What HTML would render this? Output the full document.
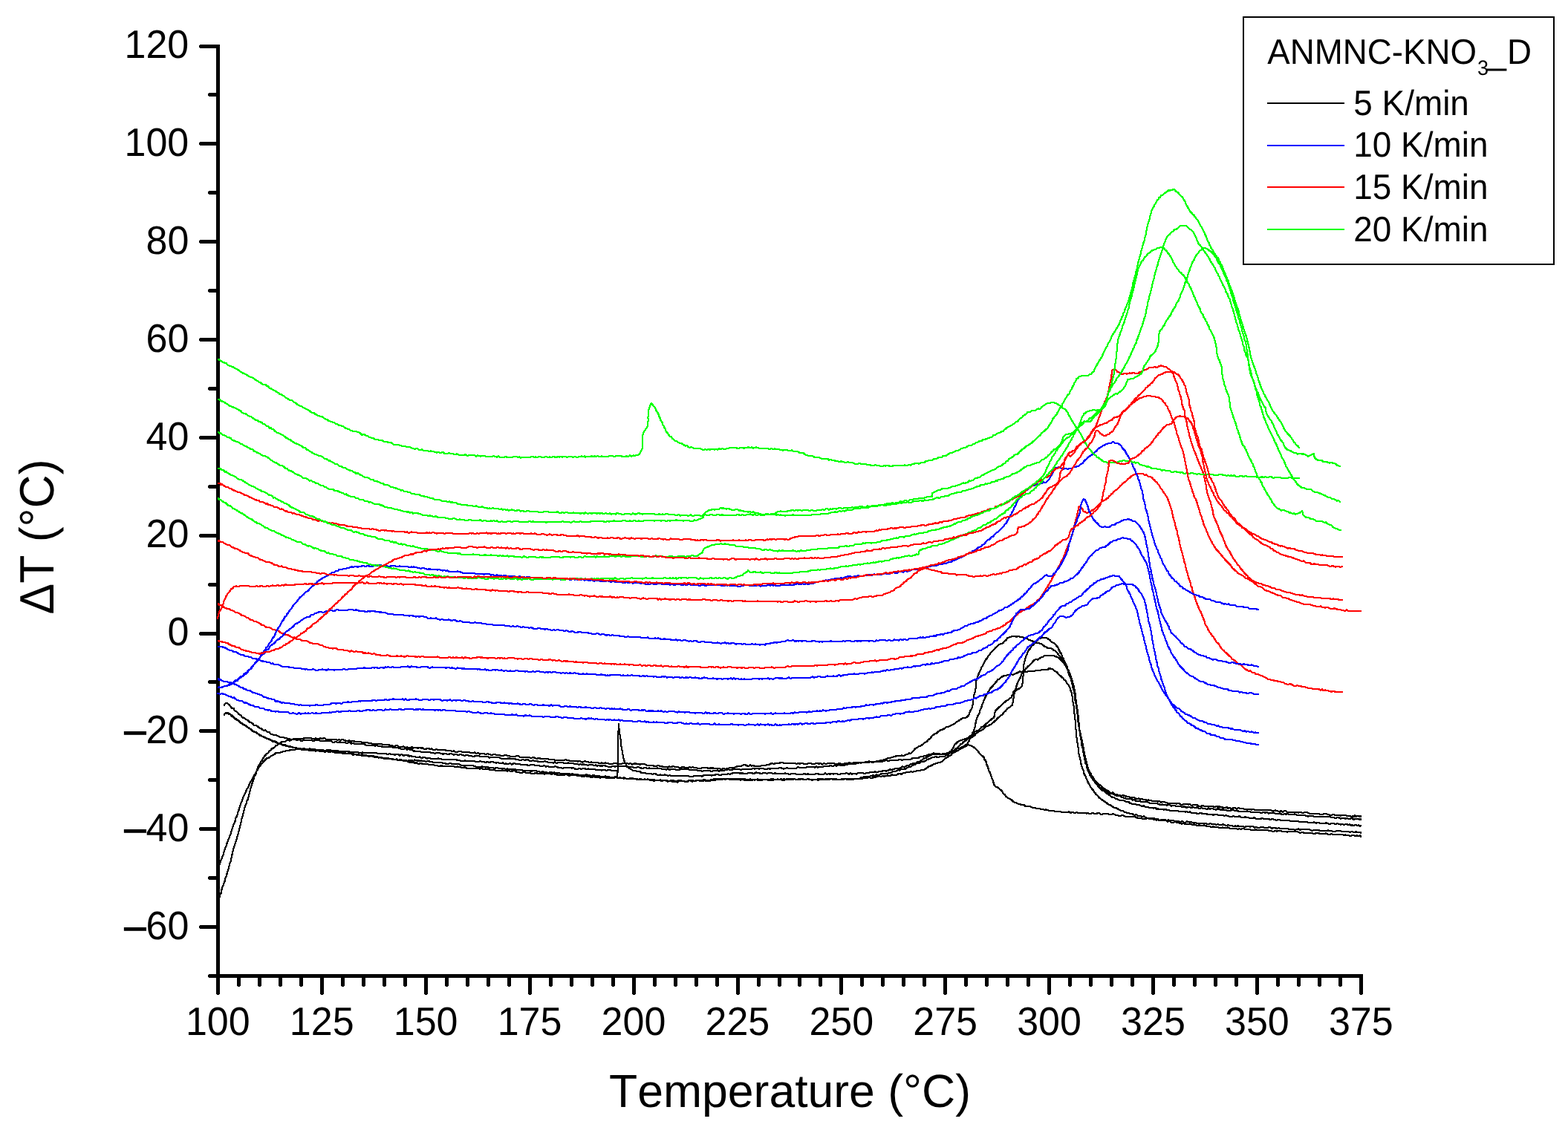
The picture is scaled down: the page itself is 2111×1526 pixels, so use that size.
<!DOCTYPE html>
<html lang="en"><head><meta charset="utf-8"><title>ANMNC-KNO3_D DTA curves</title>
<style>html,body{margin:0;padding:0;background:#fff}body{width:2111px;height:1526px;overflow:hidden}svg{display:block}</style>
</head><body>
<svg width="2111" height="1526" viewBox="0 0 2111 1526" role="img" aria-label="DTA curves of ANMNC-KNO3_D at 5, 10, 15 and 20 K/min">
<rect width="2111" height="1526" fill="#fff"/>
<g fill="#000" shape-rendering="crispEdges">
<rect x="291" y="60" width="5" height="1257"/>
<rect x="291" y="1312" width="1544" height="5"/>
<rect x="269" y="60" width="23" height="5"/>
<rect x="268" y="61" width="1" height="3"/>
<rect x="281" y="125" width="11" height="5"/>
<rect x="280" y="126" width="1" height="3"/>
<rect x="269" y="191" width="23" height="5"/>
<rect x="268" y="192" width="1" height="3"/>
<rect x="281" y="257" width="11" height="5"/>
<rect x="280" y="258" width="1" height="3"/>
<rect x="269" y="323" width="23" height="5"/>
<rect x="268" y="324" width="1" height="3"/>
<rect x="281" y="389" width="11" height="5"/>
<rect x="280" y="390" width="1" height="3"/>
<rect x="269" y="455" width="23" height="5"/>
<rect x="268" y="456" width="1" height="3"/>
<rect x="281" y="521" width="11" height="5"/>
<rect x="280" y="522" width="1" height="3"/>
<rect x="269" y="587" width="23" height="5"/>
<rect x="268" y="588" width="1" height="3"/>
<rect x="281" y="653" width="11" height="5"/>
<rect x="280" y="654" width="1" height="3"/>
<rect x="269" y="719" width="23" height="5"/>
<rect x="268" y="720" width="1" height="3"/>
<rect x="281" y="785" width="11" height="5"/>
<rect x="280" y="786" width="1" height="3"/>
<rect x="269" y="851" width="23" height="5"/>
<rect x="268" y="852" width="1" height="3"/>
<rect x="281" y="916" width="11" height="5"/>
<rect x="280" y="917" width="1" height="3"/>
<rect x="269" y="982" width="23" height="5"/>
<rect x="268" y="983" width="1" height="3"/>
<rect x="281" y="1048" width="11" height="5"/>
<rect x="280" y="1049" width="1" height="3"/>
<rect x="269" y="1114" width="23" height="5"/>
<rect x="268" y="1115" width="1" height="3"/>
<rect x="281" y="1180" width="11" height="5"/>
<rect x="280" y="1181" width="1" height="3"/>
<rect x="269" y="1246" width="23" height="5"/>
<rect x="268" y="1247" width="1" height="3"/>
<rect x="281" y="1312" width="11" height="5"/>
<rect x="280" y="1313" width="1" height="3"/>
<rect x="291" y="1316" width="5" height="23"/>
<rect x="292" y="1339" width="3" height="1"/>
<rect x="319" y="1316" width="5" height="12"/>
<rect x="320" y="1328" width="3" height="1"/>
<rect x="347" y="1316" width="5" height="12"/>
<rect x="348" y="1328" width="3" height="1"/>
<rect x="375" y="1316" width="5" height="12"/>
<rect x="376" y="1328" width="3" height="1"/>
<rect x="403" y="1316" width="5" height="12"/>
<rect x="404" y="1328" width="3" height="1"/>
<rect x="431" y="1316" width="5" height="23"/>
<rect x="432" y="1339" width="3" height="1"/>
<rect x="459" y="1316" width="5" height="12"/>
<rect x="460" y="1328" width="3" height="1"/>
<rect x="487" y="1316" width="5" height="12"/>
<rect x="488" y="1328" width="3" height="1"/>
<rect x="515" y="1316" width="5" height="12"/>
<rect x="516" y="1328" width="3" height="1"/>
<rect x="543" y="1316" width="5" height="12"/>
<rect x="544" y="1328" width="3" height="1"/>
<rect x="571" y="1316" width="5" height="23"/>
<rect x="572" y="1339" width="3" height="1"/>
<rect x="599" y="1316" width="5" height="12"/>
<rect x="600" y="1328" width="3" height="1"/>
<rect x="627" y="1316" width="5" height="12"/>
<rect x="628" y="1328" width="3" height="1"/>
<rect x="655" y="1316" width="5" height="12"/>
<rect x="656" y="1328" width="3" height="1"/>
<rect x="683" y="1316" width="5" height="12"/>
<rect x="684" y="1328" width="3" height="1"/>
<rect x="711" y="1316" width="5" height="23"/>
<rect x="712" y="1339" width="3" height="1"/>
<rect x="739" y="1316" width="5" height="12"/>
<rect x="740" y="1328" width="3" height="1"/>
<rect x="767" y="1316" width="5" height="12"/>
<rect x="768" y="1328" width="3" height="1"/>
<rect x="795" y="1316" width="5" height="12"/>
<rect x="796" y="1328" width="3" height="1"/>
<rect x="823" y="1316" width="5" height="12"/>
<rect x="824" y="1328" width="3" height="1"/>
<rect x="851" y="1316" width="5" height="23"/>
<rect x="852" y="1339" width="3" height="1"/>
<rect x="879" y="1316" width="5" height="12"/>
<rect x="880" y="1328" width="3" height="1"/>
<rect x="907" y="1316" width="5" height="12"/>
<rect x="908" y="1328" width="3" height="1"/>
<rect x="935" y="1316" width="5" height="12"/>
<rect x="936" y="1328" width="3" height="1"/>
<rect x="963" y="1316" width="5" height="12"/>
<rect x="964" y="1328" width="3" height="1"/>
<rect x="991" y="1316" width="5" height="23"/>
<rect x="992" y="1339" width="3" height="1"/>
<rect x="1019" y="1316" width="5" height="12"/>
<rect x="1020" y="1328" width="3" height="1"/>
<rect x="1047" y="1316" width="5" height="12"/>
<rect x="1048" y="1328" width="3" height="1"/>
<rect x="1074" y="1316" width="5" height="12"/>
<rect x="1075" y="1328" width="3" height="1"/>
<rect x="1102" y="1316" width="5" height="12"/>
<rect x="1103" y="1328" width="3" height="1"/>
<rect x="1130" y="1316" width="5" height="23"/>
<rect x="1131" y="1339" width="3" height="1"/>
<rect x="1158" y="1316" width="5" height="12"/>
<rect x="1159" y="1328" width="3" height="1"/>
<rect x="1186" y="1316" width="5" height="12"/>
<rect x="1187" y="1328" width="3" height="1"/>
<rect x="1214" y="1316" width="5" height="12"/>
<rect x="1215" y="1328" width="3" height="1"/>
<rect x="1242" y="1316" width="5" height="12"/>
<rect x="1243" y="1328" width="3" height="1"/>
<rect x="1270" y="1316" width="5" height="23"/>
<rect x="1271" y="1339" width="3" height="1"/>
<rect x="1298" y="1316" width="5" height="12"/>
<rect x="1299" y="1328" width="3" height="1"/>
<rect x="1326" y="1316" width="5" height="12"/>
<rect x="1327" y="1328" width="3" height="1"/>
<rect x="1354" y="1316" width="5" height="12"/>
<rect x="1355" y="1328" width="3" height="1"/>
<rect x="1382" y="1316" width="5" height="12"/>
<rect x="1383" y="1328" width="3" height="1"/>
<rect x="1410" y="1316" width="5" height="23"/>
<rect x="1411" y="1339" width="3" height="1"/>
<rect x="1438" y="1316" width="5" height="12"/>
<rect x="1439" y="1328" width="3" height="1"/>
<rect x="1466" y="1316" width="5" height="12"/>
<rect x="1467" y="1328" width="3" height="1"/>
<rect x="1494" y="1316" width="5" height="12"/>
<rect x="1495" y="1328" width="3" height="1"/>
<rect x="1522" y="1316" width="5" height="12"/>
<rect x="1523" y="1328" width="3" height="1"/>
<rect x="1550" y="1316" width="5" height="23"/>
<rect x="1551" y="1339" width="3" height="1"/>
<rect x="1578" y="1316" width="5" height="12"/>
<rect x="1579" y="1328" width="3" height="1"/>
<rect x="1606" y="1316" width="5" height="12"/>
<rect x="1607" y="1328" width="3" height="1"/>
<rect x="1634" y="1316" width="5" height="12"/>
<rect x="1635" y="1328" width="3" height="1"/>
<rect x="1662" y="1316" width="5" height="12"/>
<rect x="1663" y="1328" width="3" height="1"/>
<rect x="1690" y="1316" width="5" height="23"/>
<rect x="1691" y="1339" width="3" height="1"/>
<rect x="1718" y="1316" width="5" height="12"/>
<rect x="1719" y="1328" width="3" height="1"/>
<rect x="1746" y="1316" width="5" height="12"/>
<rect x="1747" y="1328" width="3" height="1"/>
<rect x="1774" y="1316" width="5" height="12"/>
<rect x="1775" y="1328" width="3" height="1"/>
<rect x="1802" y="1316" width="5" height="12"/>
<rect x="1803" y="1328" width="3" height="1"/>
<rect x="1830" y="1316" width="5" height="23"/>
<rect x="1831" y="1339" width="3" height="1"/>
</g>
<defs><filter id="pen" filterUnits="userSpaceOnUse" x="280" y="230" width="1570" height="1000" color-interpolation-filters="sRGB"><feOffset in="SourceGraphic" dx="1" dy="0" result="a"/><feOffset in="SourceGraphic" dx="0" dy="1" result="b"/><feOffset in="SourceGraphic" dx="1" dy="1" result="c"/><feMerge><feMergeNode in="SourceGraphic"/><feMergeNode in="a"/><feMergeNode in="b"/><feMergeNode in="c"/></feMerge></filter></defs>
<g fill="none" stroke="#000000" stroke-width="1" stroke-linejoin="round" shape-rendering="crispEdges" filter="url(#pen)" transform="translate(-0.5 -0.5)">
<path d="M293.5,1170.0 293.8,1168.8 294.8,1166.1 296.2,1163.3 296.6,1161.5 297.1,1159.5 298.0,1157.8 298.7,1155.7 299.6,1153.7 300.4,1151.5 301.0,1149.2 301.7,1146.9 302.3,1144.8 303.0,1142.8 303.9,1141.1 304.6,1139.2 305.3,1137.3 305.7,1135.0 306.7,1133.4 307.2,1131.2 308.2,1129.6 308.7,1127.4 309.6,1125.7 310.3,1123.8 311.0,1121.9 311.5,1119.7 312.3,1117.9 312.7,1115.6 313.5,1113.7 314.1,1111.7 314.9,1109.8 315.6,1107.9 316.5,1106.1 317.0,1103.9 317.5,1101.7 318.5,1100.0 319.3,1098.0 320.0,1096.1 320.3,1093.6 321.3,1092.0 321.8,1089.7 322.4,1087.6 323.0,1085.4 324.2,1083.9 324.5,1081.4 325.4,1079.7 326.1,1077.6 326.7,1075.6 327.3,1073.5 328.4,1071.8 329.2,1069.7 330.3,1068.2 330.8,1065.7 332.0,1064.4 332.7,1062.2 334.0,1061.0 334.7,1058.5 335.8,1056.5 336.7,1054.3 337.7,1052.1 339.1,1050.8 339.9,1048.5 341.1,1047.0 341.9,1044.8 343.1,1043.5 343.9,1041.4 344.9,1039.8 345.9,1038.2 346.3,1036.0 346.9,1033.9 347.7,1031.9 348.8,1030.1 350.0,1028.6 350.9,1026.4 352.2,1024.8 353.4,1022.7 354.7,1020.8 356.0,1018.8 357.4,1017.1 358.6,1015.4 360.4,1014.8 361.7,1013.1 362.9,1011.0 364.6,1010.5 365.9,1008.4 367.6,1007.8 369.6,1006.6 371.2,1004.1 373.4,1003.8 375.3,1002.0 377.5,1000.8 379.4,999.3 381.5,999.5 383.6,999.1 385.7,997.5 387.9,997.2 390.1,997.6 392.1,996.9 394.1,995.8 396.2,995.1 398.3,995.4 400.4,995.7 402.5,995.0 404.6,994.8 406.7,994.7 408.7,994.7 410.8,993.6 412.9,994.5 415.0,994.2 417.0,993.6 419.0,994.4 421.0,994.7 423.0,994.9 425.2,994.4 427.5,994.9 429.3,995.5 431.2,994.0 433.1,995.2 435.2,994.4 437.3,994.4 439.5,996.1 441.6,995.8 443.9,995.6 446.0,995.9 448.2,996.1 450.4,995.5 452.5,995.8 454.5,997.1 456.5,996.1 458.4,996.9 460.4,996.3 462.3,996.4 464.2,997.0 466.1,998.3 468.2,997.8 470.3,997.4 472.5,998.7 475.0,997.8 477.5,998.7 479.1,998.5 480.7,999.1 482.6,998.6 484.5,999.1 486.5,999.6 488.6,1000.7 490.8,999.9 493.1,999.7 495.5,1000.6 497.9,1000.6 500.3,1001.5 502.8,1001.9 505.4,1002.3 508.0,1002.3 510.6,1001.7 513.1,1001.9 515.7,1003.0 518.3,1002.6 520.8,1002.9 523.3,1003.2 525.8,1004.4 528.2,1004.5 530.6,1005.1 532.9,1004.5 535.1,1004.4 537.2,1006.2 539.3,1005.5 541.2,1006.2 543.1,1005.2 544.8,1005.9 546.3,1007.2 547.8,1006.4 549.0,1006.6 550.1,1007.2 551.1,1006.6 551.9,1006.5 552.5,1006.6 554.0,1007.5 554.5,1006.0 555.0,1006.9 555.6,1007.8 556.4,1007.6 557.2,1007.4 558.1,1007.5 559.2,1006.5 560.3,1007.5 561.5,1007.0 562.7,1008.2 564.1,1007.1 565.5,1007.0 567.0,1008.0 568.5,1007.2 570.1,1008.2 571.8,1009.1 573.6,1008.7 575.4,1007.7 577.3,1007.9 579.2,1009.5 581.2,1008.4 583.3,1009.8 585.3,1010.3 587.5,1009.1 589.7,1009.8 591.9,1010.2 594.2,1010.4 596.5,1009.9 598.8,1010.0 601.1,1011.0 603.5,1011.4 606.0,1010.7 608.4,1011.9 610.9,1011.5 613.3,1012.8 615.9,1012.7 618.4,1011.5 620.9,1012.4 623.4,1013.2 626.0,1012.6 628.6,1012.5 631.1,1012.8 633.7,1014.1 636.2,1014.0 638.8,1013.4 641.3,1014.8 643.9,1014.1 646.3,1015.6 648.9,1015.0 651.4,1015.0 653.8,1016.0 656.3,1015.2 658.7,1015.9 661.1,1016.7 663.5,1016.5 665.8,1015.7 668.1,1016.7 670.3,1017.2 672.6,1017.1 674.7,1017.9 676.9,1017.8 679.0,1017.5 681.0,1017.2 683.0,1017.6 685.0,1017.6 687.1,1018.8 689.2,1018.7 691.3,1018.9 693.5,1019.3 695.7,1018.0 697.9,1018.2 700.1,1019.8 702.3,1019.6 704.6,1020.0 706.9,1019.6 709.1,1020.1 711.5,1019.6 713.8,1020.6 716.1,1020.6 718.5,1020.3 720.8,1021.2 723.1,1022.0 725.5,1020.8 727.9,1022.0 730.3,1022.1 732.6,1021.6 735.0,1022.1 737.4,1022.4 739.7,1022.7 742.1,1022.5 744.5,1022.7 746.8,1023.8 749.2,1023.9 751.5,1023.6 753.8,1023.6 756.1,1024.3 758.4,1024.1 760.7,1023.3 763.0,1023.6 765.2,1024.1 767.4,1024.7 769.7,1024.7 771.8,1025.1 774.0,1025.3 776.1,1024.6 778.2,1025.7 780.3,1024.8 782.3,1025.8 784.3,1026.8 786.4,1025.5 788.3,1025.4 790.2,1026.3 792.1,1026.1 793.9,1027.2 795.7,1026.4 797.5,1027.5 799.2,1026.7 800.9,1027.1 802.5,1026.8 804.1,1027.2 805.6,1027.5 807.0,1028.4 808.5,1028.1 809.9,1026.9 811.2,1028.3 812.4,1028.2 813.6,1027.7 814.8,1027.4 815.9,1028.0 816.9,1027.7 817.9,1028.0 820.7,1028.9 822.9,1028.5 824.7,1029.0 826.4,1027.9 828.2,1027.7 830.5,1028.5 832.2,1029.0 834.0,1029.0 835.9,1029.0 837.8,1028.3 839.9,1028.5 842.0,1028.4 844.2,1027.7 846.4,1028.8 848.6,1028.1 850.8,1029.6 853.1,1028.8 855.3,1028.1 857.5,1029.6 859.7,1028.6 861.7,1030.0 863.8,1028.7 865.9,1029.0 868.0,1029.4 870.0,1030.5 872.0,1030.8 874.1,1031.1 876.2,1031.0 878.2,1030.7 880.3,1031.6 882.4,1032.1 884.5,1031.4 886.6,1031.4 888.7,1031.6 890.8,1032.0 893.0,1033.0 895.0,1033.2 897.0,1033.4 899.1,1033.0 901.2,1032.2 903.3,1033.5 905.4,1032.2 907.5,1032.5 909.6,1032.8 911.7,1032.7 913.9,1033.9 916.0,1033.8 918.1,1033.5 920.2,1032.8 922.3,1034.4 924.4,1034.3 926.5,1034.2 928.5,1033.1 930.5,1034.0 932.7,1033.2 934.9,1034.4 937.2,1034.2 939.4,1034.9 941.6,1034.9 943.9,1034.6 946.1,1034.1 948.3,1034.1 950.4,1034.3 952.5,1034.2 954.5,1035.6 956.5,1034.1 958.3,1034.8 960.1,1034.1 961.7,1035.3 964.2,1035.3 966.3,1035.6 968.4,1034.7 970.3,1036.2 972.2,1035.9 974.2,1035.0 976.4,1035.7 978.5,1035.3 980.7,1034.9 982.7,1034.1 984.8,1034.2 986.8,1034.3 989.1,1033.8 991.1,1032.9 993.2,1032.0 995.5,1031.8 997.3,1031.6 999.2,1031.5 1001.3,1029.9 1003.4,1030.2 1005.6,1031.4 1007.7,1032.0 1009.8,1030.4 1011.7,1031.6 1013.9,1031.3 1016.0,1031.7 1018.1,1031.8 1020.2,1031.6 1022.2,1031.9 1024.3,1031.8 1026.3,1030.8 1028.4,1030.5 1030.6,1030.8 1032.6,1030.1 1034.7,1029.7 1036.8,1029.4 1038.8,1028.0 1040.8,1028.6 1042.9,1028.6 1044.9,1027.5 1047.0,1027.7 1049.3,1028.0 1051.2,1026.8 1053.2,1026.7 1055.3,1028.0 1057.5,1027.6 1059.6,1028.4 1061.8,1027.7 1063.9,1028.0 1066.0,1027.6 1068.0,1028.1 1070.3,1027.5 1072.5,1029.1 1074.5,1028.1 1076.7,1028.7 1079.1,1027.9 1081.9,1028.6 1083.3,1028.6 1084.9,1028.9 1086.6,1029.0 1088.3,1027.7 1090.2,1028.0 1092.1,1028.5 1094.1,1028.7 1096.2,1029.0 1098.3,1028.4 1100.5,1028.1 1102.7,1028.7 1105.0,1028.0 1107.2,1029.6 1109.5,1027.9 1111.7,1028.9 1113.9,1028.5 1116.2,1027.9 1118.3,1028.4 1120.5,1028.0 1122.6,1028.0 1124.6,1029.0 1126.6,1028.8 1128.5,1028.6 1130.3,1028.0 1132.0,1028.7 1134.4,1029.1 1136.7,1028.4 1138.9,1028.3 1141.0,1028.3 1143.0,1027.4 1145.0,1027.6 1147.0,1027.5 1149.0,1027.5 1151.0,1027.3 1152.9,1027.6 1154.9,1026.8 1157.0,1026.7 1159.1,1027.3 1161.3,1027.5 1163.5,1026.8 1165.7,1026.0 1167.9,1026.7 1170.0,1025.5 1172.2,1025.6 1174.3,1026.1 1176.4,1026.0 1178.4,1025.9 1180.2,1025.7 1182.0,1025.3 1184.3,1024.6 1186.5,1024.1 1188.6,1023.9 1190.5,1022.7 1192.5,1022.8 1194.5,1021.4 1196.5,1021.2 1198.6,1020.7 1200.6,1020.4 1202.6,1019.4 1204.8,1019.1 1206.9,1018.0 1208.9,1017.8 1211.1,1018.2 1213.4,1017.4 1215.7,1017.7 1218.0,1017.5 1220.2,1016.3 1222.3,1015.6 1224.1,1014.5 1225.9,1015.0 1227.7,1013.5 1229.1,1011.9 1230.4,1010.4 1232.0,1008.6 1233.5,1007.4 1235.2,1006.5 1237.0,1005.4 1239.0,1005.2 1240.8,1003.6 1242.7,1002.3 1244.4,1000.7 1246.0,999.7 1247.8,998.9 1249.2,996.9 1250.8,995.6 1252.5,994.5 1253.9,992.5 1255.3,990.7 1256.9,989.7 1258.6,988.4 1260.4,987.9 1261.9,986.7 1263.4,985.0 1265.2,984.0 1267.0,982.9 1268.8,982.7 1270.6,981.7 1272.4,980.6 1274.3,979.0 1276.4,979.2 1278.3,978.1 1280.2,976.9 1282.0,976.2 1283.9,975.2 1285.8,974.3 1287.5,972.5 1289.4,971.8 1291.1,970.5 1292.8,969.4 1294.4,968.2 1296.8,966.9 1299.4,967.0 1301.6,966.2 1303.2,964.3 1304.7,962.6 1305.4,960.1 1306.1,957.7 1307.1,955.9 1308.3,954.4 1309.2,952.3 1309.5,949.9 1310.0,947.6 1310.0,945.0 1310.4,942.6 1310.7,940.1 1311.1,937.6 1311.6,935.3 1312.4,933.2 1312.8,930.5 1313.4,928.2 1313.9,925.6 1313.8,923.1 1314.4,920.8 1314.1,918.2 1314.7,916.0 1315.3,914.1 1316.1,912.2 1316.6,910.0 1317.4,908.2 1318.4,906.1 1319.3,904.0 1320.5,901.9 1321.1,899.6 1322.1,897.8 1323.2,896.2 1324.3,894.3 1325.2,892.4 1326.1,889.9 1327.3,888.0 1328.8,886.7 1329.9,884.6 1331.0,882.8 1332.4,881.7 1333.4,879.8 1334.8,878.4 1336.2,877.0 1337.7,875.3 1339.2,873.7 1340.7,871.9 1342.4,870.9 1344.4,868.5 1346.6,867.5 1349.0,866.9 1350.6,865.9 1351.9,863.7 1353.7,863.0 1355.1,861.6 1356.4,859.2 1358.4,858.6 1360.3,857.7 1362.2,857.4 1364.5,856.7 1367.0,857.5 1369.1,857.5 1371.4,857.0 1373.6,858.4 1375.9,857.9 1378.1,858.6 1380.3,859.4 1382.2,859.8 1384.1,861.1 1386.0,862.1 1387.9,862.7 1390.1,863.5 1392.3,864.6 1394.5,865.2 1396.4,865.6 1398.3,865.9 1400.3,866.7 1402.2,867.2 1404.2,868.8 1406.2,870.8 1408.4,871.4 1410.6,873.0 1412.6,872.5 1414.7,873.1 1416.7,873.9 1418.4,875.8 1420.2,875.8 1421.9,878.1 1423.5,879.7 1425.0,881.7 1426.5,883.8 1428.1,885.5 1429.7,887.5 1430.9,889.3 1432.1,891.2 1433.5,892.7 1434.3,895.3 1435.2,897.0 1436.0,898.8 1436.6,900.9 1437.5,902.6 1438.1,904.7 1438.7,906.6 1439.3,908.6 1440.3,910.2 1440.8,912.2 1441.6,913.9 1442.2,915.8 1442.6,918.4 1443.3,920.6 1443.7,923.0 1444.2,925.3 1444.8,927.4 1445.6,929.7 1445.8,932.2 1446.4,934.4 1446.9,936.9 1447.1,938.9 1447.3,941.0 1447.5,943.0 1448.1,945.0 1448.4,947.1 1448.9,949.2 1449.0,951.2 1449.0,953.4 1449.7,955.2 1450.0,957.2 1449.8,959.5 1450.5,961.4 1450.6,963.5 1450.7,965.6 1451.1,967.7 1451.2,970.0 1451.4,972.1 1451.7,974.1 1452.3,975.9 1452.4,977.8 1453.2,980.1 1453.3,982.6 1453.8,985.1 1454.4,986.8 1454.7,988.9 1455.2,991.0 1455.6,993.3 1456.1,995.5 1456.9,997.6 1457.3,1000.0 1457.4,1002.0 1458.2,1003.7 1458.4,1005.8 1458.8,1007.8 1458.9,1010.0 1459.4,1011.9 1459.9,1013.9 1460.2,1016.0 1460.7,1018.0 1461.2,1019.9 1461.6,1022.0 1461.8,1024.1 1462.3,1026.2 1463.1,1028.0 1463.7,1029.9 1463.8,1032.3 1464.5,1034.0 1465.2,1035.8 1466.2,1037.2 1466.7,1039.7 1468.1,1041.0 1469.1,1042.8 1469.8,1045.2 1471.1,1046.6 1472.4,1048.1 1473.4,1050.3 1474.6,1052.1 1476.1,1053.1 1477.5,1054.4 1478.8,1056.6 1480.5,1057.2 1482.1,1058.1 1483.6,1059.5 1485.0,1061.7 1486.8,1062.2 1488.4,1064.2 1490.3,1064.2 1492.1,1065.6 1493.9,1067.2 1495.9,1068.2 1497.8,1067.4 1499.6,1068.3 1501.4,1070.2 1503.4,1069.9 1505.3,1071.1 1507.4,1070.9 1509.5,1071.9 1511.7,1070.8 1513.8,1071.9 1516.0,1072.5 1517.8,1073.3 1519.6,1073.0 1521.5,1073.9 1523.3,1074.1 1525.3,1074.3 1527.2,1074.0 1529.1,1075.7 1531.1,1076.3 1533.2,1075.3 1535.2,1076.6 1537.3,1076.3 1539.4,1076.6 1541.6,1076.5 1543.7,1078.1 1546.0,1077.4 1547.8,1077.9 1549.6,1078.1 1551.4,1078.9 1553.3,1079.0 1555.2,1078.8 1557.1,1079.2 1559.1,1079.7 1561.1,1079.2 1563.0,1080.7 1565.1,1079.6 1567.1,1079.7 1569.1,1081.1 1571.2,1081.3 1573.3,1082.1 1575.3,1082.3 1577.4,1082.3 1579.6,1081.7 1581.6,1081.8 1583.7,1082.6 1585.8,1082.4 1587.9,1082.4 1589.9,1083.8 1591.9,1083.6 1594.0,1083.4 1596.0,1082.8 1598.0,1083.3 1600.0,1083.6 1602.0,1083.3 1603.9,1084.7 1605.8,1084.5 1607.8,1083.7 1609.7,1084.4 1611.7,1084.3 1613.6,1085.6 1615.5,1085.7 1617.4,1085.9 1619.4,1084.7 1621.3,1086.2 1623.3,1085.9 1625.3,1086.1 1627.2,1086.7 1629.3,1085.8 1631.3,1086.3 1633.3,1086.0 1635.3,1087.3 1637.4,1086.0 1639.5,1086.7 1641.7,1086.4 1643.8,1087.2 1646.0,1087.5 1647.8,1088.3 1649.7,1088.0 1651.5,1087.0 1653.4,1088.9 1655.3,1088.0 1657.1,1089.0 1659.0,1089.0 1660.9,1088.1 1662.9,1088.1 1664.8,1089.6 1666.7,1088.1 1668.7,1088.6 1670.7,1088.5 1672.6,1088.8 1674.6,1089.7 1676.6,1090.2 1678.6,1090.6 1680.6,1090.3 1682.6,1089.8 1684.7,1090.7 1686.8,1089.5 1688.8,1090.9 1690.9,1090.5 1693.0,1090.5 1695.0,1090.8 1697.1,1091.2 1699.3,1090.6 1701.4,1090.6 1703.5,1091.4 1705.7,1091.5 1707.8,1090.9 1710.0,1090.9 1712.2,1091.9 1714.4,1092.8 1716.6,1091.4 1718.8,1091.8 1721.0,1092.7 1722.9,1093.4 1724.8,1092.0 1726.8,1093.6 1729.0,1092.3 1731.1,1092.3 1733.4,1093.9 1735.7,1093.5 1738.0,1094.3 1740.5,1093.4 1742.9,1094.8 1745.4,1093.4 1747.9,1094.6 1750.5,1093.7 1753.1,1094.8 1755.8,1094.5 1758.5,1094.2 1761.1,1094.6 1763.8,1096.2 1766.5,1096.2 1769.2,1095.5 1771.9,1096.3 1774.6,1095.6 1777.3,1097.1 1780.0,1097.0 1782.6,1095.9 1785.3,1096.3 1787.9,1096.9 1790.4,1097.9 1793.0,1097.7 1795.5,1097.0 1797.9,1098.2 1800.4,1098.4 1802.7,1097.9 1805.0,1098.8 1807.3,1097.7 1809.4,1098.1 1811.5,1097.9 1813.5,1099.0 1815.5,1099.6 1817.4,1099.1 1819.1,1099.8 1820.8,1099.4 1822.4,1100.2 1823.9,1098.5 1825.3,1100.0 1826.5,1099.6 1827.7,1099.3 1828.7,1099.2 1829.6,1099.2 1830.4,1099.8 1831.1,1099.1 1831.6,1099.3 1831.9,1100.4 1832.2,1099.4 1832.2,1100.0"/>
<path d="M301.5,950.0 303.7,946.9 306.1,947.4 308.9,949.4 310.0,951.0 311.3,952.7 312.8,954.1 314.7,954.4 315.9,957.3 317.9,957.9 319.6,959.3 321.1,961.8 322.7,962.7 324.4,963.6 325.9,965.7 327.6,966.8 329.5,967.5 331.1,969.1 333.1,969.7 334.8,971.2 336.4,972.9 338.4,973.2 340.1,974.5 341.7,976.7 343.7,977.0 345.7,977.6 347.5,979.0 349.3,980.5 351.2,980.9 353.0,982.6 354.9,983.7 356.9,983.5 358.8,984.7 360.5,986.5 362.5,986.1 364.1,988.3 366.0,988.9 367.8,989.7 369.7,990.3 371.7,989.9 373.5,991.1 375.5,992.1 377.5,992.7 379.4,993.3 381.5,992.7 383.4,994.3 385.6,993.6 387.6,995.3 389.7,995.3 391.8,995.9 394.0,996.0 396.1,996.2 398.3,996.5 400.4,997.0 402.5,996.0 404.5,997.3 406.5,998.1 408.5,996.9 410.5,996.6 412.5,997.4 414.5,997.5 416.5,997.2 418.5,997.2 420.6,997.5 422.8,997.6 425.1,996.6 427.5,997.0 429.2,996.9 430.9,997.8 432.6,998.1 434.4,998.1 436.2,998.4 438.1,997.6 440.0,997.7 441.9,998.2 443.8,998.1 445.8,997.9 447.8,999.5 449.8,999.9 451.8,999.0 453.9,999.8 455.9,1000.1 458.1,999.0 460.1,1000.5 462.3,999.5 464.4,999.8 466.6,1001.2 468.8,1000.4 470.9,1000.3 473.1,1001.6 475.3,1000.7 477.5,1002.3 479.4,1002.5 481.4,1001.7 483.4,1001.7 485.6,1001.8 487.8,1002.3 490.1,1001.9 492.4,1003.5 494.8,1003.7 497.2,1003.6 499.7,1003.7 502.2,1003.6 504.7,1004.7 507.3,1004.3 509.8,1004.7 512.4,1004.9 514.9,1005.9 517.4,1005.8 519.9,1005.5 522.4,1005.9 524.8,1005.9 527.1,1006.3 529.5,1006.8 531.7,1007.3 533.9,1007.2 536.0,1007.3 538.0,1007.9 539.9,1008.7 541.8,1009.1 543.5,1008.9 545.1,1008.4 546.6,1008.3 547.9,1009.7 549.2,1008.8 550.2,1009.5 551.2,1009.2 551.9,1009.7 552.6,1009.2 554.0,1010.4 554.5,1010.6 555.0,1010.4 555.7,1010.7 556.4,1010.5 557.2,1012.0 558.2,1010.7 559.1,1012.3 560.3,1011.4 561.4,1012.0 562.7,1012.0 564.0,1012.5 565.5,1011.8 566.9,1012.7 568.5,1012.9 570.1,1012.5 571.8,1012.5 573.6,1013.2 575.4,1013.2 577.3,1013.0 579.2,1013.4 581.2,1013.9 583.3,1014.0 585.3,1014.8 587.5,1014.3 589.7,1013.9 591.9,1014.2 594.1,1015.0 596.4,1015.8 598.8,1014.7 601.1,1015.3 603.5,1016.2 606.0,1015.1 608.4,1015.5 610.9,1016.7 613.4,1015.6 615.9,1016.8 618.4,1016.5 620.9,1016.3 623.4,1017.4 626.0,1017.6 628.6,1017.3 631.1,1017.6 633.7,1017.8 636.2,1018.8 638.8,1018.6 641.3,1017.7 643.9,1018.1 646.4,1018.8 648.9,1018.9 651.4,1019.5 653.8,1018.8 656.3,1018.8 658.7,1020.6 661.1,1020.0 663.5,1019.5 665.8,1020.0 668.1,1020.3 670.4,1020.0 672.6,1020.6 674.8,1021.8 676.9,1021.6 679.0,1021.9 681.0,1022.0 683.0,1021.7 685.0,1021.3 687.0,1021.7 689.1,1021.5 691.2,1022.3 693.3,1022.2 695.4,1023.2 697.6,1023.1 699.7,1024.0 701.9,1023.6 704.1,1022.7 706.3,1023.9 708.5,1023.4 710.8,1023.4 713.0,1025.1 715.2,1025.0 717.5,1023.8 719.8,1025.1 722.1,1024.5 724.3,1025.6 726.6,1025.8 728.9,1026.3 731.2,1026.3 733.5,1025.0 735.7,1025.8 738.0,1026.6 740.3,1026.8 742.6,1027.2 744.8,1027.6 747.1,1026.3 749.3,1027.9 751.6,1027.0 753.9,1026.8 756.1,1027.1 758.3,1027.5 760.5,1028.5 762.7,1027.9 764.9,1027.4 767.0,1028.0 769.2,1027.8 771.3,1028.1 773.4,1028.8 775.5,1029.5 777.6,1029.2 779.6,1030.2 781.6,1028.8 783.6,1030.3 785.6,1029.1 787.5,1029.7 789.4,1029.9 791.3,1030.7 793.2,1030.4 795.0,1030.5 796.8,1029.7 798.6,1030.5 800.3,1030.7 802.0,1030.3 803.6,1031.8 805.2,1030.5 806.8,1030.5 808.3,1031.9 809.8,1031.1 811.3,1031.9 812.7,1030.9 814.1,1030.9 815.4,1031.7 816.6,1032.1 817.9,1032.5 820.7,1032.6 823.2,1032.7 825.6,1031.9 827.7,1032.7 829.8,1031.9 831.7,1032.6 833.6,1032.2 835.4,1031.7 837.2,1031.5 839.1,1032.2 841.0,1032.4 843.0,1031.6 845.1,1032.5 847.1,1033.1 849.2,1033.5 851.2,1033.1 853.3,1034.0 855.3,1033.9 857.4,1033.6 859.5,1032.9 861.6,1034.1 863.7,1034.7 865.8,1034.8 868.0,1034.2 870.0,1034.4 872.0,1035.0 874.1,1034.4 876.2,1035.2 878.3,1034.6 880.4,1035.3 882.6,1035.0 884.7,1034.4 886.8,1035.3 889.0,1034.6 891.1,1036.1 893.2,1036.0 895.2,1035.8 897.3,1036.6 899.3,1035.1 901.4,1036.8 903.5,1035.6 905.6,1035.9 907.7,1036.2 909.7,1036.6 911.7,1036.8 913.8,1037.0 915.8,1036.2 917.9,1035.9 920.0,1035.7 922.1,1035.7 924.3,1036.1 926.3,1035.8 928.3,1037.3 930.4,1037.5 932.5,1037.4 934.7,1036.8 936.9,1036.8 939.1,1037.7 941.2,1038.2 943.4,1038.3 945.5,1038.8 947.7,1038.1 949.7,1037.9 951.7,1038.0 953.6,1038.0 955.5,1038.1 957.8,1039.4 960.0,1038.3 962.1,1038.3 964.2,1038.4 966.2,1037.5 968.2,1038.6 970.2,1037.0 972.2,1038.3 974.3,1037.9 976.3,1037.1 978.4,1037.2 980.5,1036.2 982.6,1036.7 984.7,1037.2 986.7,1036.1 988.8,1036.0 990.9,1036.2 993.0,1036.0 995.1,1035.6 997.2,1036.8 999.3,1036.2 1001.3,1035.5 1003.4,1036.3 1005.5,1035.6 1007.6,1035.5 1009.7,1036.1 1011.7,1035.6 1013.8,1035.3 1015.9,1035.6 1017.9,1034.8 1019.9,1034.8 1022.0,1035.9 1024.0,1034.6 1026.1,1034.8 1028.3,1035.5 1030.5,1035.5 1032.5,1035.7 1034.5,1035.2 1036.5,1035.8 1038.5,1034.4 1040.6,1035.4 1042.7,1035.4 1044.9,1034.9 1047.0,1035.3 1049.1,1034.3 1051.3,1034.1 1053.4,1035.3 1055.5,1035.6 1057.5,1034.8 1059.5,1033.9 1061.6,1034.9 1063.6,1035.2 1065.6,1035.1 1067.7,1035.1 1069.7,1035.0 1071.8,1035.0 1073.8,1033.3 1075.8,1033.5 1077.9,1034.5 1079.9,1034.2 1081.9,1033.6 1084.0,1034.4 1086.1,1033.2 1088.2,1032.9 1090.3,1032.7 1092.4,1033.4 1094.5,1032.7 1096.6,1033.7 1098.6,1032.2 1100.8,1033.7 1102.8,1033.2 1104.9,1033.1 1107.0,1033.2 1109.1,1032.2 1111.2,1031.7 1113.3,1032.0 1115.3,1032.0 1117.4,1031.4 1119.5,1031.5 1121.6,1032.4 1123.7,1030.8 1125.8,1031.6 1127.8,1030.6 1129.9,1030.2 1132.0,1031.5 1134.1,1030.1 1136.2,1031.1 1138.2,1029.3 1140.3,1030.2 1142.4,1028.9 1144.5,1029.4 1146.6,1028.5 1148.7,1029.3 1150.8,1029.4 1152.8,1027.9 1154.9,1028.2 1157.0,1027.3 1159.1,1027.7 1161.1,1027.1 1163.2,1027.3 1165.3,1027.5 1167.4,1026.7 1169.5,1027.0 1171.6,1026.0 1173.7,1026.6 1175.8,1026.9 1177.8,1025.7 1179.9,1025.4 1182.0,1025.4 1184.1,1026.1 1186.2,1026.1 1188.3,1025.4 1190.3,1024.9 1192.4,1024.1 1194.5,1024.6 1196.6,1025.1 1198.7,1023.7 1200.7,1024.2 1202.8,1023.8 1204.9,1024.1 1207.0,1024.1 1209.1,1023.6 1211.3,1022.8 1213.5,1023.5 1215.7,1023.5 1217.9,1023.0 1220.1,1023.2 1222.2,1023.0 1224.3,1022.5 1226.4,1022.7 1228.3,1021.2 1230.2,1020.8 1232.0,1021.4 1234.3,1020.9 1236.5,1020.8 1238.5,1019.3 1240.5,1019.1 1242.5,1019.1 1244.5,1018.2 1246.6,1018.2 1248.6,1017.0 1250.6,1015.9 1252.8,1016.7 1254.8,1015.2 1257.0,1014.5 1259.1,1014.9 1261.3,1015.1 1263.6,1014.6 1265.9,1015.6 1268.1,1015.8 1270.1,1015.0 1272.0,1015.8 1274.8,1014.6 1277.3,1014.3 1279.4,1011.9 1280.9,1011.1 1282.0,1009.0 1283.4,1007.4 1284.3,1004.9 1285.4,1002.5 1287.1,1001.5 1288.8,999.5 1290.8,998.3 1292.9,997.5 1295.0,996.6 1297.0,996.4 1299.0,995.2 1301.0,995.0 1302.8,994.1 1304.6,992.8 1306.0,990.8 1307.7,990.5 1309.3,989.4 1310.8,987.9 1312.3,985.8 1314.1,984.6 1316.1,984.0 1318.0,983.2 1319.6,981.7 1321.0,979.4 1322.7,978.8 1324.3,977.8 1325.8,976.7 1327.3,975.1 1328.9,973.9 1330.5,972.6 1331.9,970.9 1333.7,970.1 1335.3,968.3 1337.0,967.4 1338.4,966.5 1338.6,963.8 1339.0,961.3 1339.6,959.0 1340.5,957.1 1341.9,955.4 1343.6,954.1 1345.2,952.0 1347.0,951.3 1348.4,949.4 1350.0,948.2 1351.4,946.4 1353.0,945.5 1354.5,943.8 1356.4,943.2 1358.1,941.8 1359.7,940.5 1361.4,940.1 1362.3,937.4 1363.5,935.6 1364.0,932.8 1365.4,930.8 1367.0,929.3 1367.7,927.3 1368.2,925.0 1368.9,922.7 1369.7,920.6 1370.7,918.4 1371.6,916.1 1372.6,914.1 1373.8,912.5 1374.6,910.4 1375.2,907.9 1376.2,906.0 1377.8,904.0 1379.6,902.8 1381.1,900.4 1382.7,899.6 1383.8,897.4 1385.5,896.8 1386.8,894.8 1388.4,894.0 1389.7,892.1 1391.1,890.5 1392.6,889.1 1394.7,887.9 1397.1,888.6 1399.3,887.1 1401.4,885.5 1403.7,885.0 1405.9,883.1 1408.1,883.2 1410.3,883.2 1412.6,883.0 1414.7,882.8 1416.9,882.8 1419.1,883.3 1421.1,883.9 1423.1,885.2 1425.1,885.8 1426.9,887.3 1428.2,889.1 1429.7,890.4 1431.0,892.2 1432.4,893.4 1433.5,895.4 1434.8,897.1 1436.2,898.7 1437.0,901.1 1438.2,902.8 1438.9,904.8 1439.8,906.5 1440.7,908.2 1441.4,910.1 1442.2,912.0 1442.8,914.2 1443.3,916.4 1444.2,918.4 1444.5,921.0 1445.5,923.0 1445.8,925.5 1446.3,927.5 1446.8,929.5 1447.0,931.7 1447.5,933.7 1447.9,935.9 1448.0,938.1 1448.3,940.4 1448.5,942.7 1448.9,944.7 1449.2,946.7 1449.4,948.8 1450.0,950.8 1450.3,952.9 1450.2,955.1 1450.7,957.2 1451.1,959.2 1451.2,961.4 1451.4,963.6 1451.6,965.7 1452.2,967.8 1452.2,970.0 1452.4,972.2 1452.6,974.4 1452.4,976.7 1452.5,978.9 1453.2,980.9 1453.3,982.9 1453.6,984.9 1453.7,987.3 1453.8,989.5 1454.6,991.4 1454.8,993.5 1455.4,995.5 1455.6,997.7 1455.9,1000.1 1456.2,1002.0 1456.5,1004.0 1457.2,1005.7 1457.6,1007.7 1457.6,1010.0 1458.1,1012.0 1458.7,1013.9 1458.9,1016.1 1459.3,1018.1 1460.0,1019.8 1460.4,1021.9 1460.6,1024.1 1461.1,1026.1 1461.5,1028.2 1462.5,1029.7 1462.9,1031.8 1463.4,1033.8 1463.9,1035.9 1464.8,1037.4 1465.7,1039.5 1466.6,1041.7 1467.5,1043.9 1468.9,1045.3 1469.7,1047.9 1471.0,1049.3 1472.2,1051.4 1473.6,1052.6 1474.8,1054.3 1476.3,1055.5 1477.5,1057.8 1479.3,1058.0 1480.5,1060.4 1482.3,1061.1 1483.9,1063.2 1485.8,1064.1 1487.7,1065.3 1489.7,1066.3 1491.7,1067.1 1493.9,1067.9 1496.0,1069.1 1497.9,1069.2 1499.7,1070.1 1501.6,1070.7 1503.5,1072.0 1505.5,1072.1 1507.5,1072.2 1509.6,1073.2 1511.6,1074.4 1513.8,1074.9 1515.9,1075.8 1517.8,1076.1 1519.6,1076.3 1521.5,1075.5 1523.4,1076.0 1525.2,1077.6 1527.2,1076.9 1529.1,1078.6 1531.1,1079.2 1533.1,1079.4 1535.2,1079.4 1537.2,1080.3 1539.4,1079.7 1541.6,1080.0 1543.8,1080.1 1546.0,1080.6 1547.7,1081.6 1549.6,1081.6 1551.4,1082.3 1553.3,1082.0 1555.2,1081.8 1557.1,1082.3 1559.1,1082.6 1561.0,1083.5 1563.0,1083.9 1565.1,1083.2 1567.1,1084.2 1569.1,1084.2 1571.2,1084.8 1573.3,1083.9 1575.4,1084.4 1577.4,1085.7 1579.6,1084.4 1581.6,1085.3 1583.7,1085.9 1585.8,1086.1 1587.9,1085.6 1589.9,1085.9 1591.9,1087.2 1594.0,1085.8 1596.0,1087.5 1598.0,1087.5 1600.0,1086.7 1601.9,1087.4 1603.9,1088.2 1605.9,1086.8 1607.8,1087.6 1609.7,1088.0 1611.7,1087.2 1613.6,1088.8 1615.5,1088.9 1617.5,1088.1 1619.4,1089.1 1621.3,1088.6 1623.3,1089.5 1625.3,1089.7 1627.3,1089.1 1629.2,1089.7 1631.3,1088.8 1633.3,1089.5 1635.4,1089.6 1637.4,1090.7 1639.5,1089.1 1641.7,1089.7 1643.8,1090.9 1646.0,1090.2 1647.8,1090.8 1649.7,1091.0 1651.5,1091.5 1653.4,1091.6 1655.2,1092.0 1657.1,1091.5 1659.0,1090.7 1661.0,1091.1 1662.8,1092.4 1664.8,1091.2 1666.7,1092.4 1668.7,1093.0 1670.6,1092.7 1672.6,1093.0 1674.6,1093.1 1676.6,1093.2 1678.6,1092.8 1680.6,1092.8 1682.6,1093.1 1684.7,1094.0 1686.7,1093.9 1688.8,1093.5 1690.9,1093.6 1693.0,1093.7 1695.0,1093.9 1697.1,1094.6 1699.3,1094.6 1701.4,1093.7 1703.5,1094.7 1705.7,1094.0 1707.8,1095.7 1710.0,1094.8 1712.2,1095.4 1714.4,1094.9 1716.6,1095.6 1718.8,1096.3 1721.0,1095.8 1722.9,1095.4 1724.8,1096.4 1726.8,1097.2 1729.0,1096.3 1731.1,1096.7 1733.4,1096.2 1735.7,1096.8 1738.0,1097.2 1740.5,1096.6 1742.9,1096.7 1745.4,1097.6 1748.0,1097.7 1750.5,1098.5 1753.1,1098.3 1755.8,1098.1 1758.4,1098.8 1761.1,1099.6 1763.8,1098.9 1766.5,1098.8 1769.2,1099.8 1771.9,1099.8 1774.6,1099.6 1777.3,1100.3 1780.0,1100.3 1782.6,1099.5 1785.3,1100.5 1787.9,1099.9 1790.5,1100.4 1793.0,1100.7 1795.5,1100.8 1797.9,1102.1 1800.4,1101.2 1802.7,1101.3 1805.0,1102.6 1807.3,1101.7 1809.4,1102.0 1811.5,1102.7 1813.6,1102.3 1815.5,1103.0 1817.4,1103.2 1819.1,1102.4 1820.8,1102.2 1822.4,1103.7 1823.9,1103.5 1825.3,1103.1 1826.5,1103.1 1827.7,1103.1 1828.7,1102.8 1829.6,1103.3 1830.4,1104.1 1831.1,1103.2 1831.6,1104.0 1832.0,1102.9 1832.2,1104.4 1832.2,1103.8"/>
<path d="M301.5,963.1 302.3,961.5 304.4,960.3 305.5,959.8 306.9,960.2 308.3,961.8 310.2,962.2 311.7,964.8 313.9,965.0 315.7,967.1 317.5,969.1 319.5,969.9 321.4,970.9 322.8,973.1 324.6,973.9 326.3,975.3 328.1,976.5 330.0,977.0 331.6,978.7 333.5,979.4 335.3,980.1 336.9,981.6 338.4,983.1 339.9,984.4 341.8,985.7 343.8,985.9 345.6,986.9 347.3,988.3 349.0,989.3 350.6,991.2 352.5,991.6 354.6,992.6 356.7,992.7 358.7,994.5 360.8,995.5 363.0,995.6 365.0,997.3 366.9,998.7 369.0,998.8 370.9,999.9 372.9,1000.8 375.1,1001.2 377.5,1001.8 379.2,1002.8 381.2,1002.8 383.2,1002.9 385.1,1004.3 387.3,1004.8 389.5,1004.5 391.6,1005.4 393.8,1006.7 396.0,1007.3 398.2,1007.2 400.4,1007.9 402.5,1008.1 404.5,1008.4 406.5,1008.7 408.5,1008.1 410.5,1008.6 412.5,1008.5 414.4,1009.5 416.5,1008.3 418.5,1009.2 420.6,1009.5 422.8,1008.9 425.1,1009.8 427.5,1010.0 429.2,1009.9 430.9,1010.0 432.6,1009.7 434.4,1010.0 436.2,1010.7 438.1,1011.0 440.0,1010.3 441.9,1009.8 443.8,1009.8 445.8,1010.8 447.7,1011.8 449.8,1011.3 451.8,1011.5 453.9,1010.5 455.9,1012.2 458.0,1011.8 460.2,1011.7 462.3,1012.1 464.4,1012.2 466.6,1011.8 468.8,1011.7 470.9,1012.6 473.1,1013.0 475.3,1013.7 477.5,1012.3 479.4,1013.4 481.4,1012.8 483.4,1014.1 485.5,1014.1 487.8,1013.3 490.0,1014.3 492.4,1014.2 494.8,1013.5 497.2,1014.1 499.7,1013.7 502.2,1013.9 504.7,1014.2 507.3,1014.5 509.8,1015.1 512.3,1015.2 514.9,1015.2 517.4,1015.0 519.9,1015.4 522.3,1015.9 524.8,1015.2 527.1,1016.0 529.4,1016.3 531.7,1016.6 533.9,1016.2 536.0,1015.7 538.0,1017.5 540.0,1016.0 541.8,1016.6 543.5,1017.8 545.1,1016.9 546.6,1016.7 548.0,1017.2 549.2,1017.9 550.3,1017.0 551.1,1018.7 551.9,1018.2 552.5,1018.3 554.1,1018.2 554.4,1019.4 555.0,1019.3 555.7,1018.8 556.4,1018.9 557.2,1018.8 558.2,1019.0 559.2,1019.2 560.2,1020.1 561.4,1020.4 562.7,1019.8 564.0,1019.8 565.5,1019.3 566.9,1020.9 568.5,1020.8 570.2,1019.8 571.8,1020.3 573.6,1020.8 575.4,1021.7 577.3,1020.5 579.2,1021.4 581.2,1022.2 583.3,1021.5 585.3,1022.0 587.5,1022.3 589.7,1021.4 591.9,1022.1 594.1,1022.4 596.4,1023.2 598.8,1023.2 601.1,1023.0 603.5,1023.4 606.0,1023.1 608.4,1023.0 610.9,1022.7 613.4,1022.9 615.9,1023.9 618.4,1023.8 620.9,1025.0 623.4,1025.3 626.0,1024.4 628.6,1024.7 631.1,1025.2 633.7,1024.6 636.2,1024.6 638.8,1025.3 641.3,1026.0 643.8,1026.2 646.4,1025.3 648.9,1025.7 651.4,1026.0 653.8,1027.0 656.3,1026.0 658.7,1027.1 661.1,1026.0 663.5,1026.3 665.8,1026.9 668.1,1027.6 670.4,1027.1 672.6,1028.0 674.8,1027.9 676.9,1027.4 679.0,1029.0 681.0,1028.5 683.0,1028.7 685.0,1028.6 687.1,1028.3 689.2,1029.7 691.3,1028.2 693.5,1028.5 695.7,1029.4 697.9,1028.8 700.1,1029.1 702.3,1030.3 704.6,1029.4 706.9,1030.3 709.2,1030.0 711.4,1031.3 713.8,1030.2 716.1,1030.1 718.5,1030.2 720.8,1030.8 723.2,1030.9 725.5,1031.2 727.9,1032.0 730.3,1032.1 732.7,1031.1 735.0,1032.6 737.4,1031.7 739.7,1033.2 742.1,1032.6 744.5,1033.2 746.8,1032.4 749.2,1032.6 751.5,1033.8 753.8,1033.8 756.1,1034.5 758.4,1034.5 760.7,1033.8 763.0,1034.1 765.2,1033.7 767.5,1033.5 769.7,1034.6 771.9,1033.8 774.0,1035.6 776.1,1035.7 778.2,1035.5 780.3,1034.7 782.3,1036.1 784.4,1034.7 786.4,1035.1 788.3,1035.6 790.2,1036.2 792.1,1035.4 793.9,1036.3 795.7,1035.7 797.5,1035.6 799.2,1035.8 800.9,1035.9 802.5,1037.0 804.0,1037.0 805.6,1036.7 807.1,1036.6 808.5,1036.5 809.8,1038.0 811.2,1036.6 812.4,1037.3 813.7,1036.7 814.8,1036.7 815.9,1037.8 816.9,1037.8 817.9,1037.2 821.1,1036.9 824.0,1038.0 826.6,1037.8 828.7,1038.6 830.0,1037.9 830.5,1037.8 831.4,1047.1 832.7,975.0 832.7,976.4 833.1,979.3 833.7,982.5 834.1,984.3 834.0,986.5 834.3,988.6 834.9,990.6 835.4,992.7 835.5,995.0 835.7,997.1 836.2,999.2 836.4,1001.4 836.3,1003.8 836.6,1006.0 837.3,1007.9 837.3,1010.0 837.9,1012.0 838.1,1014.2 838.5,1016.2 839.1,1018.0 839.1,1020.1 839.9,1022.7 840.6,1025.4 841.6,1027.7 843.0,1029.4 843.9,1032.4 845.5,1033.7 847.8,1035.2 850.5,1036.5 852.3,1038.4 854.5,1037.8 856.8,1038.6 859.2,1039.1 861.8,1039.4 863.6,1041.0 865.6,1041.1 867.6,1040.6 869.7,1041.5 871.9,1041.5 874.1,1041.9 876.2,1041.8 878.4,1043.0 880.5,1042.3 882.6,1042.3 884.6,1043.7 886.7,1043.8 888.8,1043.4 890.9,1043.7 893.0,1044.4 895.1,1043.5 897.2,1043.7 899.2,1044.9 901.3,1044.0 903.4,1045.2 905.4,1044.5 907.4,1044.7 909.5,1045.4 911.5,1045.0 913.7,1045.0 915.8,1044.6 918.0,1044.7 920.0,1044.7 922.0,1044.9 924.1,1044.5 926.2,1044.9 928.3,1045.9 930.5,1045.9 932.7,1045.9 934.8,1044.9 936.9,1044.8 939.0,1045.2 941.0,1045.4 943.0,1045.4 945.2,1045.6 947.4,1044.2 949.6,1044.0 951.7,1044.3 953.8,1043.5 955.9,1043.6 957.9,1044.6 959.8,1043.9 961.8,1044.2 964.0,1042.8 966.1,1043.2 968.2,1043.6 970.2,1043.9 972.2,1043.3 974.2,1042.5 976.3,1043.0 978.4,1043.1 980.3,1041.9 982.4,1042.7 984.5,1042.3 986.7,1041.2 988.6,1040.5 990.6,1041.5 992.6,1040.6 994.7,1041.0 996.8,1041.8 998.9,1041.3 1001.1,1041.7 1003.3,1041.9 1005.5,1041.6 1007.4,1041.4 1009.4,1040.9 1011.4,1040.8 1013.4,1041.7 1015.4,1042.1 1017.5,1040.3 1019.5,1041.0 1021.7,1041.0 1023.8,1041.8 1026.0,1041.8 1028.2,1040.5 1030.5,1041.2 1032.4,1042.0 1034.4,1041.1 1036.5,1041.5 1038.7,1041.0 1040.9,1042.4 1043.1,1041.2 1045.4,1042.0 1047.6,1042.5 1049.9,1041.7 1052.2,1041.9 1054.4,1042.4 1056.6,1041.3 1058.7,1041.8 1060.8,1041.7 1062.7,1043.2 1064.6,1042.4 1066.4,1042.5 1068.0,1041.8 1070.6,1041.8 1072.9,1043.1 1074.9,1042.9 1077.0,1042.7 1079.2,1043.5 1081.9,1042.4 1083.5,1042.0 1085.3,1043.5 1087.1,1041.8 1089.1,1043.4 1091.1,1043.0 1093.2,1042.6 1095.3,1042.7 1097.5,1042.5 1099.8,1042.0 1102.0,1042.5 1104.3,1042.9 1106.5,1043.0 1108.8,1043.3 1111.0,1041.5 1113.2,1043.1 1115.4,1042.3 1117.5,1042.8 1119.5,1041.5 1121.7,1042.7 1123.9,1042.2 1126.1,1041.8 1128.3,1043.0 1130.4,1042.8 1132.6,1041.9 1134.7,1041.6 1136.9,1041.8 1139.0,1041.4 1141.0,1041.6 1143.1,1042.9 1145.1,1041.4 1147.0,1042.7 1148.9,1041.5 1150.7,1041.8 1153.1,1042.7 1155.2,1041.2 1157.3,1041.2 1159.4,1041.1 1161.4,1040.4 1163.4,1042.0 1165.4,1041.7 1167.4,1040.9 1169.5,1041.1 1171.6,1040.1 1173.7,1040.3 1175.9,1039.9 1178.0,1039.3 1180.2,1040.1 1182.3,1039.9 1184.3,1038.5 1186.4,1039.6 1188.2,1038.4 1190.4,1037.6 1192.6,1038.6 1194.7,1038.0 1196.7,1037.2 1198.7,1036.1 1200.8,1037.0 1202.8,1035.9 1204.9,1035.3 1207.0,1034.8 1209.1,1035.2 1211.2,1034.7 1213.2,1033.6 1215.3,1032.4 1217.5,1032.9 1219.5,1031.8 1221.6,1030.9 1223.7,1031.1 1225.7,1029.5 1227.9,1029.0 1230.1,1028.0 1232.4,1028.2 1234.4,1026.8 1236.4,1025.6 1238.3,1025.5 1240.5,1024.2 1242.3,1022.5 1244.5,1021.2 1246.4,1021.0 1248.3,1019.5 1250.4,1018.3 1252.6,1017.4 1254.8,1016.2 1257.0,1016.1 1259.1,1016.0 1261.2,1016.3 1263.3,1015.9 1265.4,1016.4 1267.5,1016.4 1269.5,1016.2 1271.6,1015.8 1273.7,1015.9 1275.6,1014.1 1277.6,1013.9 1279.4,1013.3 1281.4,1013.1 1283.2,1012.1 1284.8,1010.0 1286.4,1008.5 1288.3,1007.6 1290.0,1005.9 1291.7,1004.3 1293.3,1002.3 1295.2,1001.6 1296.9,999.6 1298.9,998.3 1300.8,997.0 1302.8,995.5 1304.9,994.7 1306.9,993.1 1308.8,993.0 1310.4,991.5 1312.2,990.6 1313.6,988.2 1315.3,987.0 1316.9,985.7 1318.7,984.6 1320.7,984.3 1322.4,982.9 1324.1,981.7 1325.7,979.7 1327.3,978.4 1329.2,978.3 1330.9,977.3 1332.6,976.1 1334.6,975.5 1336.0,973.8 1337.7,972.9 1339.3,971.1 1341.2,969.8 1342.8,967.6 1344.6,966.0 1346.4,964.6 1347.9,962.9 1349.7,962.6 1350.8,960.6 1352.4,958.4 1354.0,957.5 1355.3,955.8 1356.5,953.8 1359.0,952.8 1361.1,950.8 1362.7,949.6 1363.4,947.0 1364.0,944.5 1364.3,942.1 1364.6,939.7 1364.5,937.1 1365.2,935.1 1365.9,932.6 1367.0,930.3 1368.7,929.0 1370.9,928.2 1372.7,926.9 1374.6,925.5 1376.0,923.7 1376.3,921.3 1376.8,918.8 1376.9,916.0 1377.1,913.7 1377.4,911.3 1377.8,908.9 1377.8,906.5 1377.9,904.1 1378.0,901.7 1378.1,899.4 1378.5,897.1 1378.4,894.5 1379.1,892.2 1379.6,889.8 1380.2,887.4 1381.1,885.7 1381.5,883.6 1382.3,881.8 1383.0,879.7 1384.1,877.3 1385.4,875.1 1387.1,873.6 1388.1,871.4 1389.5,869.4 1391.3,868.6 1392.6,866.4 1394.2,865.6 1395.5,863.7 1397.0,862.5 1398.2,860.6 1400.3,860.2 1402.2,859.1 1404.9,858.9 1407.8,859.0 1409.8,859.5 1411.6,861.1 1413.6,862.2 1415.3,864.6 1417.4,865.6 1419.5,866.4 1421.2,868.3 1422.5,869.9 1423.8,871.5 1424.9,873.2 1425.7,875.5 1426.7,877.3 1427.6,879.2 1428.9,880.6 1429.6,882.8 1430.4,885.2 1431.6,886.9 1432.4,889.3 1433.3,891.6 1434.3,893.0 1434.9,895.2 1436.0,896.7 1436.9,898.6 1437.3,901.0 1438.4,902.5 1439.1,904.4 1439.7,906.3 1440.4,908.1 1440.9,910.1 1441.5,912.0 1442.2,913.9 1442.9,916.1 1443.3,918.4 1444.0,920.6 1444.7,922.7 1445.4,925.0 1446.0,927.3 1446.4,929.3 1446.5,931.6 1446.9,933.7 1447.3,935.8 1447.8,937.9 1448.0,940.1 1448.1,942.4 1448.7,944.5 1448.9,946.6 1449.1,948.7 1449.7,950.7 1450.0,952.8 1450.1,955.0 1450.9,956.9 1450.7,959.3 1451.4,961.3 1451.5,963.5 1452.0,965.5 1452.1,967.7 1452.0,970.0 1452.5,972.2 1452.4,974.5 1452.8,976.6 1453.2,978.8 1453.4,980.9 1453.4,983.1 1454.1,984.9 1454.5,987.2 1454.6,989.5 1455.0,991.7 1455.6,993.6 1456.3,995.6 1456.8,997.7 1457.2,1000.0 1457.6,1001.9 1458.1,1003.8 1458.3,1005.9 1458.9,1007.8 1458.8,1010.0 1459.1,1012.1 1459.7,1014.1 1460.0,1016.1 1460.7,1018.0 1460.9,1020.1 1461.5,1022.0 1461.7,1024.2 1462.5,1025.9 1463.1,1027.8 1463.6,1029.9 1464.2,1031.8 1464.5,1034.0 1465.3,1035.7 1465.8,1037.7 1466.7,1039.6 1467.8,1041.2 1468.6,1043.2 1469.2,1045.7 1470.4,1047.2 1471.5,1048.6 1472.2,1051.2 1473.7,1052.1 1474.8,1054.2 1476.1,1055.9 1477.5,1057.6 1478.8,1059.4 1480.4,1060.7 1481.9,1062.4 1483.4,1064.2 1485.1,1065.1 1486.9,1065.8 1488.5,1067.8 1490.2,1069.0 1492.2,1069.6 1494.0,1071.3 1495.9,1072.9 1497.7,1074.0 1499.6,1073.7 1501.4,1075.5 1503.4,1075.5 1505.3,1077.3 1507.4,1077.6 1509.5,1077.8 1511.7,1078.1 1513.9,1078.7 1516.0,1079.7 1517.8,1080.2 1519.7,1080.4 1521.4,1082.1 1523.3,1082.5 1525.2,1083.0 1527.2,1082.6 1529.1,1083.1 1531.1,1084.4 1533.2,1083.8 1535.2,1085.0 1537.2,1085.9 1539.4,1085.0 1541.5,1086.6 1543.7,1087.1 1546.0,1087.3 1547.7,1087.8 1549.6,1087.8 1551.4,1087.5 1553.2,1088.6 1555.2,1087.9 1557.1,1089.7 1559.0,1089.4 1561.0,1090.1 1563.0,1089.8 1565.1,1089.5 1567.1,1090.7 1569.2,1090.2 1571.2,1090.9 1573.3,1090.7 1575.3,1092.2 1577.4,1092.4 1579.5,1092.4 1581.6,1092.2 1583.7,1091.8 1585.8,1092.3 1587.9,1092.9 1589.9,1093.5 1592.0,1092.8 1594.0,1093.1 1596.0,1093.6 1598.0,1093.2 1600.0,1094.3 1602.0,1093.5 1603.9,1094.9 1605.8,1095.2 1607.8,1095.0 1609.7,1094.5 1611.6,1096.1 1613.6,1095.8 1615.5,1095.1 1617.5,1095.1 1619.4,1096.6 1621.3,1096.0 1623.3,1095.5 1625.3,1096.7 1627.2,1097.3 1629.3,1096.5 1631.3,1096.7 1633.3,1097.9 1635.4,1096.7 1637.4,1097.1 1639.5,1097.5 1641.7,1098.1 1643.8,1098.2 1646.0,1097.7 1647.8,1098.8 1649.7,1098.4 1651.5,1098.4 1653.4,1099.1 1655.2,1099.7 1657.1,1099.6 1659.0,1099.7 1660.9,1099.1 1662.8,1100.4 1664.8,1099.5 1666.7,1099.7 1668.7,1099.4 1670.6,1100.4 1672.6,1101.2 1674.6,1101.4 1676.6,1100.1 1678.6,1100.9 1680.6,1101.3 1682.6,1101.9 1684.7,1102.1 1686.7,1101.6 1688.8,1101.3 1690.8,1102.7 1692.9,1102.7 1695.0,1103.0 1697.1,1102.9 1699.3,1101.9 1701.4,1103.0 1703.5,1102.6 1705.7,1102.9 1707.8,1102.5 1710.0,1104.2 1712.2,1103.4 1714.4,1103.4 1716.6,1104.1 1718.8,1104.9 1721.0,1103.7 1722.9,1104.3 1724.8,1104.8 1726.8,1105.1 1728.9,1105.2 1731.1,1104.9 1733.4,1105.0 1735.7,1104.8 1738.0,1106.3 1740.4,1106.5 1742.9,1105.7 1745.4,1106.1 1748.0,1106.2 1750.5,1107.3 1753.1,1107.0 1755.8,1106.9 1758.4,1106.8 1761.1,1107.9 1763.8,1107.9 1766.5,1108.1 1769.2,1107.3 1771.9,1108.6 1774.6,1107.9 1777.3,1108.9 1780.0,1109.0 1782.6,1109.1 1785.3,1108.2 1787.9,1109.4 1790.4,1109.9 1793.0,1108.6 1795.5,1108.9 1797.9,1110.4 1800.4,1109.1 1802.7,1110.0 1805.0,1110.7 1807.3,1109.5 1809.4,1111.1 1811.5,1110.0 1813.6,1110.2 1815.5,1111.6 1817.4,1110.1 1819.1,1111.9 1820.8,1111.1 1822.4,1111.8 1823.9,1111.2 1825.3,1111.1 1826.5,1111.5 1827.7,1112.3 1828.7,1111.1 1829.6,1111.3 1830.4,1112.6 1831.0,1112.6 1831.6,1111.8 1831.9,1112.2 1832.2,1112.1 1832.2,1112.0"/>
<path d="M301.5,963.8 302.3,961.7 304.3,959.5 305.4,960.0 306.7,961.0 308.4,960.6 310.1,962.0 311.9,963.5 313.7,965.5 315.6,967.2 317.7,968.2 319.6,969.5 321.3,970.8 323.0,972.0 324.5,974.1 326.4,974.4 328.1,976.0 329.9,977.0 331.8,977.7 333.4,979.3 335.1,980.5 336.8,981.9 338.3,983.3 339.9,984.3 341.8,985.4 343.7,986.1 345.5,987.1 347.2,988.3 348.8,990.0 350.8,990.0 352.5,991.5 354.6,991.7 356.6,993.4 358.7,994.0 360.8,995.2 362.9,995.7 365.0,996.8 366.9,998.4 369.1,997.8 371.0,998.9 373.0,1000.3 375.2,1001.0 377.5,1002.3 379.3,1002.1 381.1,1003.6 383.1,1003.6 385.1,1004.7 387.3,1005.0 389.4,1005.7 391.6,1005.8 393.8,1006.4 396.0,1007.1 398.3,1007.2 400.4,1008.6 402.5,1009.2 404.6,1008.6 406.5,1010.1 408.5,1010.2 410.5,1009.5 412.5,1009.7 414.4,1010.3 416.5,1010.4 418.5,1009.6 420.7,1009.3 422.8,1010.8 425.1,1010.0 427.5,1011.5 429.2,1010.8 430.9,1011.3 432.6,1011.6 434.4,1012.1 436.2,1011.3 438.1,1010.7 440.0,1011.2 441.9,1011.9 443.8,1011.5 445.8,1011.9 447.8,1012.6 449.8,1012.3 451.8,1013.6 453.9,1013.1 455.9,1013.7 458.1,1013.1 460.1,1014.4 462.3,1013.6 464.4,1013.8 466.6,1014.9 468.8,1014.4 470.9,1014.9 473.1,1014.4 475.3,1014.5 477.5,1016.1 479.4,1016.5 481.4,1015.5 483.4,1016.8 485.5,1017.3 487.8,1016.1 490.0,1017.5 492.4,1017.9 494.8,1018.3 497.2,1018.9 499.7,1018.2 502.2,1018.3 504.7,1018.7 507.3,1018.8 509.8,1020.6 512.4,1019.6 514.9,1020.6 517.4,1021.9 519.9,1021.6 522.4,1021.1 524.8,1021.9 527.1,1022.4 529.4,1023.4 531.7,1022.9 533.9,1022.9 536.0,1024.3 538.1,1023.2 540.0,1023.4 541.8,1023.8 543.5,1024.1 545.1,1025.3 546.6,1024.8 548.0,1024.6 549.2,1025.4 550.2,1024.2 551.2,1024.6 551.9,1024.2 552.5,1025.2 554.0,1024.7 554.4,1023.9 555.0,1024.1 555.6,1024.9 556.4,1024.8 557.2,1025.1 558.2,1023.4 559.2,1024.0 560.3,1023.8 561.4,1023.8 562.7,1025.1 564.0,1024.3 565.4,1025.5 567.0,1024.0 568.5,1025.5 570.1,1024.8 571.8,1025.2 573.6,1026.1 575.4,1024.7 577.3,1025.1 579.2,1026.3 581.2,1025.5 583.2,1026.9 585.3,1027.0 587.5,1026.7 589.6,1027.3 591.9,1026.8 594.2,1026.6 596.4,1027.9 598.8,1028.2 601.1,1028.8 603.5,1028.9 606.0,1027.7 608.4,1029.2 610.9,1029.5 613.3,1029.4 615.9,1029.0 618.4,1029.5 620.9,1030.8 623.4,1030.7 626.0,1031.4 628.6,1030.8 631.1,1031.4 633.7,1030.5 636.2,1030.7 638.8,1032.2 641.3,1032.8 643.8,1033.2 646.3,1033.4 648.9,1032.4 651.4,1033.0 653.8,1033.6 656.3,1033.0 658.7,1034.6 661.1,1034.1 663.5,1034.0 665.8,1035.0 668.1,1034.0 670.4,1034.4 672.6,1035.4 674.8,1035.1 676.9,1035.4 679.0,1035.3 681.0,1036.4 683.0,1035.4 685.0,1036.3 687.0,1035.7 689.1,1036.7 691.2,1035.7 693.3,1035.9 695.4,1036.8 697.5,1036.6 699.6,1037.4 701.8,1037.0 703.9,1037.8 706.1,1038.2 708.3,1038.5 710.5,1037.8 712.8,1037.5 714.9,1039.1 717.2,1037.9 719.4,1038.0 721.7,1038.3 723.9,1038.9 726.2,1039.2 728.4,1040.2 730.7,1039.2 732.9,1040.4 735.2,1040.0 737.4,1041.1 739.7,1040.3 741.9,1039.9 744.1,1041.0 746.4,1040.4 748.6,1041.2 750.8,1041.6 753.0,1041.4 755.2,1041.9 757.5,1041.5 759.6,1042.0 761.8,1042.5 764.0,1041.6 766.1,1041.9 768.2,1043.0 770.4,1042.0 772.4,1043.1 774.5,1043.7 776.6,1042.8 778.6,1043.4 780.6,1044.3 782.6,1043.7 784.6,1044.5 786.6,1043.7 788.5,1043.5 790.4,1043.4 792.3,1044.5 794.1,1044.3 795.9,1045.4 797.7,1044.3 799.5,1044.0 801.2,1045.1 802.9,1044.5 804.6,1046.0 806.2,1045.3 807.8,1045.6 809.3,1046.2 810.9,1046.2 812.4,1045.6 813.8,1046.7 815.2,1045.4 816.5,1047.0 817.9,1045.9 820.6,1046.5 823.2,1046.9 825.6,1047.2 828.0,1046.4 830.1,1046.5 832.2,1047.9 834.2,1047.3 836.1,1047.7 838.0,1048.0 839.9,1047.3 841.7,1048.0 843.5,1048.9 845.4,1048.8 847.3,1048.6 849.3,1048.3 851.5,1048.3 853.6,1048.7 855.8,1049.2 857.9,1050.0 860.0,1050.0 862.2,1049.7 864.2,1050.0 866.3,1049.5 868.3,1049.7 870.3,1049.6 872.3,1050.1 874.3,1050.0 876.4,1051.6 878.6,1051.2 880.7,1051.8 882.8,1051.0 884.8,1050.8 886.9,1051.3 888.9,1051.1 890.9,1052.1 893.0,1051.1 895.1,1051.4 897.2,1051.6 899.2,1052.7 901.3,1051.8 903.4,1052.2 905.5,1052.6 907.6,1052.9 909.7,1052.9 911.8,1053.6 913.8,1051.8 915.8,1051.7 917.9,1051.8 919.9,1052.4 922.0,1052.5 924.1,1052.6 926.2,1051.6 928.3,1051.1 930.5,1050.8 932.5,1050.6 934.7,1052.1 936.9,1051.2 939.2,1051.0 941.5,1050.9 943.8,1050.6 946.1,1051.8 948.3,1051.1 950.4,1051.8 952.3,1052.3 954.0,1052.1 955.5,1051.9 957.8,1050.4 959.6,1050.6 961.7,1049.0 963.4,1048.8 965.2,1048.8 967.1,1048.6 969.2,1049.5 971.4,1048.5 973.7,1049.1 976.0,1048.6 978.2,1048.6 980.5,1049.3 982.5,1049.6 984.4,1049.9 986.5,1048.9 988.6,1049.7 990.7,1049.4 992.8,1049.8 994.9,1049.3 997.0,1050.7 999.2,1049.4 1001.3,1050.3 1003.4,1051.3 1005.5,1051.2 1007.6,1051.5 1009.7,1050.8 1011.8,1051.4 1013.8,1050.2 1015.9,1049.7 1018.0,1049.7 1020.1,1050.8 1022.2,1050.3 1024.3,1051.1 1026.3,1050.6 1028.4,1050.2 1030.5,1050.4 1032.6,1050.4 1034.7,1049.9 1036.7,1050.7 1038.8,1049.0 1040.9,1049.3 1043.0,1050.0 1045.0,1050.0 1047.1,1049.2 1049.2,1050.1 1051.3,1049.1 1053.4,1050.5 1055.5,1049.0 1057.5,1049.8 1059.5,1048.9 1061.4,1048.8 1063.4,1050.1 1065.4,1049.1 1067.4,1049.5 1069.3,1048.9 1071.4,1049.8 1073.4,1049.9 1075.5,1049.0 1077.6,1049.3 1079.7,1048.8 1081.9,1049.6 1083.8,1050.0 1085.8,1050.3 1087.8,1048.7 1089.9,1049.5 1091.9,1050.0 1094.1,1049.9 1096.2,1050.1 1098.3,1049.9 1100.5,1049.5 1102.7,1048.7 1104.8,1049.6 1107.0,1048.6 1109.1,1049.9 1111.2,1050.1 1113.4,1049.4 1115.4,1048.9 1117.5,1048.8 1119.5,1048.9 1121.7,1049.9 1123.9,1048.6 1126.2,1049.3 1128.4,1050.1 1130.7,1049.6 1132.9,1050.0 1135.1,1050.0 1137.3,1048.6 1139.4,1049.3 1141.5,1049.3 1143.5,1048.7 1145.4,1048.5 1147.3,1049.8 1149.1,1049.5 1150.8,1049.4 1153.1,1048.7 1155.3,1049.2 1157.3,1048.9 1159.1,1046.8 1161.1,1046.7 1163.2,1046.3 1165.2,1046.3 1167.2,1046.4 1169.4,1046.4 1171.5,1045.5 1173.7,1044.6 1175.9,1044.2 1178.0,1044.9 1180.0,1043.4 1182.0,1044.4 1184.3,1043.7 1186.3,1042.4 1188.4,1042.5 1190.4,1041.4 1192.5,1042.5 1194.6,1042.0 1196.6,1041.1 1198.7,1041.0 1200.8,1039.9 1202.8,1038.9 1204.9,1038.6 1207.0,1038.5 1209.1,1037.3 1211.2,1037.6 1213.2,1036.1 1215.4,1036.4 1217.4,1035.4 1219.6,1035.7 1221.6,1033.6 1223.7,1033.2 1226.0,1033.0 1227.9,1031.0 1230.0,1030.1 1232.0,1029.8 1234.1,1028.3 1236.3,1028.0 1238.5,1027.8 1240.7,1025.5 1242.6,1026.2 1244.6,1025.2 1246.6,1024.3 1248.7,1022.9 1250.8,1022.3 1253.0,1021.4 1255.0,1020.0 1257.0,1020.3 1259.2,1019.0 1261.4,1019.6 1263.6,1020.0 1265.7,1019.0 1267.7,1018.9 1269.5,1019.4 1271.8,1019.0 1273.7,1017.2 1275.9,1017.6 1277.7,1015.4 1279.7,1013.7 1281.9,1012.1 1283.9,1011.9 1285.9,1010.1 1288.0,1008.5 1290.3,1007.8 1292.6,1007.6 1294.5,1006.5 1296.6,1005.5 1298.6,1005.0 1300.3,1003.2 1302.1,1003.0 1303.1,1000.4 1304.2,998.7 1305.2,996.6 1306.1,994.5 1307.2,992.9 1307.9,990.4 1308.9,988.6 1309.7,986.6 1310.9,985.2 1311.3,983.1 1312.0,981.2 1312.5,979.2 1313.0,977.2 1313.2,974.9 1313.9,972.8 1314.3,970.4 1315.1,968.3 1315.6,966.1 1316.5,963.9 1317.6,962.1 1318.7,959.9 1319.1,957.7 1319.9,955.8 1320.7,953.7 1321.7,951.7 1322.2,949.1 1323.3,947.4 1323.9,944.9 1324.9,942.8 1325.8,940.5 1326.8,938.5 1327.8,936.5 1329.1,934.9 1330.0,932.5 1331.2,930.8 1332.3,928.7 1333.5,927.0 1335.1,925.3 1336.7,923.6 1338.2,922.0 1339.6,920.3 1341.4,918.1 1343.0,915.4 1345.1,914.8 1347.0,912.9 1349.0,911.4 1351.3,910.4 1353.9,910.0 1356.5,909.2 1358.7,908.9 1361.0,908.0 1363.2,908.9 1365.0,908.3 1367.0,907.4 1368.9,906.6 1370.9,905.6 1373.1,904.3 1375.5,905.1 1377.8,903.9 1380.1,905.2 1382.6,904.9 1385.0,903.9 1387.4,904.0 1389.9,903.6 1392.3,904.0 1394.5,903.0 1396.8,902.8 1399.0,903.0 1401.2,902.5 1403.7,901.7 1406.3,902.0 1408.8,902.0 1410.8,901.8 1412.6,899.6 1414.4,900.7 1416.1,900.5 1417.8,901.9 1419.4,903.4 1421.2,904.3 1423.0,905.3 1424.5,907.3 1426.0,909.2 1427.8,910.2 1429.4,912.3 1431.3,913.1 1432.7,915.7 1434.6,916.4 1435.6,918.9 1436.8,920.7 1438.1,921.9 1439.2,923.5 1439.8,925.7 1440.8,927.2 1441.2,929.4 1442.2,931.0 1442.6,933.3 1442.8,935.6 1443.5,937.8 1443.8,940.2 1443.8,942.7 1444.3,944.9 1444.8,947.1 1445.3,949.3 1445.7,951.5 1445.7,954.1 1446.1,955.9 1446.4,957.9 1446.2,960.0 1446.6,962.0 1446.8,964.1 1447.2,966.1 1447.1,968.3 1447.7,970.2 1447.5,972.3 1447.8,974.3 1447.7,976.3 1448.3,978.3 1448.1,980.5 1448.6,982.6 1448.8,984.9 1449.1,986.8 1449.4,988.8 1449.2,991.1 1449.4,993.2 1449.9,995.3 1450.0,997.6 1450.3,999.9 1450.8,1002.0 1451.2,1004.2 1451.5,1006.4 1451.5,1008.6 1452.0,1010.5 1452.5,1012.4 1452.4,1015.1 1452.9,1017.3 1453.6,1019.4 1454.0,1021.6 1454.6,1023.6 1455.0,1025.8 1455.2,1028.1 1455.9,1030.1 1456.4,1032.4 1457.0,1034.7 1458.0,1036.4 1458.8,1038.5 1459.1,1041.0 1460.0,1043.1 1461.1,1044.8 1462.0,1046.6 1462.7,1048.8 1463.5,1050.7 1464.4,1052.7 1465.2,1054.9 1466.5,1056.2 1467.5,1058.2 1468.3,1060.4 1469.6,1061.7 1470.8,1063.3 1472.1,1064.6 1473.0,1067.1 1474.5,1068.1 1475.6,1070.2 1477.2,1070.9 1478.5,1072.5 1479.8,1074.4 1481.3,1075.4 1482.8,1076.7 1484.4,1077.7 1486.0,1078.7 1487.6,1080.3 1489.4,1080.8 1491.0,1082.6 1492.7,1083.7 1494.6,1084.3 1496.5,1085.3 1498.3,1086.8 1500.2,1087.9 1502.3,1088.2 1504.3,1089.0 1506.4,1090.4 1508.5,1091.4 1510.2,1092.3 1512.1,1092.1 1513.9,1093.6 1515.8,1094.1 1517.7,1095.1 1519.7,1095.0 1521.6,1096.2 1523.7,1095.7 1525.6,1096.8 1527.5,1098.0 1529.6,1097.1 1531.5,1098.4 1533.5,1098.9 1535.6,1099.1 1537.6,1100.1 1539.7,1099.3 1541.6,1100.4 1543.6,1101.8 1545.6,1102.0 1547.7,1102.2 1549.8,1101.9 1551.9,1102.7 1554.1,1102.2 1556.2,1103.3 1558.5,1103.6 1560.3,1104.8 1562.3,1105.2 1564.2,1105.3 1566.2,1104.8 1568.2,1105.0 1570.2,1105.3 1572.2,1106.8 1574.4,1105.6 1576.4,1107.6 1578.5,1107.5 1580.7,1107.5 1582.8,1107.0 1585.0,1108.3 1587.2,1108.0 1589.3,1109.2 1591.5,1109.6 1593.8,1108.9 1596.0,1110.3 1597.8,1110.4 1599.7,1110.4 1601.6,1109.9 1603.5,1109.5 1605.4,1111.1 1607.3,1110.0 1609.2,1111.3 1611.1,1111.6 1613.0,1111.8 1615.0,1111.2 1616.9,1112.0 1618.9,1112.0 1620.9,1112.4 1622.9,1111.6 1624.9,1113.3 1626.9,1113.1 1629.0,1113.3 1631.0,1114.0 1633.1,1113.1 1635.2,1114.0 1637.3,1114.1 1639.5,1113.8 1641.6,1115.0 1643.8,1114.7 1646.0,1114.4 1647.8,1114.8 1649.7,1115.3 1651.5,1115.0 1653.4,1114.3 1655.2,1115.4 1657.1,1115.8 1659.0,1115.8 1660.9,1115.5 1662.9,1115.9 1664.8,1116.1 1666.7,1116.8 1668.7,1116.3 1670.6,1117.0 1672.6,1115.7 1674.6,1116.0 1676.6,1117.5 1678.6,1117.1 1680.6,1117.1 1682.6,1117.0 1684.7,1118.0 1686.7,1118.0 1688.8,1118.2 1690.9,1116.9 1692.9,1118.4 1695.0,1118.5 1697.2,1117.7 1699.3,1118.4 1701.4,1118.1 1703.5,1117.6 1705.7,1117.7 1707.8,1118.7 1710.0,1118.7 1712.2,1119.4 1714.4,1119.8 1716.6,1119.2 1718.8,1119.6 1721.0,1119.1 1722.9,1118.9 1724.8,1119.1 1726.8,1120.5 1729.0,1119.9 1731.1,1119.5 1733.4,1120.7 1735.7,1119.8 1738.0,1120.3 1740.5,1120.2 1742.9,1120.5 1745.4,1120.1 1748.0,1120.6 1750.5,1122.0 1753.2,1120.5 1755.8,1121.9 1758.4,1121.8 1761.1,1121.7 1763.8,1122.3 1766.5,1122.3 1769.2,1123.1 1771.9,1122.2 1774.6,1122.0 1777.3,1123.0 1780.0,1122.8 1782.6,1123.2 1785.3,1122.3 1787.9,1123.9 1790.4,1123.7 1793.0,1123.1 1795.5,1124.6 1798.0,1123.6 1800.4,1123.9 1802.7,1123.9 1805.0,1124.4 1807.3,1124.3 1809.4,1124.8 1811.5,1124.4 1813.5,1125.1 1815.5,1125.0 1817.4,1125.7 1819.1,1125.5 1820.8,1125.0 1822.4,1124.4 1823.9,1126.2 1825.3,1125.9 1826.5,1124.6 1827.7,1126.3 1828.7,1126.2 1829.6,1125.9 1830.4,1126.1 1831.1,1125.4 1831.6,1126.2 1831.9,1126.2 1832.2,1126.6 1832.2,1125.8"/>
<path d="M293.5,1214.4 294.2,1213.4 294.7,1209.9 296.0,1206.9 296.3,1205.0 297.3,1203.6 298.0,1201.7 298.2,1199.2 298.8,1196.9 299.5,1194.7 300.5,1192.7 301.0,1190.4 301.9,1188.4 302.7,1186.5 303.3,1184.4 303.6,1182.1 304.6,1180.5 304.8,1178.1 305.9,1176.6 306.3,1174.4 306.8,1172.3 307.5,1170.4 307.9,1168.1 308.7,1166.2 309.3,1164.2 309.6,1162.0 310.5,1160.3 311.1,1158.2 311.3,1155.8 311.9,1153.8 312.4,1151.6 312.8,1149.4 313.2,1147.2 313.9,1145.3 314.4,1143.2 315.1,1141.4 315.6,1139.1 316.1,1137.0 317.0,1135.4 317.5,1133.2 318.2,1131.4 318.9,1129.5 319.3,1127.2 320.0,1125.3 320.5,1123.2 321.2,1121.2 321.6,1119.2 322.0,1117.2 322.5,1115.2 323.1,1113.2 323.6,1111.2 324.0,1109.1 324.7,1107.1 325.0,1105.0 325.4,1102.8 325.8,1100.7 326.7,1099.0 327.1,1097.0 327.7,1095.2 328.0,1092.8 328.7,1090.9 329.3,1088.7 329.8,1086.6 330.5,1084.8 331.2,1082.9 332.0,1081.1 332.4,1078.9 333.4,1077.3 334.0,1075.3 334.5,1073.2 335.1,1071.3 335.6,1069.3 335.9,1067.0 336.7,1065.2 337.0,1063.0 337.6,1061.0 338.4,1059.3 338.9,1057.3 339.3,1055.3 340.1,1053.9 340.9,1051.8 341.3,1049.4 342.2,1047.6 342.6,1045.3 343.7,1043.8 344.5,1042.1 344.9,1039.9 345.9,1038.0 346.9,1036.4 347.8,1034.6 349.0,1033.2 350.1,1031.6 351.4,1029.8 352.9,1028.2 354.2,1026.2 355.8,1024.6 357.5,1023.2 359.3,1021.4 361.4,1020.9 363.4,1019.5 365.4,1018.0 367.5,1017.1 369.5,1016.0 371.3,1014.3 373.4,1014.3 375.5,1014.4 377.5,1013.4 379.5,1012.8 381.5,1012.0 383.6,1011.6 385.8,1011.3 387.9,1011.5 390.0,1010.5 392.1,1010.1 394.1,1009.7 396.2,1010.1 398.3,1009.0 400.4,1009.2 402.5,1009.1 404.6,1008.9 406.7,1009.9 408.8,1009.6 410.8,1009.4 412.9,1009.6 415.0,1010.5 417.0,1010.6 418.8,1011.1 420.7,1011.1 422.7,1010.9 424.9,1011.6 427.5,1011.0 428.9,1010.3 430.3,1012.1 431.9,1012.1 433.5,1010.8 435.2,1011.1 436.9,1012.8 438.8,1012.5 440.7,1011.8 442.6,1013.1 444.6,1012.9 446.7,1012.2 448.8,1012.4 450.8,1014.0 453.0,1012.8 455.2,1014.2 457.4,1014.3 459.6,1014.2 461.8,1015.1 464.1,1014.7 466.3,1015.3 468.6,1015.1 470.8,1014.8 473.1,1014.9 475.3,1016.8 477.5,1015.9 479.4,1016.1 481.3,1017.5 483.4,1017.3 485.5,1017.4 487.8,1017.8 490.1,1017.5 492.4,1017.2 494.8,1018.3 497.2,1018.3 499.7,1018.4 502.2,1019.1 504.7,1020.2 507.2,1020.4 509.8,1020.2 512.4,1020.2 514.9,1021.4 517.4,1020.6 519.9,1020.9 522.3,1021.8 524.7,1022.5 527.2,1021.7 529.5,1022.4 531.7,1023.4 533.9,1022.5 536.0,1023.6 538.0,1023.9 540.0,1024.3 541.8,1023.9 543.5,1025.0 545.1,1024.9 546.6,1024.3 548.0,1025.3 549.2,1025.9 550.3,1024.9 551.1,1026.6 551.9,1025.6 552.5,1026.3 553.9,1027.5 554.5,1026.2 555.0,1026.8 555.7,1026.9 556.4,1027.6 557.2,1026.7 558.1,1028.1 559.2,1027.4 560.3,1027.2 561.4,1027.7 562.7,1028.6 564.0,1029.1 565.5,1028.3 567.0,1027.8 568.5,1028.8 570.1,1028.5 571.8,1029.3 573.6,1029.5 575.4,1028.9 577.3,1029.8 579.2,1030.0 581.2,1030.1 583.3,1030.1 585.3,1030.8 587.5,1030.8 589.6,1031.6 591.9,1031.8 594.1,1031.2 596.4,1032.0 598.8,1032.0 601.1,1032.2 603.5,1031.5 606.0,1031.5 608.4,1031.5 610.9,1031.9 613.3,1033.5 615.9,1032.2 618.4,1033.1 620.9,1033.6 623.4,1034.5 626.0,1033.0 628.5,1034.8 631.1,1034.8 633.6,1035.2 636.2,1034.9 638.8,1035.2 641.3,1034.6 643.8,1034.9 646.4,1035.6 648.9,1035.0 651.3,1036.5 653.8,1036.0 656.3,1035.7 658.7,1036.5 661.1,1037.5 663.4,1037.1 665.8,1037.1 668.1,1038.0 670.3,1038.0 672.6,1037.9 674.8,1038.0 676.9,1037.2 679.0,1037.9 681.0,1038.1 683.0,1038.8 685.0,1038.0 687.0,1038.9 689.1,1039.4 691.2,1038.2 693.3,1038.4 695.3,1039.6 697.5,1040.1 699.6,1040.5 701.8,1040.7 703.9,1040.5 706.1,1040.1 708.3,1040.7 710.5,1040.9 712.7,1041.2 714.9,1041.6 717.2,1041.7 719.4,1041.9 721.7,1040.6 723.9,1042.1 726.1,1041.6 728.4,1041.9 730.7,1041.6 732.9,1042.6 735.2,1042.0 737.4,1042.3 739.7,1041.7 741.9,1042.6 744.1,1042.5 746.4,1042.3 748.6,1043.4 750.8,1043.6 753.0,1043.8 755.2,1044.3 757.4,1044.1 759.6,1043.7 761.8,1043.2 764.0,1043.7 766.1,1044.6 768.2,1044.4 770.4,1043.9 772.4,1044.3 774.5,1044.3 776.6,1044.3 778.6,1045.3 780.7,1044.8 782.6,1045.7 784.6,1046.0 786.6,1046.0 788.5,1045.0 790.4,1046.2 792.3,1045.1 794.1,1046.1 795.9,1047.0 797.7,1047.0 799.5,1045.7 801.2,1047.0 802.9,1045.7 804.6,1047.3 806.2,1046.4 807.8,1047.7 809.4,1046.5 810.9,1047.4 812.4,1047.1 813.8,1046.4 815.2,1046.5 816.5,1048.0 817.9,1047.9 820.6,1048.3 823.2,1047.6 825.6,1048.1 827.9,1047.3 830.1,1047.5 832.2,1047.7 834.2,1047.9 836.1,1047.8 838.0,1048.2 839.9,1048.7 841.7,1048.0 843.6,1049.3 845.4,1048.6 847.3,1049.3 849.3,1048.7 851.5,1048.3 853.6,1049.2 855.8,1049.0 857.9,1049.3 860.0,1050.1 862.2,1048.8 864.2,1050.4 866.3,1049.9 868.3,1049.3 870.3,1050.4 872.3,1049.4 874.3,1049.9 876.5,1049.6 878.6,1050.8 880.7,1050.2 882.8,1050.9 884.8,1050.7 886.8,1051.1 888.9,1050.5 890.9,1051.5 893.0,1051.4 895.1,1051.5 897.2,1050.9 899.2,1052.1 901.3,1051.8 903.4,1051.2 905.5,1050.9 907.6,1051.7 909.7,1052.6 911.7,1051.9 913.8,1051.2 915.9,1051.0 917.9,1051.8 919.9,1051.6 922.0,1052.8 924.1,1052.8 926.2,1052.8 928.3,1051.0 930.5,1052.3 932.5,1052.6 934.5,1051.4 936.5,1052.4 938.6,1050.9 940.7,1051.1 942.8,1052.1 944.9,1051.2 947.0,1050.2 949.2,1050.4 951.3,1051.2 953.4,1051.6 955.5,1050.8 957.6,1049.8 959.7,1050.6 961.8,1050.9 963.8,1050.3 965.9,1050.5 968.0,1050.2 970.1,1048.9 972.2,1050.4 974.2,1048.7 976.3,1049.9 978.4,1049.1 980.5,1048.5 982.6,1049.1 984.7,1049.4 986.7,1049.7 988.8,1049.8 990.9,1049.7 993.0,1049.0 995.1,1049.0 997.2,1048.7 999.2,1049.9 1001.3,1049.1 1003.4,1049.5 1005.5,1050.5 1007.6,1050.3 1009.7,1049.4 1011.7,1050.6 1013.8,1050.1 1015.9,1050.7 1018.0,1050.3 1020.1,1049.5 1022.2,1050.1 1024.2,1050.2 1026.3,1049.5 1028.4,1049.6 1030.5,1049.8 1032.6,1049.7 1034.7,1051.0 1036.7,1050.7 1038.8,1050.4 1040.9,1050.8 1043.0,1050.0 1045.0,1049.8 1047.1,1049.8 1049.2,1050.5 1051.3,1050.4 1053.4,1050.6 1055.5,1050.7 1057.5,1049.8 1059.4,1049.1 1061.3,1050.2 1063.2,1049.3 1065.0,1049.8 1066.9,1050.0 1068.8,1049.1 1070.8,1049.6 1072.8,1049.9 1074.9,1050.3 1077.1,1050.3 1079.4,1049.0 1081.9,1049.8 1083.5,1050.0 1085.1,1050.3 1086.9,1049.1 1088.7,1049.7 1090.5,1050.2 1092.4,1050.5 1094.4,1050.5 1096.4,1049.9 1098.5,1049.7 1100.6,1050.5 1102.7,1050.6 1104.9,1049.3 1107.1,1049.8 1109.3,1050.5 1111.5,1049.1 1113.7,1049.3 1116.0,1050.0 1118.2,1049.3 1120.5,1049.1 1122.7,1049.3 1124.9,1050.3 1127.1,1050.3 1129.3,1050.1 1131.5,1049.8 1133.6,1049.4 1135.7,1049.6 1137.8,1049.0 1139.8,1049.5 1141.8,1049.8 1143.7,1049.5 1145.5,1049.9 1147.3,1049.0 1149.1,1050.0 1150.7,1048.7 1153.2,1049.2 1155.6,1048.9 1157.9,1049.3 1160.1,1048.8 1162.2,1048.3 1164.3,1047.7 1166.4,1048.2 1168.4,1047.5 1170.3,1047.2 1172.3,1047.8 1174.3,1048.0 1176.1,1046.3 1178.1,1047.2 1180.0,1046.2 1182.0,1045.5 1184.2,1045.4 1186.3,1045.8 1188.4,1045.4 1190.6,1045.6 1192.6,1045.1 1194.7,1044.4 1196.7,1044.7 1198.8,1044.6 1200.8,1043.2 1202.9,1044.0 1205.0,1044.2 1207.0,1044.0 1209.1,1042.4 1211.3,1042.1 1213.5,1042.8 1215.7,1041.4 1217.9,1041.1 1220.1,1040.1 1222.2,1039.7 1224.4,1039.9 1226.4,1039.0 1228.4,1040.2 1230.3,1039.3 1232.0,1039.2 1234.6,1038.1 1237.0,1038.4 1239.2,1037.7 1241.2,1036.6 1243.2,1036.8 1245.3,1036.2 1247.0,1034.7 1248.8,1033.7 1250.7,1031.9 1252.6,1031.7 1254.7,1030.7 1256.7,1029.4 1258.9,1028.6 1261.1,1028.3 1263.2,1027.0 1265.2,1027.3 1267.1,1026.3 1269.0,1025.1 1270.7,1023.0 1272.4,1021.7 1274.1,1020.7 1275.8,1020.3 1277.3,1018.0 1279.0,1018.0 1280.5,1016.9 1281.9,1014.8 1283.9,1014.0 1286.0,1012.9 1288.0,1011.4 1290.2,1010.6 1292.0,1009.0 1294.1,1008.4 1296.1,1007.3 1297.8,1005.9 1299.6,1005.5 1301.5,1004.1 1303.3,1003.2 1307.0,1004.4 1309.1,1004.9 1311.2,1006.7 1313.4,1008.2 1314.9,1010.1 1316.6,1011.3 1317.9,1013.7 1319.3,1015.5 1321.0,1017.3 1322.9,1018.2 1324.6,1019.9 1325.5,1023.0 1326.7,1024.4 1327.6,1026.2 1328.3,1028.3 1328.6,1030.7 1329.7,1032.3 1330.3,1034.5 1331.0,1036.5 1331.6,1038.7 1332.7,1040.3 1333.5,1042.2 1334.2,1044.3 1334.8,1046.5 1335.5,1048.6 1336.5,1050.3 1336.8,1052.8 1337.9,1054.5 1338.5,1056.9 1339.5,1058.7 1340.8,1059.7 1343.3,1060.6 1346.0,1062.8 1347.2,1063.9 1348.6,1065.1 1349.8,1067.3 1351.2,1069.1 1352.8,1070.4 1354.2,1072.7 1355.9,1074.0 1357.6,1075.3 1359.4,1075.7 1361.2,1076.9 1362.9,1078.4 1364.7,1080.1 1366.7,1081.1 1368.8,1081.7 1371.0,1082.6 1372.9,1082.9 1374.7,1084.0 1376.7,1084.2 1378.8,1084.3 1380.8,1086.3 1383.0,1086.2 1385.2,1085.8 1387.4,1086.6 1389.6,1087.5 1391.7,1088.0 1393.9,1088.3 1396.0,1089.2 1398.1,1088.6 1400.1,1089.3 1402.1,1090.5 1404.1,1090.2 1406.1,1090.8 1408.2,1090.4 1410.2,1091.2 1412.3,1091.6 1414.4,1092.2 1416.5,1091.8 1418.7,1092.3 1421.0,1093.2 1422.9,1093.5 1424.8,1092.9 1426.8,1093.3 1428.8,1093.5 1430.8,1094.0 1432.9,1094.1 1435.0,1093.8 1437.1,1093.6 1439.3,1093.4 1441.4,1094.9 1443.6,1093.6 1445.7,1094.5 1447.9,1094.9 1450.0,1093.9 1452.1,1095.5 1454.3,1095.2 1456.4,1094.6 1458.5,1095.0 1460.6,1094.4 1462.7,1095.6 1464.8,1095.3 1467.0,1096.2 1469.1,1095.8 1471.3,1094.7 1473.4,1096.2 1475.6,1096.0 1477.7,1095.3 1479.9,1095.2 1482.0,1096.8 1484.1,1096.6 1486.1,1095.8 1488.2,1096.1 1490.2,1095.5 1492.2,1096.2 1494.1,1097.3 1496.0,1096.6 1498.3,1096.4 1500.5,1096.7 1502.6,1098.3 1504.7,1098.1 1506.7,1098.8 1508.8,1098.7 1510.9,1098.2 1512.9,1098.7 1514.8,1099.9 1516.9,1099.8 1518.9,1100.4 1521.0,1099.9 1523.1,1099.7 1525.1,1099.8 1527.1,1099.9 1529.0,1100.5 1531.0,1101.5 1532.9,1102.1 1534.9,1102.3 1537.0,1102.2 1539.1,1103.0 1541.3,1103.4 1543.6,1102.2 1546.0,1102.2 1547.7,1102.7 1549.4,1103.5 1551.2,1103.2 1553.0,1103.5 1554.9,1104.1 1556.8,1104.7 1558.8,1103.4 1560.7,1104.6 1562.7,1104.5 1564.8,1104.2 1566.8,1104.0 1568.9,1104.1 1570.9,1105.9 1573.1,1104.5 1575.2,1106.1 1577.3,1104.7 1579.4,1105.2 1581.5,1106.1 1583.6,1106.4 1585.7,1105.9 1587.8,1106.9 1589.9,1106.9 1592.0,1105.8 1594.0,1107.7 1596.0,1107.9 1598.0,1106.5 1600.0,1106.9 1601.9,1107.6 1603.9,1107.1 1605.8,1108.5 1607.8,1107.5 1609.7,1108.2 1611.6,1108.9 1613.6,1109.1 1615.5,1108.6 1617.4,1109.3 1619.4,1109.0 1621.3,1109.8 1623.3,1108.8 1625.3,1109.7 1627.2,1110.2 1629.3,1109.0 1631.3,1109.8 1633.3,1110.1 1635.4,1110.1 1637.4,1110.9 1639.5,1110.2 1641.7,1110.8 1643.8,1111.4 1646.0,1110.4 1647.8,1110.6 1649.7,1111.6 1651.5,1112.1 1653.4,1110.9 1655.2,1112.0 1657.1,1112.4 1659.0,1112.3 1660.9,1112.8 1662.9,1112.3 1664.8,1113.1 1666.7,1112.1 1668.7,1112.8 1670.6,1112.7 1672.6,1113.2 1674.6,1113.6 1676.6,1113.7 1678.6,1112.8 1680.6,1112.7 1682.6,1113.7 1684.7,1113.0 1686.7,1112.9 1688.8,1114.7 1690.9,1113.8 1692.9,1114.6 1695.0,1114.9 1697.2,1114.2 1699.3,1114.1 1701.4,1114.4 1703.5,1114.9 1705.7,1115.3 1707.8,1114.3 1710.0,1114.3 1712.2,1116.1 1714.4,1114.7 1716.6,1114.7 1718.8,1116.1 1721.0,1115.2 1722.9,1115.5 1724.8,1116.0 1726.8,1116.0 1729.0,1115.8 1731.1,1116.3 1733.4,1116.4 1735.7,1116.6 1738.0,1116.6 1740.4,1116.8 1742.9,1117.8 1745.4,1117.2 1748.0,1116.5 1750.5,1117.8 1753.1,1117.2 1755.8,1117.4 1758.4,1117.4 1761.1,1117.0 1763.8,1117.5 1766.5,1118.9 1769.2,1117.6 1771.9,1117.9 1774.6,1117.6 1777.3,1119.4 1780.0,1118.7 1782.6,1119.0 1785.3,1119.5 1787.9,1118.3 1790.5,1118.9 1793.0,1119.3 1795.5,1120.1 1797.9,1119.7 1800.4,1119.1 1802.7,1119.1 1805.0,1119.2 1807.3,1120.2 1809.4,1119.5 1811.5,1119.9 1813.6,1120.1 1815.5,1119.8 1817.4,1121.1 1819.1,1120.2 1820.8,1120.3 1822.4,1120.9 1823.9,1121.2 1825.3,1120.3 1826.5,1120.6 1827.7,1120.7 1828.7,1121.6 1829.6,1121.1 1830.4,1121.2 1831.1,1121.0 1831.6,1120.4 1831.9,1122.0 1832.2,1121.5 1832.2,1121.2"/>
</g>
<g fill="none" stroke="#ff0000" stroke-width="1" stroke-linejoin="round" shape-rendering="crispEdges" filter="url(#pen)" transform="translate(-0.5 -0.5)">
<path d="M293.1,813.8 293.9,813.4 295.4,815.1 297.8,815.4 300.2,816.8 302.4,818.5 304.4,819.2 306.4,820.3 308.7,820.2 310.7,821.9 312.9,822.0 315.0,823.3 317.0,824.8 319.2,825.0 321.3,825.9 323.4,826.8 325.3,829.0 327.5,829.2 329.7,829.7 331.6,831.6 333.8,832.0 335.8,833.5 337.8,835.3 340.1,835.0 342.0,837.3 344.2,837.1 346.3,837.7 348.4,839.0 350.5,839.8 352.4,841.8 354.6,841.8 356.6,843.5 358.6,844.8 360.9,844.6 363.0,845.1 365.1,846.2 367.0,847.9 369.2,848.2 371.3,848.6 373.4,849.1 375.5,850.2 377.4,852.1 379.5,852.8 381.8,852.7 383.7,854.4 385.8,855.1 388.0,855.5 390.0,856.5 392.1,857.7 394.1,859.0 396.3,858.4 398.3,860.3 400.3,861.4 402.5,861.3 404.6,861.4 406.6,863.2 408.7,863.4 410.9,863.2 413.0,863.4 415.0,864.4 417.1,865.6 419.1,866.0 421.2,866.9 423.3,867.0 425.5,866.4 427.5,867.2 429.6,867.7 431.6,869.4 433.8,868.7 435.8,870.5 437.9,871.4 440.0,871.7 442.0,872.5 444.1,872.5 446.2,873.1 448.3,873.6 450.4,872.8 452.5,873.3 454.6,874.4 456.6,875.2 458.7,874.9 460.9,874.7 462.9,875.9 465.0,876.1 467.1,876.0 469.1,876.9 471.1,877.6 473.2,876.3 475.3,877.6 477.5,878.2 479.5,877.0 481.4,878.3 483.5,877.9 485.6,878.0 487.7,878.4 489.8,880.1 492.0,879.1 494.1,880.2 496.3,879.4 498.3,879.9 500.3,881.2 502.4,880.4 504.5,880.4 506.5,882.0 508.5,881.6 510.6,881.9 512.8,882.8 515.0,882.6 517.0,882.7 519.0,883.0 521.2,882.3 523.3,882.7 525.5,883.8 527.7,883.6 529.9,883.7 532.1,884.3 534.2,882.9 536.2,884.4 538.2,884.3 540.0,883.5 542.4,884.3 544.6,884.7 546.7,883.6 548.8,883.2 551.1,884.2 553.9,884.4 555.3,883.7 556.9,883.8 558.5,884.7 560.2,884.4 562.0,884.9 563.8,883.7 565.7,885.2 567.7,883.9 569.7,884.3 571.7,884.7 573.8,884.8 576.0,885.5 578.1,885.3 580.3,884.8 582.5,885.3 584.7,885.2 587.0,885.2 589.2,884.4 591.5,885.6 593.7,886.2 595.9,885.8 598.1,885.5 600.3,885.6 602.5,886.1 604.4,885.0 606.3,885.5 608.2,886.4 610.2,885.2 612.1,886.2 614.1,885.1 616.1,886.0 618.1,885.7 620.1,886.0 622.1,885.4 624.1,886.6 626.1,884.9 628.2,886.5 630.2,885.6 632.2,886.6 634.3,886.6 636.3,886.4 638.4,886.3 640.4,886.3 642.5,885.3 644.6,885.2 646.6,885.6 648.7,885.4 650.7,886.1 652.8,886.3 654.8,886.1 656.9,886.8 658.9,886.2 661.0,886.3 663.0,885.5 665.0,885.5 667.0,887.1 669.0,887.0 671.1,885.8 673.1,886.8 675.1,885.9 677.1,886.7 679.1,886.4 681.1,887.4 683.1,886.7 685.2,885.9 687.2,886.5 689.2,886.4 691.2,886.1 693.2,886.7 695.2,886.9 697.3,887.8 699.3,886.7 701.3,886.9 703.3,887.9 705.3,887.8 707.4,886.5 709.4,887.0 711.4,887.9 713.4,887.3 715.4,886.7 717.4,888.4 719.4,887.4 721.5,887.8 723.5,888.4 725.5,888.6 727.5,888.5 729.5,887.9 731.6,888.9 733.6,888.8 735.7,888.8 737.8,889.1 740.0,887.9 742.1,888.8 744.2,889.6 746.4,889.0 748.5,890.1 750.7,890.1 752.9,888.8 755.0,890.5 757.1,890.8 759.2,890.2 761.4,890.6 763.5,890.3 765.5,891.3 767.6,891.0 769.7,890.6 771.7,891.2 773.6,892.1 775.6,891.2 777.5,892.2 779.4,892.5 781.3,892.3 783.1,891.9 784.9,892.7 786.7,891.9 788.4,892.4 790.0,891.8 792.3,893.0 794.5,893.6 796.6,892.5 798.6,893.4 800.5,892.7 802.4,892.8 804.2,893.8 806.0,893.7 807.9,892.9 809.7,893.3 811.7,894.3 813.7,893.4 815.8,893.6 818.0,894.2 819.7,893.8 821.5,894.2 823.3,894.6 825.2,894.1 827.1,894.6 829.0,894.2 831.0,895.1 832.9,895.0 834.9,894.3 837.0,895.5 839.0,894.8 841.1,894.4 843.1,895.3 845.2,895.1 847.3,895.6 849.4,895.3 851.5,895.1 853.6,896.4 855.7,895.6 857.8,896.3 859.8,895.7 861.9,895.1 863.9,896.9 866.0,896.5 868.0,896.1 870.0,896.9 872.0,896.3 874.0,895.6 876.0,897.0 878.0,896.6 880.0,896.5 882.0,896.0 884.0,897.0 886.0,897.2 888.0,897.4 890.0,896.3 892.0,897.9 894.0,897.4 896.0,897.1 898.0,896.9 900.0,897.4 902.0,898.0 904.0,897.3 906.0,898.5 908.0,898.1 910.0,897.8 912.0,897.7 914.0,897.2 916.0,898.3 918.0,898.3 920.0,898.3 922.0,898.7 924.0,897.5 925.9,899.1 927.9,897.9 929.9,897.7 931.8,898.2 933.8,898.0 935.8,898.4 937.7,898.2 939.7,898.3 941.7,897.6 943.6,898.9 945.6,898.8 947.6,898.7 949.6,899.1 951.6,898.6 953.6,898.6 955.6,897.9 957.6,898.7 959.7,898.1 961.7,898.8 963.8,898.5 965.9,897.9 968.0,899.2 969.9,899.6 971.9,898.9 973.8,898.4 975.8,899.4 977.9,899.0 979.9,898.3 982.0,898.2 984.0,898.4 986.1,898.9 988.2,899.5 990.3,898.5 992.4,899.8 994.5,899.1 996.6,898.8 998.8,900.0 1000.9,898.7 1003.0,899.9 1005.1,899.8 1007.1,899.6 1009.2,899.1 1011.3,898.7 1013.3,898.9 1015.3,899.7 1017.3,899.3 1019.3,899.4 1021.2,898.7 1023.2,900.0 1025.1,900.0 1026.9,900.0 1028.7,899.9 1030.5,898.6 1032.8,898.7 1035.1,898.7 1037.2,899.3 1039.4,898.3 1041.5,899.6 1043.5,899.6 1045.5,898.9 1047.5,898.6 1049.5,899.2 1051.5,899.0 1053.5,898.5 1055.5,898.9 1057.5,898.4 1059.5,897.4 1061.5,897.5 1063.7,897.8 1065.8,897.4 1068.0,897.5 1069.9,896.9 1071.8,897.0 1073.7,896.8 1075.6,896.6 1077.5,897.5 1079.5,897.4 1081.5,897.1 1083.5,897.3 1085.5,896.7 1087.5,897.5 1089.5,897.3 1091.5,897.4 1093.6,897.4 1095.6,897.2 1097.7,896.0 1099.7,896.7 1101.8,896.2 1103.8,895.5 1105.9,896.4 1107.9,896.2 1109.9,896.1 1112.0,895.7 1114.0,895.6 1116.0,895.4 1118.0,895.5 1120.0,895.4 1122.0,895.0 1124.0,895.6 1126.0,895.3 1128.0,894.8 1130.0,893.9 1132.0,894.2 1134.0,894.1 1136.0,894.8 1138.0,893.4 1140.0,894.8 1142.0,893.8 1144.0,893.6 1146.0,893.6 1148.0,892.8 1150.0,892.1 1152.0,892.6 1154.0,893.3 1156.0,892.6 1158.0,892.7 1160.0,892.2 1162.0,891.9 1164.0,890.8 1166.0,891.5 1168.0,890.7 1170.0,890.6 1172.0,890.4 1174.0,890.2 1176.1,890.2 1178.1,889.5 1180.2,890.6 1182.2,889.6 1184.3,889.4 1186.3,889.2 1188.3,888.5 1190.4,889.0 1192.5,888.8 1194.5,888.9 1196.5,887.7 1198.5,887.5 1200.5,887.0 1202.5,886.7 1204.6,887.8 1206.5,887.5 1208.5,887.3 1210.4,885.7 1212.3,885.0 1214.2,885.1 1216.1,884.6 1218.0,884.5 1220.1,884.3 1222.2,883.7 1224.3,884.4 1226.4,883.3 1228.5,883.6 1230.5,883.2 1232.6,882.8 1234.6,881.4 1236.6,881.5 1238.6,881.1 1240.6,880.9 1242.5,880.9 1244.4,879.8 1246.3,878.8 1248.2,879.3 1250.1,878.5 1251.9,877.8 1253.7,878.1 1255.5,877.7 1257.6,876.7 1259.6,875.7 1261.6,875.1 1263.6,875.8 1265.5,874.3 1267.4,874.5 1269.3,873.3 1271.1,873.0 1273.1,873.0 1274.9,872.3 1276.8,871.6 1278.7,871.2 1280.5,869.9 1282.4,869.2 1284.3,868.0 1286.3,868.4 1288.1,866.6 1290.1,866.3 1292.0,866.0 1294.1,866.2 1296.0,865.5 1297.9,864.8 1299.8,864.1 1301.6,862.4 1303.6,861.9 1305.5,860.9 1307.4,860.5 1309.4,859.9 1311.4,858.5 1313.3,857.5 1315.4,857.4 1317.4,856.2 1319.4,856.1 1321.3,854.9 1323.3,854.6 1325.2,853.9 1327.1,853.4 1328.7,851.3 1330.5,851.1 1332.6,850.1 1334.7,850.0 1336.6,848.3 1338.6,847.9 1340.5,847.6 1342.4,847.2 1344.2,845.6 1346.1,845.7 1347.9,844.1 1349.8,843.7 1351.5,842.0 1353.4,841.5 1354.9,839.3 1356.7,838.6 1358.5,837.6 1360.2,836.4 1361.7,834.8 1363.2,833.2 1364.8,831.6 1366.5,830.6 1367.9,828.5 1369.6,828.1 1370.9,825.9 1373.1,825.0 1375.0,823.4 1377.0,822.2 1379.2,821.9 1381.1,820.6 1382.7,818.4 1384.5,817.9 1386.2,816.3 1387.9,815.4 1389.6,814.3 1391.6,813.6 1393.3,811.9 1395.3,811.3 1396.7,808.6 1398.7,808.0 1400.0,806.2 1401.2,804.2 1402.4,802.4 1403.6,800.8 1404.8,798.9 1406.2,797.2 1407.3,794.8 1408.5,792.7 1410.0,791.1 1411.0,788.8 1412.2,787.3 1413.0,785.1 1414.2,783.7 1415.1,781.8 1416.2,780.4 1416.8,777.8 1417.9,776.4 1419.1,774.9 1420.0,772.9 1420.9,771.1 1421.8,769.1 1423.2,768.1 1423.8,765.7 1424.8,763.9 1426.0,762.5 1427.2,760.9 1427.9,758.2 1428.9,756.2 1429.9,754.3 1431.1,752.6 1432.0,750.8 1432.5,748.5 1433.4,746.7 1434.2,744.9 1434.9,742.7 1435.5,740.5 1436.6,738.6 1437.4,736.4 1438.0,734.0 1439.1,732.3 1439.9,730.2 1440.8,728.2 1441.6,726.2 1442.3,724.2 1442.6,721.7 1443.7,720.2 1444.3,718.2 1444.5,716.0 1445.2,714.1 1445.8,712.2 1446.1,710.0 1446.5,708.0 1447.2,706.2 1447.5,704.0 1447.8,701.8 1448.2,699.8 1449.2,698.2 1449.7,696.1 1450.0,693.8 1450.4,691.8 1450.7,689.8 1451.6,687.3 1451.9,684.6 1452.7,682.5 1454.8,682.4 1455.9,684.3 1457.4,685.9 1458.8,688.7 1461.0,689.5 1463.4,690.9 1466.0,690.0 1468.4,688.4 1470.9,687.1 1472.8,686.0 1474.8,684.4 1476.6,682.5 1478.4,680.7 1480.1,679.2 1481.6,677.5 1483.4,675.8 1484.8,674.6 1486.6,673.8 1488.4,673.1 1490.1,671.4 1492.0,670.6 1493.4,668.3 1495.0,667.4 1496.3,665.4 1497.9,664.7 1499.1,662.6 1500.6,661.2 1502.2,659.8 1503.9,659.3 1505.3,657.6 1507.0,656.3 1508.3,653.8 1510.2,653.1 1511.6,650.9 1513.3,650.0 1514.8,648.8 1516.7,647.6 1518.3,645.4 1520.2,644.3 1521.9,642.9 1523.4,640.9 1525.4,640.3 1527.1,639.1 1529.0,638.8 1531.0,638.1 1532.9,638.3 1534.9,637.7 1537.0,637.9 1539.1,638.0 1540.9,640.1 1543.1,639.5 1545.1,641.3 1547.2,641.9 1549.2,642.5 1551.1,643.3 1552.5,645.6 1554.2,646.7 1555.5,648.5 1557.2,649.3 1558.5,651.2 1559.9,652.8 1561.1,654.6 1562.2,656.7 1563.4,658.5 1564.8,659.9 1566.0,662.0 1567.2,664.1 1568.6,665.8 1569.8,668.0 1571.2,669.6 1572.0,671.9 1572.9,673.9 1573.8,675.9 1574.4,678.3 1575.3,680.3 1575.9,682.6 1576.5,684.7 1577.1,686.7 1578.0,688.6 1578.2,691.0 1578.8,693.1 1579.3,695.2 1579.6,697.6 1580.3,699.6 1580.8,701.9 1581.6,703.8 1581.9,706.1 1582.4,708.3 1583.0,710.5 1583.7,712.5 1584.5,714.3 1584.5,716.7 1585.2,718.6 1585.6,720.6 1586.2,722.6 1586.8,724.5 1587.1,726.7 1587.7,728.6 1588.2,730.8 1588.5,733.1 1589.1,735.2 1589.5,737.5 1590.1,739.5 1590.6,741.7 1591.2,743.8 1591.9,745.8 1592.4,748.0 1592.8,750.2 1593.4,752.3 1594.0,754.5 1594.4,756.7 1595.2,758.6 1595.7,760.6 1596.1,762.7 1596.5,764.8 1597.3,766.5 1597.5,768.8 1598.3,770.5 1598.9,772.4 1599.4,774.6 1599.8,776.9 1600.5,778.9 1601.4,780.7 1601.7,783.1 1602.7,784.8 1602.9,787.3 1603.6,789.4 1604.6,791.1 1604.9,793.5 1605.4,795.7 1606.1,797.6 1607.2,799.6 1607.6,802.1 1608.6,804.1 1609.3,806.3 1609.8,809.0 1610.7,810.9 1611.5,813.0 1612.4,815.1 1613.2,817.2 1614.0,819.4 1615.0,821.2 1616.0,823.0 1616.9,824.9 1617.8,826.8 1618.5,828.9 1619.0,831.1 1620.0,832.5 1620.9,835.0 1621.7,837.4 1622.4,840.2 1623.2,841.9 1624.5,843.4 1625.4,845.6 1626.4,847.7 1627.6,849.4 1628.6,851.5 1630.0,852.9 1631.1,855.1 1632.4,856.8 1633.8,858.0 1634.9,860.3 1636.1,862.0 1637.3,864.0 1638.7,865.5 1640.1,866.6 1641.4,868.4 1642.6,871.0 1644.2,872.9 1645.7,874.9 1647.6,876.1 1648.9,877.9 1650.5,879.0 1652.1,880.3 1653.5,882.2 1655.0,883.7 1657.0,884.9 1658.6,887.6 1660.6,888.7 1662.5,889.8 1664.4,891.5 1666.1,893.3 1668.0,894.8 1670.2,894.9 1671.9,896.7 1673.7,898.6 1675.5,900.3 1677.4,901.8 1679.3,902.6 1681.1,903.8 1683.1,903.3 1685.0,905.0 1686.8,906.4 1689.0,906.0 1690.8,908.4 1693.0,908.1 1695.1,908.6 1697.0,910.0 1699.0,910.3 1701.0,911.1 1702.9,912.4 1705.0,913.4 1707.0,914.6 1709.1,914.6 1711.1,915.7 1713.3,915.5 1715.4,916.8 1717.5,917.2 1719.6,917.3 1721.7,918.2 1723.8,918.4 1725.9,919.1 1728.0,919.3 1730.0,920.9 1732.1,921.1 1734.1,922.2 1736.3,921.1 1738.4,921.6 1740.4,922.7 1742.5,923.9 1744.6,924.1 1746.7,923.1 1748.7,924.5 1750.9,924.1 1752.9,924.8 1755.0,925.0 1757.1,925.4 1759.2,925.9 1761.2,926.8 1763.3,927.0 1765.4,927.2 1767.5,927.9 1769.5,928.3 1771.6,928.5 1773.7,928.4 1775.8,928.4 1777.9,929.6 1780.0,928.5 1782.0,930.4 1784.1,929.5 1786.2,930.4 1788.3,930.4 1790.4,931.0 1792.5,931.7 1794.8,930.9 1797.4,931.6 1800.1,931.8 1802.7,932.0 1804.8,931.9 1806.3,931.7 1806.9,932.5"/>
</g>
<g fill="none" stroke="#0000ff" stroke-width="1" stroke-linejoin="round" shape-rendering="crispEdges" filter="url(#pen)" transform="translate(-0.5 -0.5)">
<path d="M293.1,926.2 293.6,926.3 294.8,925.1 296.9,926.1 299.2,925.7 301.7,924.4 304.4,924.2 306.8,923.4 308.7,921.3 310.7,921.3 312.6,920.2 314.3,918.7 316.0,917.2 317.7,915.8 319.6,915.4 321.3,914.1 322.8,912.3 324.3,910.7 326.1,910.6 327.7,909.3 329.0,907.4 330.7,906.5 332.3,905.5 333.7,903.4 335.2,902.2 336.8,901.4 338.1,899.3 339.5,897.7 341.0,896.5 342.3,894.6 343.5,892.6 345.0,891.5 346.4,890.3 347.4,887.7 349.1,886.9 350.3,885.0 351.2,882.6 352.3,880.6 353.8,879.4 355.0,877.4 356.3,876.1 357.5,874.4 358.5,872.1 359.9,870.9 361.3,869.4 362.3,867.0 363.5,865.2 365.1,864.0 365.9,861.9 366.9,860.0 368.0,858.4 369.3,857.0 370.2,854.7 371.1,852.5 372.0,850.4 373.2,848.7 374.2,846.6 375.2,844.6 376.5,843.3 377.6,841.5 378.5,839.1 379.6,837.3 380.7,835.7 382.0,834.3 382.9,832.0 384.0,830.3 385.5,829.4 386.3,827.0 387.8,826.1 388.8,824.1 389.9,822.2 391.2,820.8 392.5,819.2 393.7,817.4 394.8,815.5 396.1,813.9 397.4,812.5 398.7,811.1 400.1,809.7 401.2,807.7 402.5,806.3 404.0,804.5 405.6,803.3 407.1,801.6 408.8,800.7 410.2,798.9 411.8,797.4 413.5,796.7 415.1,795.5 416.5,793.4 418.1,792.0 419.6,790.3 421.2,789.1 422.7,787.7 424.3,786.4 426.0,785.3 427.4,783.3 429.2,782.3 430.9,780.9 432.7,779.7 434.5,778.3 436.4,777.6 438.2,776.9 440.0,775.5 442.1,774.5 444.1,773.5 446.1,771.7 448.2,770.9 450.4,770.7 452.4,768.8 454.6,769.4 456.5,767.1 458.7,766.6 460.8,767.0 462.9,765.8 465.1,766.5 467.0,765.2 469.1,765.1 471.1,764.3 473.1,763.3 475.3,763.8 477.5,763.2 479.4,762.7 481.4,764.0 483.5,762.5 485.6,762.9 487.7,762.3 489.9,762.3 492.0,763.0 494.1,762.3 496.3,762.4 498.3,762.7 500.4,762.6 502.4,762.5 504.4,761.2 506.5,761.8 508.6,761.8 510.7,761.4 512.8,761.1 515.0,761.9 517.0,762.3 519.0,761.6 521.2,762.4 523.3,762.7 525.5,762.8 527.7,761.7 529.9,762.3 532.1,762.3 534.2,763.3 536.2,763.5 538.2,762.4 540.0,762.8 542.5,763.1 544.6,763.4 546.7,762.7 548.8,763.2 551.1,764.0 553.9,763.4 555.3,764.4 556.9,763.5 558.5,764.1 560.2,763.8 562.0,764.6 563.8,764.9 565.7,765.5 567.7,765.6 569.7,764.7 571.7,765.5 573.8,766.4 575.9,767.0 578.1,766.0 580.3,767.1 582.5,767.0 584.8,766.8 587.0,767.0 589.2,767.7 591.5,767.1 593.7,767.8 595.9,768.8 598.2,767.5 600.3,769.1 602.5,768.3 604.4,769.7 606.3,769.9 608.2,770.0 610.2,770.1 612.1,769.8 614.1,769.8 616.1,769.3 618.1,769.9 620.1,770.5 622.1,771.4 624.1,771.7 626.1,771.8 628.1,772.0 630.2,772.2 632.2,772.1 634.3,772.3 636.3,772.1 638.4,771.6 640.4,773.0 642.5,772.6 644.5,773.3 646.6,773.2 648.7,772.7 650.7,773.7 652.8,773.4 654.8,773.3 656.9,773.5 658.9,773.2 660.9,774.8 663.0,773.7 665.0,775.0 667.0,775.5 669.0,774.1 671.0,775.5 673.1,775.4 675.1,775.3 677.1,775.9 679.1,774.8 681.1,775.4 683.1,776.1 685.1,776.5 687.2,775.7 689.2,776.3 691.2,776.2 693.2,776.4 695.2,777.5 697.2,777.6 699.3,776.4 701.3,776.6 703.3,777.9 705.3,777.2 707.3,778.2 709.4,776.9 711.4,777.3 713.4,777.4 715.4,777.9 717.4,777.6 719.4,778.8 721.4,778.7 723.5,778.4 725.5,778.4 727.5,779.1 729.5,779.5 731.6,778.8 733.7,779.1 735.8,778.4 737.8,779.4 740.0,779.6 742.1,779.8 744.2,779.1 746.4,779.9 748.5,779.1 750.7,779.1 752.8,780.3 755.0,780.6 757.1,780.3 759.2,779.2 761.3,780.5 763.5,779.6 765.5,780.4 767.6,780.6 769.6,780.5 771.7,780.0 773.7,780.6 775.6,780.1 777.6,780.7 779.5,781.3 781.3,780.9 783.2,780.5 784.9,780.3 786.7,781.6 788.4,781.1 790.0,781.4 792.3,781.6 794.5,781.7 796.5,781.3 798.4,781.8 800.2,782.7 802.1,781.5 803.9,781.9 805.6,782.1 807.5,782.3 809.3,783.1 811.3,783.2 813.4,783.2 815.6,782.6 818.0,782.1 819.6,783.5 821.2,783.4 822.9,784.0 824.8,782.9 826.6,782.6 828.5,784.2 830.5,783.5 832.5,784.4 834.6,783.3 836.7,784.2 838.9,785.1 841.1,784.6 843.3,784.4 845.5,784.7 847.8,784.7 850.1,784.0 852.3,785.7 854.6,784.4 856.9,785.1 859.2,784.5 861.4,785.6 863.7,785.7 866.0,784.9 868.2,786.5 870.3,786.7 872.5,786.8 874.6,786.6 876.7,786.3 878.8,786.0 880.8,786.9 882.7,787.4 884.6,786.5 886.4,786.1 888.2,786.1 889.9,786.3 891.5,787.1 893.0,786.7 895.5,787.3 897.9,786.9 900.1,786.7 902.1,787.9 904.1,786.7 906.0,786.9 907.9,788.1 909.8,787.1 911.7,787.0 913.7,787.4 915.8,787.0 918.0,788.1 919.9,787.6 921.8,786.8 923.8,788.2 925.8,787.1 927.9,786.9 929.9,787.7 932.0,788.1 934.1,788.0 936.3,788.4 938.4,787.4 940.6,788.5 942.7,788.7 944.9,787.7 947.0,787.8 949.2,788.6 951.3,788.8 953.4,787.6 955.5,788.6 957.6,787.5 959.7,788.1 961.8,788.3 964.0,787.6 966.1,788.1 968.3,788.0 970.4,788.5 972.6,788.5 974.7,789.3 976.9,787.9 979.0,788.6 981.1,787.9 983.1,789.1 985.2,787.8 987.2,789.3 989.2,789.1 991.1,787.9 993.0,789.6 995.3,789.7 997.5,789.5 999.6,789.4 1001.7,788.4 1003.8,788.2 1005.8,788.3 1007.8,788.2 1009.9,789.3 1011.9,789.5 1013.9,789.4 1015.9,789.0 1018.0,789.4 1020.1,788.3 1022.2,788.7 1024.3,789.8 1026.3,788.7 1028.4,788.9 1030.5,789.0 1032.6,788.6 1034.7,787.9 1036.8,788.8 1038.8,788.1 1040.9,788.7 1043.0,788.1 1045.1,788.9 1047.2,788.5 1049.3,789.0 1051.3,788.0 1053.4,787.9 1055.5,787.4 1057.6,788.1 1059.7,787.9 1061.8,787.8 1063.8,787.3 1065.9,788.2 1068.0,787.7 1070.1,787.3 1072.2,786.4 1074.3,786.4 1076.5,787.1 1078.6,787.3 1080.7,785.9 1082.9,787.3 1084.9,785.9 1087.0,786.9 1089.1,786.5 1091.1,786.3 1093.0,785.0 1095.2,786.0 1097.3,784.4 1099.4,784.1 1101.5,784.2 1103.5,783.0 1105.6,783.3 1107.7,783.1 1109.7,782.6 1111.7,781.4 1113.8,781.7 1115.9,781.2 1118.0,781.3 1120.0,779.7 1122.2,780.2 1124.2,779.1 1126.3,779.5 1128.4,779.0 1130.5,779.5 1132.6,778.2 1134.7,779.0 1136.7,777.9 1138.8,777.0 1140.9,776.4 1143.0,776.6 1145.1,776.2 1147.2,777.1 1149.3,776.7 1151.3,776.0 1153.5,776.5 1155.6,775.1 1157.7,775.8 1159.9,775.5 1162.0,776.1 1164.0,774.7 1166.0,775.3 1168.0,774.5 1170.3,774.2 1172.6,775.4 1174.7,774.6 1176.8,773.4 1179.2,773.7 1181.9,774.4 1183.5,773.8 1185.1,773.5 1186.9,773.6 1188.8,773.1 1190.7,772.2 1192.6,772.3 1194.7,773.4 1196.8,773.3 1198.9,772.1 1201.0,771.3 1203.1,771.0 1205.3,771.9 1207.5,772.2 1209.6,770.4 1211.7,770.5 1213.9,770.3 1216.0,770.6 1218.0,769.2 1219.9,769.1 1222.0,770.0 1224.0,768.7 1226.0,768.3 1228.0,767.3 1230.0,767.3 1232.1,766.9 1234.2,766.9 1236.2,765.9 1238.3,766.8 1240.2,765.4 1242.2,764.5 1244.2,763.7 1246.2,764.1 1248.1,763.6 1250.0,763.4 1251.9,763.3 1253.7,762.4 1255.5,761.7 1257.8,761.6 1260.0,761.9 1262.2,761.2 1264.2,759.9 1266.3,760.2 1268.4,759.7 1270.4,759.1 1272.4,758.8 1274.5,758.7 1276.4,757.6 1278.5,757.1 1280.6,756.8 1282.5,755.4 1284.5,754.7 1286.5,754.1 1288.5,752.7 1290.5,751.7 1292.6,751.1 1294.6,750.2 1296.6,749.3 1298.5,748.2 1300.3,747.2 1302.1,746.2 1303.9,745.8 1305.4,744.2 1307.6,744.3 1309.3,742.3 1311.2,741.5 1313.0,741.1 1314.7,740.1 1316.2,738.0 1317.8,736.8 1319.6,736.4 1321.2,735.6 1322.6,733.8 1324.3,733.2 1325.9,732.0 1327.2,729.7 1328.7,728.3 1330.3,726.9 1332.1,726.5 1333.6,725.1 1335.0,722.9 1337.0,722.8 1338.4,720.6 1339.9,719.0 1341.5,717.5 1343.2,716.7 1344.7,715.5 1346.0,713.8 1347.7,712.3 1349.3,710.6 1351.0,709.1 1352.4,706.9 1353.8,705.4 1355.1,704.3 1355.8,702.1 1357.2,699.9 1358.6,697.7 1359.5,696.1 1360.4,694.2 1361.6,692.5 1362.4,690.0 1363.8,688.4 1364.6,685.9 1365.4,684.0 1366.4,682.2 1367.5,680.5 1367.9,677.9 1369.0,676.2 1370.1,674.4 1370.8,672.2 1372.6,671.1 1373.8,668.7 1375.3,666.8 1376.9,665.3 1378.4,663.4 1380.0,661.6 1381.8,660.3 1383.6,659.0 1385.4,657.4 1387.3,656.7 1389.3,654.6 1391.5,654.2 1393.7,653.4 1396.0,652.1 1398.0,651.8 1400.2,651.3 1402.5,651.3 1404.7,649.3 1406.8,650.1 1408.6,649.4 1410.5,647.4 1412.3,646.2 1413.4,643.5 1414.4,641.6 1415.5,640.0 1416.5,638.2 1417.5,636.6 1418.4,633.6 1419.9,631.8 1421.5,630.0 1423.8,629.8 1426.0,628.9 1428.4,630.2 1430.8,632.0 1433.5,631.0 1435.4,631.1 1437.4,631.7 1439.5,631.3 1441.6,631.0 1443.5,630.4 1445.7,628.7 1448.1,629.1 1450.2,627.6 1452.3,628.0 1453.9,626.3 1455.4,625.0 1457.2,624.4 1458.5,622.5 1459.9,620.4 1461.5,619.0 1463.3,618.2 1464.6,615.7 1466.4,615.2 1467.9,613.8 1469.5,612.7 1471.1,611.9 1472.7,610.4 1474.1,608.8 1475.8,608.1 1477.2,606.0 1478.7,604.4 1480.2,603.3 1481.8,602.3 1483.5,601.4 1485.3,600.2 1487.2,599.5 1489.0,597.8 1491.0,597.9 1493.5,596.8 1496.1,596.6 1498.5,594.8 1500.6,596.5 1502.7,596.7 1504.8,597.1 1506.5,598.1 1508.1,599.3 1509.7,600.6 1510.8,603.1 1512.2,604.5 1513.6,606.2 1515.0,607.6 1515.9,610.1 1517.1,611.6 1517.9,613.6 1519.2,614.9 1520.2,616.5 1520.8,619.1 1522.0,620.8 1523.3,622.3 1524.2,624.6 1525.0,626.9 1525.8,629.0 1526.9,631.2 1528.2,632.8 1528.7,635.4 1529.5,637.8 1530.6,639.4 1531.5,641.3 1532.0,643.6 1532.6,645.7 1533.7,647.3 1534.1,649.8 1535.0,651.7 1535.3,654.2 1536.0,656.3 1536.5,658.6 1537.4,660.6 1538.1,662.7 1538.4,665.1 1538.9,667.4 1539.1,669.9 1539.5,672.7 1540.0,674.3 1540.7,676.0 1541.1,678.1 1541.7,680.1 1541.8,682.6 1542.3,684.7 1543.1,686.6 1543.7,688.6 1544.2,690.8 1544.8,692.9 1545.3,695.1 1545.8,697.2 1546.2,699.4 1546.5,701.8 1547.0,703.9 1547.6,705.9 1548.2,707.8 1548.5,709.9 1549.2,711.8 1549.5,713.9 1550.0,715.9 1550.7,717.8 1551.1,719.9 1551.7,722.1 1552.4,724.3 1553.2,726.4 1553.8,728.6 1554.2,731.1 1555.2,733.0 1555.8,735.3 1556.8,737.2 1557.5,739.4 1558.7,741.1 1559.2,743.6 1560.2,745.4 1560.9,747.6 1561.8,749.4 1562.6,751.3 1563.6,752.9 1564.3,754.9 1565.0,757.1 1565.9,759.0 1566.8,761.0 1568.1,762.4 1569.1,764.4 1570.1,766.3 1571.0,768.6 1572.4,769.6 1573.3,772.2 1574.5,774.1 1575.9,775.4 1577.1,777.4 1578.5,778.9 1580.2,780.1 1581.6,782.4 1583.5,783.0 1584.9,785.2 1586.7,785.9 1587.9,788.5 1589.5,789.9 1591.3,790.5 1592.9,792.5 1594.9,792.9 1596.7,794.7 1598.7,795.8 1600.9,796.7 1603.0,798.1 1605.2,799.3 1607.4,800.4 1609.4,800.9 1611.4,802.3 1613.6,801.9 1615.4,804.0 1617.5,804.4 1619.5,804.5 1621.5,805.8 1623.5,806.7 1625.5,807.1 1627.6,806.9 1629.5,807.5 1631.4,809.3 1633.5,808.8 1635.4,810.2 1637.5,811.1 1639.5,810.4 1641.6,811.0 1643.7,811.6 1645.7,813.0 1647.9,813.6 1650.0,812.9 1652.0,814.4 1654.2,813.4 1656.2,815.3 1658.3,815.2 1660.4,814.8 1662.5,814.8 1664.6,816.5 1666.7,816.7 1668.8,816.7 1670.9,817.5 1673.0,817.0 1675.0,818.0 1677.3,818.0 1679.7,817.9 1681.9,819.8 1684.1,819.8 1686.2,820.5 1688.8,819.7 1691.4,820.1 1693.5,821.6 1694.4,820.9"/>
<path d="M293.1,926.2 293.6,926.3 294.9,925.7 296.8,926.1 299.2,925.3 301.7,924.4 304.3,924.0 306.7,923.2 308.8,922.6 310.7,922.1 312.4,920.0 314.3,919.6 315.9,917.9 317.8,917.4 319.6,916.8 321.2,914.8 322.7,913.4 324.4,912.7 326.0,911.3 327.5,909.9 329.0,908.5 330.9,908.4 332.2,906.1 333.7,904.8 335.0,903.0 336.5,901.3 338.2,900.5 339.4,898.1 340.9,896.7 342.2,894.7 343.7,893.5 345.0,891.7 346.2,889.8 347.7,887.9 349.4,887.0 350.6,884.6 352.0,883.1 353.4,881.2 355.1,880.5 356.5,879.1 357.6,876.8 359.0,875.1 360.7,874.9 362.1,873.2 363.3,870.9 364.8,869.4 366.3,868.1 368.0,867.3 369.6,866.1 371.1,864.1 372.6,862.4 374.3,861.4 376.1,860.8 377.4,858.5 379.2,857.9 380.7,856.2 382.1,854.3 383.6,852.6 385.1,851.0 386.7,849.9 388.5,849.1 389.9,847.3 391.7,846.6 393.1,845.0 394.8,844.1 396.1,842.1 397.6,840.4 399.4,840.2 400.9,838.7 402.6,837.9 404.4,837.0 405.9,834.9 407.8,834.3 409.5,832.6 411.4,832.3 413.2,831.3 415.1,831.3 417.2,830.5 419.0,828.0 421.2,828.1 423.3,826.8 425.3,825.6 427.5,825.4 429.5,824.2 431.6,824.4 433.7,824.5 435.9,824.6 437.9,824.3 440.0,822.9 442.1,823.0 444.1,821.8 446.2,822.1 448.3,822.8 450.4,822.9 452.5,821.4 454.6,821.2 456.7,822.2 458.8,822.3 460.8,822.0 462.9,821.9 465.0,821.6 467.1,822.2 469.1,821.2 471.1,820.9 473.2,821.1 475.3,821.5 477.5,822.4 479.4,821.2 481.4,821.7 483.5,822.7 485.6,822.7 487.7,823.0 489.8,823.4 492.0,823.6 494.1,823.9 496.3,822.9 498.3,823.6 500.4,823.2 502.4,823.5 504.5,823.2 506.5,824.7 508.6,823.6 510.7,824.7 512.8,824.4 515.0,825.2 517.0,824.9 519.1,825.0 521.1,826.4 523.3,826.8 525.5,827.0 527.7,827.2 529.9,827.6 532.0,828.0 534.2,828.0 536.2,828.3 538.2,827.9 540.0,828.0 542.5,828.0 544.6,829.0 546.7,829.1 548.8,828.6 551.1,829.7 553.9,828.6 555.4,828.8 556.8,830.5 558.5,830.0 560.2,830.6 562.0,829.6 563.8,830.9 565.7,830.3 567.7,830.3 569.7,830.3 571.7,831.3 573.9,831.0 575.9,832.6 578.1,832.8 580.3,832.2 582.5,833.5 584.8,832.8 587.0,832.5 589.2,833.7 591.4,834.5 593.7,834.5 595.9,834.2 598.1,835.2 600.3,835.3 602.5,834.7 604.4,834.4 606.3,835.1 608.2,836.4 610.2,835.0 612.2,835.2 614.1,835.9 616.1,837.2 618.1,836.6 620.1,836.0 622.1,837.5 624.1,837.6 626.1,837.9 628.1,837.8 630.2,838.2 632.2,838.5 634.3,838.5 636.3,839.2 638.4,838.5 640.5,838.4 642.5,839.0 644.6,838.8 646.6,839.2 648.7,839.5 650.7,840.4 652.8,840.0 654.8,840.6 656.9,841.2 658.9,840.9 661.0,840.9 663.0,841.4 665.0,841.9 667.0,841.9 669.0,842.0 671.0,842.5 673.0,841.6 675.0,842.1 676.9,842.1 678.9,842.3 680.8,842.7 682.8,842.7 684.8,842.5 686.7,843.6 688.6,844.2 690.6,843.0 692.6,843.9 694.5,844.0 696.5,843.3 698.5,843.6 700.5,844.7 702.4,845.3 704.5,844.1 706.5,844.8 708.5,845.5 710.6,844.7 712.6,846.1 714.7,844.8 716.8,846.0 718.8,846.8 721.0,847.1 723.1,846.6 725.3,845.7 727.5,846.4 729.3,847.3 731.2,846.6 733.1,847.7 735.0,847.3 737.0,847.4 738.9,848.3 740.9,848.2 742.9,849.0 745.0,848.2 747.0,848.7 749.1,848.5 751.2,848.2 753.2,848.7 755.3,849.5 757.4,848.9 759.5,850.5 761.7,849.2 763.8,849.6 765.9,850.8 768.0,850.9 770.2,850.0 772.3,850.7 774.4,851.8 776.5,851.9 778.7,851.3 780.8,851.1 782.9,851.5 785.0,852.2 787.1,851.7 789.2,852.5 791.3,851.9 793.3,853.6 795.3,853.1 797.3,853.9 799.3,854.2 801.3,854.2 803.3,853.2 805.2,853.3 807.1,854.5 809.0,854.6 810.9,854.4 812.7,854.2 814.5,854.8 816.2,855.6 818.0,855.5 820.3,855.4 822.5,855.8 824.7,855.1 826.8,855.9 828.9,856.5 831.0,856.0 833.1,856.0 835.1,857.1 837.1,856.7 839.1,856.6 841.0,857.6 842.9,857.8 844.9,857.4 846.8,857.5 848.7,858.0 850.6,858.1 852.5,858.1 854.4,858.2 856.3,858.5 858.2,857.8 860.2,857.6 862.1,858.5 864.0,858.5 866.0,858.9 868.0,858.9 870.0,859.3 872.0,858.3 874.0,859.8 876.0,860.2 878.0,859.6 880.0,859.9 882.0,859.4 884.0,859.8 886.0,859.5 888.0,859.8 890.0,861.2 892.0,861.3 894.0,860.2 896.0,860.8 898.0,860.8 900.0,860.9 902.0,861.0 904.0,862.1 906.0,862.2 908.0,861.9 910.0,861.5 912.0,862.8 914.0,861.7 916.0,862.3 918.0,862.9 920.0,862.3 922.0,861.9 924.0,862.8 925.9,863.3 927.9,863.7 929.9,863.2 931.8,864.0 933.8,863.5 935.7,863.2 937.7,863.4 939.6,864.5 941.6,865.0 943.6,864.6 945.6,863.7 947.5,864.0 949.5,865.0 951.5,865.2 953.5,864.9 955.5,865.3 957.6,865.2 959.6,865.7 961.7,865.8 963.8,866.0 965.9,865.3 968.0,865.8 969.9,866.6 971.9,866.5 973.9,866.1 976.0,865.3 978.0,866.8 980.1,866.1 982.3,867.2 984.4,866.3 986.6,866.3 988.8,866.5 991.0,867.6 993.2,866.9 995.5,867.0 997.7,867.1 999.9,868.1 1002.1,866.6 1004.3,868.1 1006.5,867.7 1008.6,867.6 1010.7,867.6 1012.8,867.3 1014.9,868.1 1016.9,867.5 1018.9,868.3 1020.9,868.1 1022.8,868.6 1024.6,868.0 1026.4,867.9 1028.2,867.6 1029.9,868.6 1031.5,866.9 1033.0,867.0 1035.5,867.6 1037.7,866.1 1039.7,866.2 1041.6,865.6 1043.5,865.1 1045.4,866.0 1047.1,864.5 1049.1,864.6 1051.1,864.6 1053.2,863.8 1055.5,864.1 1057.1,863.9 1058.8,862.9 1060.5,862.3 1062.2,862.7 1064.0,862.9 1065.8,862.8 1067.7,862.0 1069.5,863.4 1071.4,863.8 1073.4,862.6 1075.4,863.7 1077.4,862.5 1079.4,863.8 1081.5,862.8 1083.5,863.4 1085.6,863.5 1087.8,864.1 1089.9,863.8 1092.1,864.0 1094.3,862.7 1096.5,863.2 1098.7,864.1 1101.0,864.2 1103.2,864.6 1105.5,863.4 1107.3,864.6 1109.1,864.0 1110.9,864.3 1112.8,863.6 1114.7,863.5 1116.7,864.4 1118.6,863.0 1120.6,864.0 1122.6,863.7 1124.7,864.4 1126.8,863.9 1128.8,864.0 1130.9,864.2 1133.1,864.5 1135.2,863.1 1137.3,863.9 1139.5,863.1 1141.6,863.2 1143.8,863.1 1146.0,863.8 1148.2,863.5 1150.3,863.7 1152.5,862.8 1154.7,863.9 1156.9,863.1 1159.0,863.9 1161.2,862.7 1163.3,862.8 1165.4,863.3 1167.6,862.6 1169.7,863.8 1171.8,862.7 1173.8,862.8 1175.9,863.7 1177.9,863.9 1179.9,862.5 1181.9,863.3 1183.8,862.1 1185.7,862.5 1187.6,862.3 1189.4,862.4 1191.2,862.0 1193.0,862.8 1195.3,862.6 1197.5,862.1 1199.7,862.9 1201.9,862.7 1204.0,861.4 1206.1,861.7 1208.2,862.0 1210.3,862.6 1212.3,861.1 1214.4,861.9 1216.4,861.4 1218.4,860.8 1220.3,861.9 1222.3,861.7 1224.2,860.0 1226.1,860.1 1228.0,860.4 1229.9,860.2 1231.8,859.8 1233.7,859.8 1235.6,859.5 1237.4,859.3 1239.3,858.4 1241.1,858.7 1243.0,858.3 1245.1,859.1 1247.2,858.4 1249.4,858.4 1251.4,857.8 1253.5,856.3 1255.6,857.7 1257.6,855.9 1259.7,857.0 1261.6,855.0 1263.6,855.2 1265.6,854.8 1267.5,853.7 1269.5,854.9 1271.4,853.6 1273.2,853.1 1275.1,852.7 1276.9,852.3 1278.7,851.6 1280.6,852.0 1282.5,849.8 1284.6,849.4 1286.7,849.5 1288.6,848.6 1290.6,848.2 1292.4,847.4 1294.2,846.3 1296.1,845.2 1297.9,844.1 1299.7,842.9 1301.7,843.2 1303.5,841.5 1305.5,840.9 1307.4,840.0 1309.5,840.1 1311.6,839.3 1313.6,838.3 1315.8,838.0 1317.8,837.1 1319.9,836.1 1321.9,835.2 1323.9,833.9 1325.8,832.5 1327.8,832.7 1329.5,831.0 1331.3,830.2 1332.9,829.3 1335.2,829.1 1337.0,827.2 1338.9,826.2 1340.7,825.3 1342.4,824.5 1344.1,823.1 1345.9,822.0 1348.2,821.9 1350.2,820.6 1352.2,818.7 1354.3,817.8 1356.5,817.7 1358.5,816.1 1360.3,814.9 1362.1,813.8 1364.0,812.5 1365.7,811.1 1367.5,809.9 1369.4,809.3 1371.0,807.5 1372.9,806.7 1374.5,804.7 1376.2,803.4 1377.9,802.1 1379.3,799.8 1381.1,799.1 1382.5,796.9 1383.9,795.1 1385.3,793.3 1386.9,792.3 1388.3,790.4 1389.6,788.2 1391.3,786.7 1393.2,786.0 1395.0,784.8 1396.8,783.8 1398.5,782.4 1400.5,780.7 1402.6,779.5 1404.4,777.6 1405.9,776.0 1407.7,775.1 1409.1,774.5 1412.2,776.4 1416.1,775.7 1417.5,774.3 1419.0,772.6 1420.7,771.4 1422.1,769.1 1423.4,767.1 1424.8,765.5 1426.3,764.1 1427.3,762.0 1428.5,760.1 1429.5,758.0 1430.6,756.0 1431.6,754.0 1432.5,751.9 1433.6,750.1 1434.8,748.2 1435.6,745.8 1436.4,743.4 1437.5,741.5 1437.8,739.3 1438.3,737.3 1438.9,735.5 1439.3,733.3 1439.5,731.1 1440.6,729.2 1441.1,726.6 1442.0,724.4 1442.6,722.0 1443.5,720.0 1443.8,717.8 1444.7,716.1 1445.1,714.0 1445.6,712.1 1446.0,709.9 1447.0,707.9 1447.7,705.5 1448.9,703.6 1449.9,701.4 1450.3,699.0 1451.2,697.1 1452.1,695.4 1452.7,693.3 1453.6,691.4 1453.8,688.9 1454.1,686.5 1454.8,684.2 1454.9,681.6 1455.6,679.5 1456.1,677.6 1457.1,675.2 1458.1,673.0 1459.1,672.2 1460.9,672.9 1462.0,676.6 1463.2,677.9 1463.7,680.5 1464.7,682.5 1465.1,685.3 1466.1,687.3 1466.7,689.8 1468.0,691.4 1469.0,693.3 1469.9,695.6 1471.0,697.5 1472.3,699.8 1474.1,701.3 1475.5,703.6 1477.3,704.8 1479.2,706.9 1481.2,709.1 1483.5,709.9 1485.5,709.7 1487.6,709.4 1489.8,709.8 1491.9,709.7 1494.2,709.5 1496.3,707.8 1498.4,706.7 1500.5,707.1 1502.3,705.3 1504.1,704.1 1506.1,703.8 1507.9,702.8 1509.7,701.6 1511.6,701.1 1513.5,699.6 1516.0,699.9 1518.6,699.2 1521.0,699.7 1523.1,700.6 1525.2,701.7 1527.2,702.3 1529.0,702.7 1530.5,704.6 1532.0,706.2 1533.4,707.7 1534.9,709.3 1536.0,711.5 1537.4,712.9 1538.3,715.3 1539.5,716.9 1540.5,719.0 1540.9,721.5 1541.8,723.7 1542.2,726.3 1542.8,728.4 1543.4,730.6 1543.5,733.0 1543.8,735.4 1544.6,737.5 1544.9,739.9 1545.1,742.1 1545.6,744.2 1545.9,746.3 1545.9,748.7 1546.7,750.6 1546.9,752.8 1547.4,754.9 1547.4,757.3 1547.9,759.4 1548.3,761.5 1548.4,763.8 1549.1,765.8 1549.6,767.8 1549.5,770.1 1550.1,772.2 1550.6,774.2 1551.1,776.2 1551.3,778.3 1551.9,780.3 1552.4,782.4 1553.0,784.2 1553.1,786.6 1554.0,788.3 1554.4,790.4 1554.9,792.5 1555.7,794.2 1556.2,796.1 1556.7,798.5 1556.9,800.9 1557.7,802.8 1558.1,805.1 1558.8,807.3 1559.2,809.4 1559.6,811.7 1560.1,814.0 1560.9,815.9 1561.5,818.1 1562.3,819.9 1563.1,822.2 1563.4,824.9 1564.4,827.1 1565.3,829.0 1566.1,831.1 1567.4,833.2 1568.5,835.8 1570.0,837.4 1570.9,839.4 1572.1,840.9 1572.7,843.3 1574.0,844.7 1574.4,847.2 1575.7,848.5 1576.3,850.8 1577.4,852.8 1578.9,854.1 1580.6,855.4 1582.2,856.9 1583.8,858.5 1585.3,860.2 1586.8,862.2 1588.4,863.4 1589.8,865.6 1591.5,866.9 1593.3,867.7 1594.5,870.5 1596.3,871.0 1598.4,872.1 1600.3,874.2 1602.6,874.3 1604.4,875.4 1606.3,876.6 1608.1,878.4 1610.1,878.9 1611.7,881.0 1613.6,881.6 1615.5,881.9 1617.4,882.9 1619.4,883.2 1621.4,883.6 1623.5,884.1 1625.4,886.2 1627.6,885.6 1629.5,887.0 1631.4,888.0 1633.3,888.7 1635.5,887.6 1637.5,888.5 1639.5,889.5 1641.6,889.5 1643.7,889.7 1645.8,890.7 1647.9,890.8 1650.0,890.8 1652.1,892.1 1654.1,892.8 1656.2,892.9 1658.3,892.2 1660.4,892.1 1662.5,893.3 1664.6,894.0 1666.7,894.0 1668.9,893.7 1670.9,894.8 1673.0,894.8 1675.0,894.2 1677.1,895.1 1679.1,895.1 1681.1,896.0 1683.0,895.7 1685.0,895.5 1687.8,896.7 1690.9,897.0 1693.3,897.8 1694.4,897.5"/>
<path d="M293.1,870.0 293.6,870.6 294.9,870.8 296.8,871.2 299.2,871.2 301.7,872.1 304.3,872.9 306.6,874.8 308.7,875.7 310.9,875.6 312.9,876.8 314.9,878.1 317.0,877.7 319.1,878.8 321.2,880.3 323.1,881.5 325.2,882.0 327.4,882.0 329.5,883.5 331.7,884.1 333.9,884.1 336.0,885.1 338.1,884.9 340.0,886.7 342.2,887.2 344.3,887.0 346.2,888.3 348.3,888.6 350.3,889.4 352.5,890.6 354.4,890.4 356.4,891.1 358.5,891.6 360.6,892.2 362.8,892.1 364.8,893.9 367.1,893.3 369.1,894.9 371.3,894.8 373.4,894.7 375.4,895.5 377.5,896.3 379.5,897.6 381.6,897.7 383.7,898.3 385.8,898.2 387.9,898.3 390.0,898.7 392.1,899.3 394.2,899.4 396.2,899.6 398.3,899.6 400.4,899.6 402.5,900.5 404.6,899.8 406.7,901.0 408.8,900.7 410.8,901.7 412.9,901.3 415.0,902.1 417.1,901.6 419.2,902.2 421.3,901.3 423.3,901.7 425.4,902.9 427.5,902.8 429.6,902.3 431.7,901.8 433.8,901.4 435.8,902.0 437.9,901.7 440.0,903.1 442.1,901.5 444.2,902.5 446.2,901.5 448.3,901.6 450.4,902.7 452.4,901.7 454.4,902.2 456.5,902.0 458.6,902.4 460.7,901.7 462.8,901.1 465.0,901.6 467.0,901.9 469.0,901.2 471.0,900.8 473.1,901.4 475.2,900.7 477.3,900.8 479.4,901.0 481.5,900.3 483.7,900.5 485.8,900.2 487.9,900.5 490.0,899.1 492.1,900.0 494.1,900.2 496.1,900.4 498.1,900.2 500.1,899.8 502.2,899.0 504.2,899.6 506.2,898.5 508.4,899.7 510.5,899.7 512.7,899.0 515.0,899.4 516.8,899.7 518.7,898.4 520.6,899.0 522.5,898.2 524.5,898.8 526.5,898.9 528.5,898.1 530.5,899.2 532.6,899.2 534.7,898.8 536.8,898.5 538.9,898.6 541.0,898.1 543.1,897.7 545.3,897.9 547.4,897.7 549.6,897.4 551.7,899.0 553.9,897.5 555.8,898.5 557.7,898.0 559.7,898.3 561.6,898.6 563.5,898.7 565.5,898.6 567.5,898.4 569.5,897.5 571.4,898.5 573.4,897.9 575.5,898.2 577.5,899.5 579.5,899.5 581.5,898.4 583.6,898.8 585.6,898.8 587.7,898.5 589.8,899.0 591.9,899.0 594.0,898.9 596.1,899.3 598.2,899.0 600.4,899.7 602.5,899.0 604.4,899.2 606.3,899.8 608.2,899.1 610.2,900.3 612.1,900.5 614.1,900.7 616.1,899.3 618.1,900.5 620.1,899.8 622.1,901.1 624.1,899.6 626.1,901.3 628.1,901.5 630.2,901.2 632.2,901.0 634.3,900.6 636.3,901.1 638.4,900.5 640.5,900.5 642.5,901.7 644.6,900.8 646.6,901.8 648.7,901.6 650.7,902.5 652.8,901.3 654.8,902.6 656.9,902.3 658.9,902.7 660.9,903.2 663.0,902.3 665.0,902.0 667.0,902.7 669.0,902.0 671.0,902.9 673.1,903.3 675.1,902.1 677.1,903.5 679.1,903.7 681.1,902.7 683.1,903.8 685.2,904.0 687.2,903.2 689.2,904.4 691.2,903.9 693.2,903.5 695.2,903.1 697.3,903.4 699.3,904.4 701.3,904.3 703.3,903.8 705.3,904.3 707.3,904.7 709.4,904.0 711.4,905.0 713.4,905.3 715.4,904.8 717.4,904.0 719.4,904.7 721.5,904.5 723.5,904.0 725.5,904.1 727.5,905.1 729.5,905.4 731.6,904.9 733.6,905.9 735.8,904.7 737.8,905.9 740.0,904.8 742.1,905.6 744.2,905.4 746.4,905.1 748.5,905.6 750.7,905.9 752.8,905.5 755.0,907.1 757.1,906.0 759.2,906.5 761.4,906.5 763.5,906.4 765.5,907.3 767.6,906.2 769.6,907.2 771.7,906.8 773.7,906.3 775.6,907.2 777.6,906.7 779.5,907.8 781.3,907.8 783.1,908.2 784.9,907.3 786.7,908.6 788.4,907.9 790.0,907.5 792.3,908.5 794.5,907.7 796.6,907.9 798.6,908.3 800.5,908.3 802.4,908.5 804.2,909.3 806.0,909.1 807.9,908.9 809.7,908.3 811.7,909.2 813.7,908.5 815.8,910.0 818.0,909.3 819.7,910.2 821.5,909.2 823.3,908.8 825.2,909.3 827.1,909.1 829.0,909.3 831.0,909.2 832.9,909.3 834.9,909.3 837.0,910.1 839.0,909.1 841.1,910.3 843.1,910.0 845.2,909.3 847.3,910.1 849.4,909.5 851.5,909.4 853.6,910.6 855.7,909.5 857.8,909.7 859.8,909.8 861.9,911.2 864.0,911.0 866.0,909.7 868.0,911.1 870.0,910.3 872.0,910.6 874.0,911.1 876.0,911.2 878.0,910.8 880.0,911.6 882.0,911.0 884.0,911.8 886.0,912.0 888.0,911.9 890.0,912.0 892.0,911.0 894.0,911.8 896.0,910.9 898.0,912.6 900.0,912.2 902.0,912.1 904.0,911.8 906.0,912.7 908.0,912.4 910.0,912.0 912.0,912.5 914.0,911.7 916.0,913.2 918.0,912.1 920.0,912.6 922.0,913.3 924.0,911.9 926.0,913.0 928.0,912.3 930.0,912.2 932.0,913.2 934.0,913.5 936.0,912.3 938.0,913.3 940.0,913.1 942.0,913.9 944.0,913.8 946.0,913.2 948.0,912.5 950.0,913.3 952.0,913.4 954.0,914.2 956.0,914.2 958.0,914.2 960.0,913.3 962.0,914.1 964.0,914.5 966.0,914.5 968.0,913.7 970.0,913.7 972.0,914.7 974.0,914.4 976.0,913.6 978.0,913.6 980.0,914.7 982.0,913.8 984.0,913.4 986.0,914.7 988.0,913.4 990.0,914.9 992.0,913.6 994.0,914.2 996.0,915.2 998.0,914.1 1000.0,915.2 1002.0,914.5 1004.0,914.8 1006.0,914.6 1008.0,915.2 1010.0,915.2 1012.0,914.8 1014.0,913.8 1016.0,913.6 1018.0,914.1 1020.0,914.1 1022.0,914.8 1024.0,913.6 1026.0,914.7 1028.0,914.1 1030.0,913.9 1032.0,914.3 1034.0,913.5 1036.0,914.7 1038.0,913.9 1040.0,914.8 1042.0,914.4 1044.0,913.1 1046.0,913.3 1048.0,913.0 1050.0,914.0 1052.0,912.9 1054.0,914.3 1056.0,913.8 1058.0,914.1 1060.0,913.3 1062.0,912.5 1064.0,914.0 1066.0,913.4 1068.0,912.7 1070.0,912.5 1072.0,912.8 1074.0,913.1 1076.0,913.5 1078.0,913.2 1080.0,912.8 1082.0,912.8 1084.0,913.1 1086.0,912.9 1088.0,912.9 1090.0,912.9 1092.0,912.2 1094.0,911.1 1096.0,912.8 1098.0,912.0 1100.0,911.6 1102.0,910.8 1104.0,911.4 1106.0,912.3 1108.0,911.9 1110.0,912.1 1112.0,911.1 1114.0,910.3 1116.0,910.8 1118.0,911.1 1120.0,911.3 1122.0,910.4 1124.0,911.2 1126.0,911.1 1128.0,909.7 1130.0,909.2 1132.0,910.6 1134.0,909.8 1136.0,909.2 1138.0,909.0 1140.0,908.8 1142.0,908.4 1144.0,908.4 1146.0,907.6 1148.0,907.7 1150.0,907.5 1152.0,908.2 1154.0,907.6 1156.0,907.6 1158.0,907.1 1160.0,907.1 1162.0,906.7 1164.0,907.6 1166.0,906.9 1168.0,906.2 1170.0,905.7 1172.0,906.3 1174.0,905.3 1176.0,905.8 1178.0,904.6 1180.0,905.3 1182.0,904.8 1184.0,904.7 1186.0,904.4 1188.0,904.0 1190.0,903.0 1192.0,903.7 1194.0,902.2 1196.0,902.6 1198.0,902.8 1200.0,902.1 1202.0,902.1 1204.0,901.5 1206.0,900.8 1208.0,901.0 1210.0,900.9 1212.0,900.0 1214.0,900.8 1216.0,899.6 1218.0,898.8 1220.0,898.9 1222.0,898.5 1224.1,899.2 1226.1,898.9 1228.1,898.3 1230.1,897.0 1232.2,897.9 1234.2,896.5 1236.3,896.6 1238.4,897.3 1240.4,896.2 1242.4,895.1 1244.5,895.2 1246.6,895.7 1248.5,894.2 1250.6,894.7 1252.6,895.0 1254.5,893.1 1256.6,893.9 1258.5,893.5 1260.4,893.1 1262.4,892.9 1264.3,892.6 1266.2,892.2 1268.0,891.5 1270.1,890.7 1272.2,889.7 1274.4,890.3 1276.5,890.0 1278.5,888.7 1280.5,887.6 1282.6,887.9 1284.6,887.4 1286.7,887.4 1288.7,887.1 1290.5,885.0 1292.6,886.1 1294.5,885.1 1296.4,884.4 1298.2,883.4 1300.1,882.8 1301.9,881.9 1303.7,881.2 1305.5,881.6 1307.6,880.5 1309.7,879.1 1311.9,879.5 1313.9,878.7 1316.0,878.0 1317.8,876.3 1319.9,876.3 1321.8,875.4 1323.5,873.8 1325.3,872.7 1327.2,872.4 1328.9,871.6 1330.4,869.5 1332.5,869.1 1334.4,868.1 1336.3,866.7 1337.9,864.8 1339.5,863.1 1341.4,863.2 1342.9,861.6 1344.3,859.7 1345.8,859.0 1347.4,856.7 1349.0,855.1 1350.7,854.2 1352.1,852.4 1353.6,851.0 1355.2,849.2 1356.7,847.2 1358.4,846.0 1359.7,843.7 1360.5,841.7 1361.5,840.1 1362.2,838.1 1363.2,836.4 1364.0,834.5 1364.8,832.6 1365.8,830.3 1367.3,829.0 1368.3,826.4 1369.8,825.3 1371.2,824.4 1372.7,822.0 1374.7,821.0 1377.1,821.1 1379.7,821.0 1382.2,820.4 1384.2,820.3 1386.2,819.8 1387.9,817.6 1389.7,816.0 1391.7,815.5 1393.3,813.3 1395.0,811.6 1396.7,810.1 1398.6,808.9 1400.1,807.1 1401.6,805.3 1403.2,803.9 1404.3,801.2 1405.9,799.7 1407.3,797.7 1409.0,796.3 1410.6,794.9 1411.9,792.6 1413.5,791.3 1415.1,789.4 1417.1,789.5 1419.0,788.9 1421.1,788.1 1423.0,787.5 1425.0,786.7 1427.1,785.0 1429.3,784.8 1431.5,784.5 1433.4,783.2 1435.6,783.1 1437.7,781.9 1439.7,781.1 1441.5,779.2 1443.6,779.1 1445.4,777.5 1447.1,775.7 1448.9,774.3 1450.7,772.9 1452.3,771.5 1453.5,769.1 1455.1,768.3 1455.9,765.5 1457.4,764.3 1458.5,762.4 1459.8,760.7 1461.1,759.0 1462.3,757.3 1463.6,755.2 1464.8,753.2 1466.1,751.1 1467.6,749.2 1469.4,748.2 1470.9,745.7 1472.5,744.6 1474.1,743.2 1475.7,741.5 1477.6,741.1 1479.3,739.6 1480.9,738.1 1483.2,737.5 1485.5,737.4 1487.7,736.7 1489.7,734.9 1491.5,733.9 1493.2,732.3 1494.8,730.5 1496.8,730.2 1498.5,728.6 1500.7,727.9 1503.0,727.6 1505.1,725.9 1507.3,725.7 1509.4,725.2 1511.4,724.1 1513.5,724.9 1516.0,725.1 1518.5,726.0 1521.1,725.5 1522.6,727.6 1524.2,728.7 1525.8,729.6 1527.3,731.2 1528.6,732.7 1530.0,734.2 1531.1,736.3 1532.3,738.2 1533.6,739.9 1534.6,741.8 1535.5,744.1 1536.4,746.2 1537.3,748.3 1538.6,749.7 1539.7,751.3 1540.5,753.6 1541.6,755.2 1542.6,756.9 1543.6,758.7 1544.1,760.6 1544.9,762.2 1545.0,764.5 1545.8,766.3 1546.3,768.3 1546.7,770.4 1547.3,772.5 1547.6,774.5 1548.2,776.5 1548.4,778.7 1548.7,780.9 1549.2,782.9 1549.6,785.1 1550.1,787.1 1550.6,789.2 1551.2,791.1 1551.3,793.5 1552.1,795.3 1552.5,797.4 1553.1,799.3 1553.4,801.4 1553.6,803.6 1554.3,805.4 1554.6,807.6 1555.2,809.5 1555.6,811.6 1556.1,813.6 1556.4,815.8 1556.9,817.8 1557.3,819.9 1558.1,821.7 1558.7,823.6 1558.8,826.0 1559.7,827.8 1560.1,830.0 1560.3,832.3 1561.1,834.1 1561.4,836.3 1562.1,838.1 1562.2,840.2 1563.2,842.0 1563.4,844.2 1563.9,846.2 1564.3,848.2 1564.8,850.2 1565.8,851.8 1566.2,854.2 1567.3,855.9 1568.2,857.8 1568.6,860.2 1569.4,862.2 1570.3,863.9 1571.0,866.1 1571.7,868.1 1572.3,870.3 1573.4,871.9 1574.3,873.7 1575.4,875.3 1576.1,877.8 1577.0,879.5 1578.1,881.1 1579.2,882.7 1580.1,884.7 1581.4,885.9 1582.6,887.6 1583.8,889.5 1585.1,891.1 1586.0,893.8 1587.4,895.4 1588.9,897.4 1590.5,899.2 1592.1,900.8 1593.8,902.3 1595.2,904.2 1596.8,905.5 1598.4,906.7 1600.1,907.7 1601.9,910.1 1604.2,910.6 1606.4,911.3 1608.3,913.0 1610.4,914.4 1612.5,915.7 1614.2,916.8 1616.0,917.8 1618.1,917.5 1620.1,918.2 1621.9,919.4 1623.9,920.4 1625.9,921.6 1628.0,921.7 1629.9,923.0 1632.0,923.3 1634.0,923.0 1636.0,924.0 1638.0,924.6 1640.0,925.7 1642.0,926.0 1644.0,926.9 1646.1,927.4 1648.3,927.8 1650.4,928.6 1652.5,928.2 1654.5,929.9 1656.6,930.0 1658.7,930.7 1660.8,931.1 1662.9,930.7 1665.0,931.2 1667.1,931.2 1669.1,932.6 1671.1,931.9 1673.2,932.8 1675.3,932.8 1677.5,933.4 1679.7,933.9 1682.3,933.3 1685.1,933.4 1687.9,934.6 1690.4,935.0 1692.5,935.0 1693.9,935.2 1694.4,935.0"/>
<path d="M293.1,915.0 293.7,914.3 294.9,915.8 296.8,915.3 299.1,917.2 301.6,917.9 304.3,917.5 306.7,918.6 308.8,918.8 311.0,919.3 313.0,920.9 315.0,921.0 317.0,922.0 319.1,922.8 321.3,923.8 322.9,925.4 324.7,925.9 326.7,925.9 328.4,928.1 330.4,927.8 332.2,929.5 334.2,930.0 336.2,929.9 338.1,931.3 339.9,932.5 341.8,932.9 343.7,933.7 345.6,934.0 347.4,935.5 349.4,935.4 351.3,935.9 353.1,936.9 354.9,938.4 356.8,939.4 358.7,939.5 360.8,940.4 362.8,941.4 365.0,941.3 367.1,942.1 369.2,942.4 371.1,944.6 373.3,944.4 375.4,944.7 377.5,945.7 379.5,946.7 381.7,946.0 383.7,947.5 385.8,947.4 387.9,947.3 390.0,947.4 392.1,947.9 394.2,948.2 396.3,948.5 398.3,949.1 400.4,949.2 402.5,950.0 404.6,949.0 406.7,950.0 408.7,950.2 410.8,949.9 412.9,950.2 415.0,950.0 417.1,950.8 419.2,950.0 421.2,949.5 423.3,950.5 425.4,949.2 427.5,949.5 429.6,950.4 431.7,949.7 433.8,949.5 435.8,949.5 437.9,949.0 439.9,949.3 441.9,948.9 444.0,948.8 446.0,947.5 448.1,947.3 450.3,946.9 452.5,947.7 454.4,946.8 456.4,947.3 458.4,947.5 460.4,947.6 462.4,945.8 464.5,946.3 466.5,946.0 468.6,945.3 470.8,945.9 473.0,946.0 475.2,944.6 477.5,945.2 479.4,944.9 481.3,945.4 483.3,943.9 485.3,944.8 487.4,943.6 489.4,944.4 491.5,944.0 493.6,943.8 495.8,943.6 497.9,944.4 500.1,944.3 502.2,942.6 504.4,943.4 506.5,943.7 508.7,943.0 510.8,943.5 512.9,943.3 515.0,943.2 517.1,943.0 519.1,942.0 521.2,942.8 523.2,943.2 525.3,941.7 527.3,942.1 529.3,941.4 531.4,941.7 533.4,942.3 535.5,942.3 537.5,942.0 539.6,942.3 541.7,941.3 543.8,942.8 545.9,941.1 548.1,942.7 550.3,942.7 552.5,942.1 554.4,942.4 556.2,941.9 558.1,942.2 560.0,941.3 562.0,942.1 563.9,942.6 565.8,942.6 567.8,942.6 569.7,942.2 571.7,942.2 573.7,942.3 575.7,941.9 577.7,943.0 579.7,942.5 581.8,942.1 583.8,942.7 585.8,941.8 587.9,942.2 590.0,942.4 592.0,941.8 594.1,943.5 596.2,943.5 598.3,943.4 600.4,943.2 602.5,943.6 604.4,943.0 606.3,942.4 608.3,944.1 610.2,943.3 612.2,943.1 614.2,943.6 616.2,942.9 618.1,943.5 620.1,943.0 622.1,944.5 624.2,943.2 626.2,943.3 628.2,944.0 630.3,944.0 632.3,945.2 634.3,945.1 636.4,944.0 638.4,945.3 640.5,944.8 642.5,944.8 644.6,945.1 646.7,944.6 648.7,945.4 650.7,945.8 652.8,946.4 654.9,945.1 656.9,945.0 658.9,945.9 661.0,946.1 663.0,946.9 665.0,946.7 667.0,947.2 669.0,945.8 671.1,945.9 673.1,945.9 675.1,947.3 677.1,947.1 679.1,946.1 681.1,947.3 683.2,946.9 685.2,947.9 687.2,946.8 689.2,947.6 691.2,948.0 693.2,948.1 695.2,947.9 697.3,947.2 699.3,948.4 701.3,948.7 703.3,948.6 705.3,947.7 707.3,948.5 709.4,948.5 711.4,949.1 713.4,948.1 715.4,948.4 717.4,949.5 719.4,949.5 721.5,949.1 723.5,949.5 725.5,950.1 727.5,950.2 729.5,950.0 731.6,949.2 733.6,950.6 735.7,949.7 737.9,949.9 740.0,951.1 742.1,949.5 744.2,950.7 746.4,949.9 748.5,950.1 750.7,950.0 752.8,950.4 755.0,951.8 757.1,951.9 759.2,951.6 761.4,951.0 763.5,951.6 765.5,952.3 767.6,951.2 769.7,951.9 771.7,951.6 773.7,951.8 775.6,951.5 777.5,953.2 779.5,952.1 781.3,951.7 783.1,953.4 784.9,952.9 786.7,953.0 788.4,952.2 790.0,953.2 792.3,953.5 794.5,952.8 796.6,954.0 798.6,954.0 800.5,953.2 802.4,953.4 804.2,953.8 806.0,954.4 807.9,953.1 809.7,953.7 811.7,954.3 813.7,954.0 815.8,955.0 818.0,953.7 819.7,954.1 821.5,955.2 823.3,954.4 825.2,954.7 827.1,954.3 829.0,955.3 831.0,954.9 832.9,955.1 835.0,954.5 837.0,955.2 839.0,955.8 841.1,956.4 843.1,955.9 845.2,955.2 847.3,955.5 849.4,956.9 851.5,956.3 853.6,956.5 855.7,956.2 857.8,955.9 859.8,956.4 861.9,957.2 864.0,956.3 866.0,956.7 868.0,956.2 870.0,957.9 872.0,958.1 874.0,956.7 876.0,958.1 878.0,956.9 880.0,958.0 882.0,957.7 884.0,958.5 886.0,957.3 888.0,958.3 890.0,957.2 892.0,958.5 894.0,958.6 896.0,958.3 898.0,959.2 900.0,958.3 902.0,958.5 904.0,957.9 906.0,957.9 908.0,958.3 910.0,958.9 912.0,959.8 914.0,958.4 916.0,959.1 918.0,959.2 920.0,958.6 922.0,959.7 924.0,959.1 926.0,959.4 928.0,959.2 930.0,960.3 932.0,959.8 934.0,959.6 936.0,960.7 938.0,959.7 940.0,960.3 942.0,960.5 944.0,959.7 946.0,960.6 948.0,961.0 950.0,959.5 952.0,960.9 954.0,959.7 956.0,961.3 958.0,961.0 960.0,961.3 962.0,959.8 964.0,960.8 966.0,960.8 968.0,960.5 970.0,960.3 972.0,960.3 974.0,961.8 976.0,961.5 978.0,961.3 980.0,960.5 982.0,961.5 984.0,961.0 986.0,960.7 988.0,961.9 990.0,960.9 992.0,961.1 994.0,961.2 996.0,961.5 998.0,961.8 1000.0,960.9 1002.0,961.2 1004.0,961.8 1006.0,962.1 1008.0,960.4 1010.0,961.9 1012.0,961.9 1014.0,960.7 1016.0,961.5 1018.0,960.8 1020.0,960.9 1022.0,960.8 1024.0,961.1 1026.0,960.8 1028.0,961.2 1030.0,961.6 1032.0,960.8 1034.0,961.0 1036.0,961.2 1038.0,960.2 1040.0,961.8 1042.0,961.4 1044.0,960.2 1046.0,960.9 1048.0,961.4 1050.0,960.8 1052.0,960.8 1054.0,961.5 1056.0,960.2 1058.0,960.9 1060.0,961.2 1062.0,961.0 1064.0,960.6 1066.0,960.2 1068.0,960.8 1070.0,959.5 1072.0,959.7 1074.0,960.0 1076.0,959.4 1078.0,958.7 1080.0,959.0 1082.0,958.7 1084.0,959.0 1086.0,959.6 1088.0,958.7 1090.0,958.3 1092.0,959.2 1094.0,958.0 1096.0,957.6 1098.0,958.5 1100.0,957.5 1102.0,958.5 1104.0,957.3 1106.0,958.1 1108.0,956.5 1110.0,957.3 1112.0,957.6 1114.0,957.4 1116.0,956.8 1118.0,955.6 1120.0,956.0 1122.0,956.5 1124.0,956.3 1126.0,955.9 1128.0,955.0 1130.0,955.3 1132.0,955.1 1134.0,955.0 1136.0,953.4 1138.0,954.2 1140.0,953.0 1142.0,953.5 1144.0,952.6 1146.0,953.0 1148.0,952.1 1150.0,951.9 1152.0,952.6 1154.0,951.9 1156.0,952.0 1158.0,952.2 1160.0,950.7 1162.0,950.9 1164.0,951.1 1166.0,949.4 1168.0,950.2 1170.0,949.6 1172.0,949.4 1174.0,949.0 1176.1,949.6 1178.1,949.1 1180.1,947.6 1182.2,948.5 1184.3,948.4 1186.3,946.6 1188.4,947.7 1190.4,946.1 1192.4,945.7 1194.5,946.7 1196.5,946.0 1198.6,946.2 1200.5,945.2 1202.5,944.5 1204.5,944.8 1206.5,943.8 1208.5,943.7 1210.4,944.4 1212.4,943.9 1214.2,942.5 1216.1,942.9 1218.0,943.2 1220.1,941.7 1222.2,942.2 1224.3,942.0 1226.3,941.8 1228.2,940.4 1230.2,940.0 1232.2,939.8 1234.2,939.8 1236.2,940.1 1238.1,939.9 1240.0,938.6 1242.0,939.2 1243.9,938.8 1245.8,938.8 1247.8,938.6 1249.7,937.3 1251.6,936.4 1253.6,937.1 1255.5,936.9 1257.5,936.0 1259.5,935.2 1261.5,934.3 1263.6,934.5 1265.7,934.1 1267.7,933.1 1269.8,932.9 1271.8,932.4 1273.8,931.1 1275.8,930.3 1277.9,931.0 1279.8,929.2 1281.8,928.4 1283.7,927.9 1285.7,927.7 1287.7,927.9 1289.5,926.7 1291.2,925.8 1293.0,925.3 1295.1,923.6 1297.3,924.1 1299.3,923.1 1301.0,920.9 1303.0,920.4 1304.9,919.3 1306.7,918.0 1308.6,917.3 1310.4,916.0 1312.3,915.4 1314.2,914.9 1316.1,914.0 1318.1,913.0 1319.8,911.8 1321.5,910.2 1323.4,909.6 1325.3,909.2 1327.2,908.1 1328.9,906.1 1330.7,904.9 1332.7,904.6 1334.6,903.6 1336.3,902.3 1338.1,901.3 1339.6,899.1 1341.2,897.8 1342.8,897.1 1344.3,895.8 1345.8,895.4 1347.6,893.6 1349.0,891.5 1350.7,890.3 1351.8,888.1 1353.0,886.1 1354.4,884.6 1355.6,882.9 1357.1,881.7 1358.4,879.6 1360.1,878.4 1361.6,876.6 1363.3,875.6 1364.5,872.9 1366.3,872.0 1367.9,870.6 1369.3,868.6 1371.1,867.7 1372.7,866.6 1374.1,865.0 1375.6,863.2 1377.3,862.8 1378.7,860.9 1380.2,859.4 1381.9,858.6 1383.5,857.6 1385.5,855.9 1387.9,855.5 1390.2,855.2 1392.4,853.9 1394.3,853.0 1396.0,852.7 1398.1,852.4 1399.8,850.8 1401.1,849.7 1402.6,848.8 1403.9,846.5 1405.3,844.4 1407.0,843.1 1408.5,841.2 1409.8,840.1 1410.8,837.8 1412.1,836.2 1413.4,834.8 1414.9,833.7 1416.0,831.8 1417.5,830.8 1418.4,828.3 1420.2,827.5 1421.2,824.6 1422.8,823.5 1424.3,821.7 1425.7,820.1 1427.2,818.3 1428.8,816.8 1430.6,816.0 1432.5,816.3 1434.3,815.4 1435.9,813.3 1438.1,813.2 1439.9,810.8 1442.1,810.7 1444.0,808.7 1446.0,807.6 1447.9,807.3 1449.6,805.3 1451.4,804.6 1453.0,802.9 1454.9,803.0 1456.4,801.4 1457.8,799.5 1459.2,797.8 1460.8,796.9 1462.3,795.1 1463.9,793.4 1465.8,792.2 1467.4,789.9 1469.2,788.8 1471.1,788.0 1472.8,785.5 1474.8,785.0 1476.6,783.1 1478.4,781.9 1480.6,781.7 1482.6,779.9 1484.8,780.1 1487.2,778.8 1489.7,778.0 1492.3,777.4 1494.8,776.0 1497.3,775.5 1499.7,775.3 1502.3,776.2 1504.7,776.0 1506.6,776.1 1508.2,778.1 1509.7,780.2 1511.0,781.6 1512.2,783.4 1513.4,785.0 1514.9,785.9 1515.7,788.4 1516.8,790.3 1517.4,793.0 1518.4,795.1 1519.5,797.0 1520.5,799.0 1521.8,800.6 1522.4,803.3 1523.3,805.3 1524.5,807.2 1525.3,809.6 1526.1,811.8 1527.1,814.0 1528.1,815.7 1528.9,817.6 1529.6,819.7 1530.5,821.5 1531.2,823.6 1531.6,826.0 1532.3,828.1 1532.4,830.6 1533.3,832.6 1533.6,834.9 1534.0,837.0 1534.4,839.1 1534.9,841.1 1535.8,842.8 1536.1,845.1 1536.8,847.0 1537.2,849.2 1537.7,851.3 1538.1,853.6 1539.0,855.5 1539.7,857.7 1539.8,860.2 1540.4,862.3 1541.2,864.2 1541.4,866.6 1542.3,868.5 1542.7,870.8 1543.0,873.1 1543.6,875.1 1544.3,877.0 1544.6,879.2 1545.4,880.9 1545.9,883.0 1546.6,884.7 1547.0,886.8 1547.3,889.0 1548.0,890.9 1548.6,893.1 1549.5,894.9 1550.1,897.0 1550.5,899.2 1551.1,901.4 1552.1,903.1 1552.8,905.2 1553.7,906.9 1554.3,909.2 1555.3,910.9 1556.2,912.6 1557.1,914.7 1558.1,916.7 1559.3,918.4 1560.3,920.5 1561.4,922.3 1562.5,923.9 1563.2,926.2 1564.2,927.9 1565.1,929.7 1566.3,931.2 1567.3,933.6 1568.9,934.7 1569.9,937.1 1571.5,938.3 1572.6,940.3 1573.8,942.1 1575.0,944.1 1576.4,945.7 1577.9,948.0 1579.8,949.4 1581.7,951.2 1583.6,953.2 1585.4,953.8 1587.3,954.3 1589.0,955.9 1590.6,958.2 1592.5,959.0 1594.4,959.9 1596.2,962.0 1598.4,962.3 1600.5,963.2 1602.6,964.3 1604.5,965.7 1606.4,967.6 1608.7,966.8 1610.7,968.7 1612.8,969.8 1614.9,970.7 1617.0,971.4 1619.2,971.4 1621.2,972.6 1623.3,972.8 1625.3,974.4 1627.4,974.9 1629.6,974.9 1631.6,976.0 1633.8,975.8 1635.8,976.8 1637.9,977.9 1640.1,977.4 1642.0,979.1 1644.2,978.6 1646.2,979.9 1648.3,980.2 1650.4,980.3 1652.5,979.8 1654.6,980.8 1656.6,981.7 1658.8,981.3 1660.8,982.5 1662.9,982.6 1665.0,982.7 1667.1,982.6 1669.1,983.1 1671.1,983.7 1673.2,985.2 1675.3,983.9 1677.5,985.7 1679.7,984.9 1682.3,985.9 1685.2,985.3 1687.9,986.7 1690.4,986.4 1692.5,987.0 1693.9,986.9 1694.4,987.2"/>
<path d="M293.1,933.5 293.6,934.2 294.9,934.3 296.8,934.8 299.2,934.0 301.7,935.4 304.3,935.6 306.7,937.2 308.7,938.2 310.9,938.4 312.8,940.0 315.1,939.4 316.9,941.2 318.9,943.0 321.2,943.5 323.1,944.4 325.2,943.9 327.2,945.0 329.2,946.7 331.5,946.3 333.6,947.5 335.7,948.9 337.8,949.9 340.0,949.8 342.0,951.2 344.1,952.2 346.2,952.0 348.3,952.5 350.3,953.9 352.5,954.2 354.6,954.0 356.6,955.5 358.7,956.1 360.8,956.6 362.9,956.2 364.9,957.5 367.0,958.1 369.1,957.7 371.2,958.6 373.3,957.6 375.4,958.7 377.5,959.2 379.6,959.3 381.7,958.5 383.8,958.8 385.8,959.0 387.9,959.1 390.0,960.7 392.1,960.9 394.2,960.3 396.2,960.7 398.3,961.5 400.4,961.6 402.5,960.2 404.6,961.7 406.7,960.8 408.7,961.6 410.8,960.4 412.9,961.1 415.0,960.5 417.1,960.6 419.2,960.5 421.2,960.4 423.3,961.2 425.4,960.3 427.5,960.6 429.6,960.9 431.7,961.4 433.7,959.8 435.8,960.4 437.9,960.5 439.9,959.5 441.9,959.8 444.0,959.5 446.1,959.7 448.1,958.7 450.3,959.0 452.5,958.5 454.4,957.9 456.4,958.7 458.4,958.9 460.4,957.8 462.4,957.5 464.5,958.1 466.5,957.5 468.7,957.6 470.8,957.3 473.0,958.0 475.2,958.3 477.5,957.6 479.4,957.6 481.3,957.4 483.3,957.2 485.3,958.0 487.4,957.9 489.4,957.3 491.5,957.4 493.6,956.1 495.8,956.0 497.9,956.5 500.1,957.3 502.2,956.1 504.4,956.8 506.5,956.9 508.7,955.9 510.8,956.1 512.9,956.2 515.0,956.7 517.1,956.6 519.1,955.4 521.2,956.2 523.2,956.2 525.3,954.9 527.3,955.7 529.3,955.5 531.4,955.5 533.4,956.3 535.5,955.8 537.5,955.2 539.6,955.3 541.7,956.2 543.8,955.8 545.9,955.1 548.1,955.4 550.3,955.4 552.5,954.9 554.4,954.9 556.2,955.2 558.1,956.5 560.0,955.0 562.0,956.0 563.9,955.0 565.8,955.3 567.8,956.2 569.7,955.2 571.7,956.2 573.7,955.9 575.7,955.7 577.7,956.2 579.7,956.0 581.8,955.6 583.8,955.7 585.8,957.0 587.9,956.0 590.0,956.8 592.0,956.0 594.1,957.0 596.2,956.4 598.3,955.9 600.4,957.0 602.5,957.1 604.4,956.7 606.3,957.1 608.3,956.9 610.2,956.7 612.2,957.3 614.2,957.7 616.1,958.4 618.1,958.0 620.1,958.0 622.2,957.5 624.2,957.6 626.2,957.6 628.2,959.2 630.3,958.1 632.3,958.5 634.3,958.8 636.4,960.1 638.4,960.2 640.5,960.1 642.5,959.5 644.6,959.4 646.6,960.4 648.7,960.9 650.7,961.0 652.8,959.9 654.9,959.9 656.9,960.6 658.9,961.2 661.0,960.5 663.0,960.9 665.0,961.5 667.0,961.7 669.0,961.7 671.0,962.1 673.0,962.5 675.1,961.9 677.1,962.1 679.1,962.5 681.1,962.7 683.1,962.8 685.2,962.8 687.2,963.2 689.2,962.2 691.2,963.0 693.2,962.8 695.3,962.3 697.2,963.8 699.3,963.6 701.3,963.6 703.3,964.3 705.3,964.6 707.3,963.3 709.4,963.6 711.4,964.0 713.4,963.3 715.4,964.6 717.4,964.5 719.4,965.4 721.4,965.3 723.5,964.8 725.5,964.6 727.5,965.5 729.5,965.4 731.6,965.6 733.7,965.3 735.8,964.9 737.9,964.9 740.0,965.3 742.1,966.3 744.2,966.2 746.4,966.3 748.5,965.2 750.7,965.3 752.8,966.1 755.0,966.3 757.1,967.2 759.2,966.0 761.4,965.8 763.5,966.5 765.5,967.2 767.6,967.0 769.7,966.6 771.7,967.3 773.7,967.9 775.6,967.6 777.5,968.3 779.5,967.6 781.3,967.6 783.2,967.1 784.9,968.3 786.7,967.4 788.3,968.8 790.0,968.2 792.3,967.4 794.5,967.6 796.6,967.4 798.6,968.2 800.5,969.0 802.4,968.2 804.2,968.4 806.0,969.4 807.9,968.8 809.7,968.7 811.7,969.3 813.7,969.2 815.8,969.8 818.0,968.6 819.7,970.1 821.5,968.5 823.3,970.0 825.2,970.3 827.1,969.3 829.0,970.2 831.0,969.9 832.9,969.4 834.9,971.0 837.0,969.6 839.0,970.7 841.1,971.3 843.1,971.2 845.2,970.9 847.3,971.3 849.4,971.4 851.5,971.5 853.6,971.5 855.7,971.5 857.8,971.6 859.9,971.2 861.9,970.9 863.9,972.4 866.0,972.5 868.0,971.3 870.0,972.9 872.0,972.0 874.0,973.0 876.0,972.7 878.0,972.8 880.0,972.3 882.0,973.5 884.0,972.3 886.0,973.1 888.0,972.6 890.0,973.5 892.0,972.7 894.0,973.3 896.0,974.1 898.0,974.0 900.0,972.9 902.0,973.1 904.0,972.8 906.0,974.0 908.0,973.9 910.0,974.2 912.0,973.5 914.0,973.2 916.0,973.4 918.0,973.6 920.0,974.4 922.0,975.0 924.0,974.5 926.0,974.7 928.0,974.7 930.0,973.8 932.0,974.9 934.0,974.6 936.0,975.3 938.0,975.3 940.0,973.9 942.0,975.7 944.0,975.5 946.0,975.4 948.0,975.3 950.0,974.9 952.0,974.8 954.0,974.9 956.0,975.8 958.0,975.9 960.0,975.6 962.0,974.5 964.0,976.2 966.0,976.0 968.0,975.3 970.0,976.2 972.0,976.4 974.0,975.7 976.0,975.8 978.0,976.4 980.0,975.8 982.0,976.4 984.0,975.2 986.0,975.5 988.0,975.9 990.0,976.1 992.0,976.2 994.0,976.7 996.0,976.0 998.0,976.5 1000.0,975.6 1002.0,977.0 1004.0,976.7 1006.0,975.7 1008.0,975.4 1010.0,976.4 1012.0,976.1 1014.0,975.6 1016.0,976.6 1018.0,976.5 1020.0,975.5 1022.0,976.6 1024.0,975.3 1026.0,975.9 1028.0,975.7 1030.0,976.8 1032.0,976.1 1034.0,975.5 1036.0,976.9 1038.0,976.0 1040.0,977.0 1042.0,976.9 1044.0,975.5 1046.0,976.5 1048.0,976.9 1050.0,976.4 1052.0,976.7 1054.0,976.2 1056.0,975.7 1058.0,975.8 1060.0,976.2 1062.0,975.0 1064.0,976.3 1066.0,975.2 1068.0,974.8 1070.0,976.3 1072.0,974.8 1074.0,976.0 1076.0,974.6 1078.0,974.4 1080.0,975.7 1082.0,975.1 1084.0,974.2 1086.0,974.0 1088.0,975.1 1090.0,974.6 1092.0,974.5 1094.0,973.8 1096.0,975.3 1098.0,974.9 1100.0,973.7 1102.0,974.1 1104.0,974.4 1106.0,974.2 1108.0,973.9 1110.0,974.2 1112.0,973.5 1114.0,973.4 1116.0,972.9 1118.0,973.7 1120.0,972.6 1122.0,971.8 1124.0,971.8 1126.0,973.0 1128.0,971.4 1130.0,971.2 1132.0,972.3 1134.0,971.0 1136.0,972.0 1138.0,971.2 1140.0,970.8 1142.0,970.0 1144.0,970.9 1146.0,969.4 1148.0,969.4 1150.0,968.9 1152.0,969.2 1154.0,969.2 1156.0,968.2 1158.0,968.2 1160.0,967.8 1162.0,968.7 1164.0,967.7 1166.0,967.5 1168.0,966.9 1170.0,967.6 1172.0,966.8 1174.0,967.0 1176.0,966.8 1178.0,966.1 1180.0,965.1 1182.0,966.3 1184.0,965.7 1186.0,964.2 1188.0,964.3 1190.0,964.0 1192.0,964.3 1194.0,963.6 1196.0,962.8 1198.0,963.3 1200.1,963.8 1202.0,962.2 1204.0,962.1 1206.0,961.4 1208.0,960.7 1210.0,961.3 1212.0,961.6 1214.0,961.3 1216.0,961.2 1218.0,959.6 1220.0,959.3 1222.0,958.6 1224.0,958.5 1226.1,958.6 1228.2,959.2 1230.2,958.5 1232.2,957.8 1234.3,958.1 1236.3,957.6 1238.4,957.3 1240.4,956.0 1242.5,956.0 1244.5,955.2 1246.5,955.2 1248.6,955.1 1250.5,954.1 1252.6,955.1 1254.6,954.1 1256.5,954.0 1258.5,953.7 1260.4,952.2 1262.3,951.9 1264.3,952.2 1266.1,951.6 1268.0,951.1 1270.1,950.9 1272.3,951.1 1274.3,949.9 1276.3,948.6 1278.5,949.3 1280.6,949.0 1282.6,948.6 1284.6,948.2 1286.6,947.4 1288.6,947.3 1290.6,946.6 1292.6,946.8 1294.5,946.2 1296.4,945.4 1298.2,944.5 1300.1,943.7 1302.0,944.3 1303.7,942.5 1305.6,943.3 1307.7,942.4 1309.8,942.0 1311.7,940.2 1313.9,940.6 1315.8,939.5 1317.8,938.3 1319.6,937.1 1321.6,937.1 1323.6,937.3 1325.2,935.3 1327.0,934.6 1328.8,934.7 1330.5,933.7 1332.6,932.9 1334.8,932.8 1336.7,930.9 1338.6,929.9 1340.5,928.9 1342.5,929.2 1344.1,927.3 1345.9,926.9 1347.5,925.0 1349.1,923.8 1350.4,921.5 1351.8,920.1 1353.5,919.1 1354.6,916.7 1356.1,915.1 1357.1,913.4 1358.3,912.2 1359.3,910.3 1360.2,908.5 1361.1,906.4 1361.9,904.4 1362.9,902.5 1364.2,901.3 1365.2,899.6 1366.2,898.0 1367.1,895.8 1368.3,894.3 1369.3,892.4 1370.4,890.6 1371.4,888.9 1372.5,887.1 1373.5,885.2 1375.0,884.5 1376.1,882.6 1377.0,880.3 1378.6,879.6 1379.8,877.9 1380.9,875.9 1382.2,874.5 1383.2,872.2 1384.6,871.1 1386.1,870.4 1387.7,869.0 1389.3,867.8 1390.9,866.2 1392.7,865.6 1394.3,863.8 1395.9,862.2 1397.5,861.1 1399.1,859.7 1400.6,857.7 1402.5,857.0 1404.0,855.1 1405.4,852.9 1406.9,851.4 1408.6,851.0 1410.5,849.1 1412.3,847.3 1414.2,846.3 1416.1,845.4 1417.3,843.0 1418.5,840.8 1420.0,839.2 1421.1,837.0 1422.2,834.9 1423.9,832.7 1425.7,831.2 1427.3,830.0 1431.1,829.5 1433.6,831.2 1435.3,831.8 1437.6,831.0 1440.2,830.9 1442.2,829.2 1444.1,828.3 1445.4,825.9 1446.8,823.7 1448.3,822.0 1449.9,820.9 1451.5,819.7 1453.1,818.8 1454.8,818.1 1457.1,815.9 1459.8,815.6 1462.3,815.1 1464.1,814.2 1465.4,811.6 1467.0,810.3 1468.5,808.6 1470.1,807.1 1471.8,806.0 1473.5,805.9 1476.0,805.9 1478.5,804.9 1480.2,804.7 1481.7,802.4 1483.5,801.3 1485.5,800.2 1487.6,798.7 1489.7,797.1 1491.3,795.8 1493.3,795.7 1495.0,794.3 1496.6,791.9 1498.4,790.6 1500.7,790.2 1502.8,788.4 1505.1,788.3 1507.2,787.3 1509.7,786.4 1512.2,786.5 1514.8,787.1 1516.9,787.3 1519.2,786.8 1521.4,787.6 1523.6,786.8 1525.8,787.9 1528.0,789.2 1529.8,791.2 1531.2,792.4 1532.5,793.8 1533.4,796.1 1534.8,797.5 1535.9,799.0 1537.0,800.5 1538.0,802.2 1538.8,804.4 1539.8,806.2 1540.6,807.9 1541.2,809.7 1541.6,811.9 1542.2,813.8 1542.7,815.8 1543.1,817.9 1543.5,820.0 1543.8,822.2 1544.2,824.4 1544.7,826.5 1544.7,828.8 1545.4,830.8 1545.7,833.0 1546.1,834.9 1546.5,837.1 1546.9,839.2 1547.8,840.8 1548.0,843.1 1548.7,845.0 1548.9,846.9 1549.4,848.7 1549.6,850.8 1550.0,852.8 1550.3,854.9 1550.8,856.9 1550.9,859.1 1551.4,861.2 1551.6,863.3 1552.2,865.2 1552.5,867.4 1552.8,869.6 1553.3,871.6 1553.6,873.8 1554.2,875.8 1554.6,877.9 1554.8,880.2 1555.5,882.2 1555.7,884.6 1556.4,886.7 1556.6,889.1 1557.2,891.2 1557.9,893.2 1558.3,895.4 1558.5,897.7 1559.5,899.4 1559.7,901.7 1560.1,903.8 1560.9,905.5 1561.4,907.5 1561.9,909.4 1562.7,911.0 1563.1,913.7 1563.8,915.9 1564.7,918.0 1565.3,920.4 1566.2,922.6 1566.9,924.4 1567.8,926.1 1568.3,928.3 1568.8,930.6 1569.5,932.6 1570.2,934.6 1571.1,936.5 1572.2,938.5 1573.2,940.8 1574.5,942.7 1575.5,945.0 1576.4,947.2 1577.3,949.1 1578.8,950.5 1579.8,952.6 1581.1,954.0 1582.2,955.8 1583.6,957.2 1584.7,959.5 1586.3,960.4 1587.7,962.0 1588.9,964.5 1590.7,965.2 1592.0,967.7 1593.7,968.8 1595.5,970.6 1597.5,971.5 1599.1,974.2 1601.4,974.5 1603.0,975.5 1604.6,977.5 1606.5,977.3 1608.2,978.7 1609.9,980.5 1612.0,980.5 1613.8,982.3 1615.9,982.9 1617.9,983.9 1620.0,985.1 1622.1,985.3 1624.0,987.0 1626.0,988.4 1628.3,987.9 1630.3,989.9 1632.6,989.5 1634.7,989.9 1636.7,990.9 1638.7,992.1 1640.9,992.2 1642.9,993.7 1644.9,994.5 1647.1,994.0 1649.1,995.7 1651.2,995.8 1653.3,996.3 1655.5,995.7 1657.5,996.3 1659.6,996.5 1661.7,996.9 1663.8,997.7 1665.8,998.4 1668.0,997.9 1670.0,998.7 1672.1,998.7 1674.2,999.8 1676.3,1000.3 1678.3,1000.7 1680.4,1000.5 1682.5,1000.9 1685.2,1002.0 1688.4,1001.7 1691.3,1002.8 1693.5,1002.5 1694.4,1002.5"/>
</g>
<g fill="none" stroke="#ff0000" stroke-width="1" stroke-linejoin="round" shape-rendering="crispEdges" filter="url(#pen)" transform="translate(-0.5 -0.5)">
<path d="M293.8,650.5 293.8,650.9 294.2,650.5 294.8,650.5 295.5,651.0 296.5,650.9 297.3,653.0 298.8,652.3 300.2,653.1 301.7,654.2 303.3,655.5 305.1,656.3 307.1,656.1 309.0,657.7 311.2,658.2 313.3,659.7 315.6,660.8 317.9,661.6 320.2,662.9 322.7,663.2 325.1,664.4 327.6,665.4 329.9,667.4 332.5,667.4 334.9,668.6 337.2,670.3 339.7,670.6 341.9,672.4 344.2,673.4 346.4,673.7 348.6,674.2 350.5,676.3 352.6,675.5 354.4,676.3 356.2,677.5 358.0,678.7 360.0,678.3 361.7,680.4 363.7,680.4 365.6,680.9 367.5,681.4 369.3,683.0 371.2,683.0 373.1,683.4 375.0,684.2 376.8,686.0 378.8,685.3 380.7,685.9 382.5,687.7 384.4,688.6 386.4,688.3 388.2,690.0 390.1,690.4 392.1,690.0 393.9,691.8 396.0,691.1 397.8,692.3 399.7,693.0 401.7,692.9 403.6,693.5 405.5,694.3 407.4,695.0 409.2,696.2 411.2,696.1 413.1,697.2 415.0,697.7 417.0,698.3 419.0,697.9 421.0,699.6 422.9,700.4 425.0,699.9 427.0,701.3 429.0,701.7 431.1,701.0 433.1,701.9 435.1,701.8 437.1,702.1 439.1,702.7 441.1,704.2 443.2,703.5 445.1,704.8 447.2,704.2 449.2,704.6 451.2,705.2 453.3,705.5 455.3,705.7 457.2,707.5 459.3,706.9 461.4,706.6 463.4,707.2 465.4,707.8 467.4,708.7 469.4,708.9 471.5,708.5 473.5,708.6 475.5,710.0 477.5,709.5 479.5,709.6 481.5,710.6 483.5,711.4 485.6,710.8 487.5,712.2 489.6,711.8 491.6,711.4 493.6,712.3 495.6,712.3 497.6,712.5 499.6,712.8 501.7,712.3 503.7,713.0 505.7,712.6 507.7,713.9 509.7,714.7 511.7,714.9 513.8,713.5 515.8,714.0 517.8,714.6 519.8,714.1 521.8,715.3 523.9,715.0 525.9,714.9 527.9,715.8 529.9,715.2 531.9,716.0 533.9,715.8 536.0,716.3 538.0,715.8 540.0,716.5 542.0,715.8 544.0,715.7 546.0,717.4 548.1,716.4 550.1,717.7 552.1,717.3 554.1,716.3 556.1,716.8 558.1,716.6 560.2,716.7 562.2,718.2 564.2,718.2 566.2,717.5 568.2,718.3 570.2,717.8 572.2,718.5 574.3,717.2 576.3,718.0 578.3,717.4 580.3,717.9 582.3,717.3 584.4,717.4 586.4,718.4 588.4,718.6 590.4,717.8 592.4,718.4 594.4,718.5 596.5,717.7 598.5,718.9 600.5,717.8 602.5,717.5 604.5,717.5 606.5,717.5 608.5,718.1 610.6,718.9 612.6,718.5 614.6,718.9 616.6,718.6 618.6,718.7 620.6,719.2 622.7,718.9 624.7,718.6 626.7,718.9 628.7,718.8 630.7,718.8 632.7,717.6 634.8,718.9 636.8,718.0 638.8,719.0 640.8,718.8 642.8,718.2 644.8,718.8 646.9,718.2 648.9,718.4 650.9,718.2 652.9,717.9 654.9,717.5 656.9,718.7 659.0,717.9 661.0,719.1 663.0,717.9 665.0,717.7 667.0,718.1 669.0,718.8 671.0,718.3 673.1,719.2 675.1,717.7 677.1,718.5 679.1,717.6 681.1,719.0 683.1,718.3 685.2,718.4 687.2,717.8 689.2,719.1 691.2,718.4 693.2,719.0 695.2,718.2 697.3,718.0 699.3,718.4 701.3,718.7 703.3,717.8 705.3,718.7 707.3,718.9 709.4,719.4 711.4,719.3 713.4,718.8 715.4,718.3 717.4,719.5 719.4,718.4 721.5,718.6 723.5,720.0 725.5,719.7 727.5,719.6 729.5,719.4 731.6,718.6 733.6,720.4 735.7,720.5 737.8,720.5 740.0,719.3 742.1,720.5 744.2,720.6 746.4,720.0 748.5,720.3 750.7,720.6 752.8,721.4 755.0,720.5 757.1,720.2 759.2,720.6 761.4,720.7 763.4,721.8 765.5,721.6 767.6,722.3 769.6,722.2 771.7,722.4 773.7,721.6 775.6,721.7 777.6,721.3 779.5,722.7 781.3,722.3 783.2,721.9 784.9,721.9 786.7,722.3 788.4,723.1 790.0,723.5 792.3,723.4 794.4,722.4 796.4,723.9 798.3,723.6 800.1,723.6 801.9,722.9 803.6,724.0 805.4,724.7 807.2,724.2 809.1,724.2 811.1,724.7 813.2,724.9 815.5,724.8 818.0,724.5 819.4,725.4 820.9,724.6 822.5,724.4 824.1,723.8 825.8,724.9 827.6,724.5 829.4,725.6 831.2,724.3 833.2,724.2 835.1,725.6 837.1,725.8 839.2,725.0 841.3,724.3 843.4,724.7 845.6,724.9 847.8,725.8 850.0,724.4 852.2,725.0 854.5,726.2 856.8,725.0 859.1,725.3 861.4,725.1 863.7,725.7 866.0,724.7 868.3,724.9 870.6,725.0 873.0,725.8 875.3,725.9 877.6,724.9 879.8,726.2 882.1,726.2 884.4,726.3 886.6,725.2 888.8,725.5 891.0,725.6 893.1,726.7 895.2,725.9 897.3,726.7 899.3,726.6 901.3,726.8 903.2,725.4 905.1,725.7 906.9,725.6 908.7,726.0 910.4,726.3 912.1,726.3 913.7,726.2 915.2,727.1 916.6,726.7 918.0,727.3 920.7,725.8 923.1,726.1 925.3,726.2 927.4,726.5 929.4,726.2 931.2,727.3 933.1,727.3 934.9,727.1 936.8,727.8 938.7,727.4 940.8,728.2 943.0,727.5 944.9,726.9 946.8,727.6 948.8,726.8 950.8,727.0 952.9,728.1 954.9,727.6 957.0,727.8 959.1,727.9 961.3,727.8 963.4,728.0 965.6,727.3 967.7,727.3 969.9,728.6 972.0,727.8 974.2,728.2 976.3,727.9 978.4,727.8 980.5,728.3 982.6,727.8 984.7,728.0 986.8,727.4 989.0,728.1 991.1,728.1 993.3,727.9 995.4,727.3 997.6,728.5 999.7,728.3 1001.9,727.9 1004.0,727.4 1006.1,728.2 1008.1,727.0 1010.2,727.1 1012.2,727.8 1014.2,728.1 1016.1,727.6 1018.0,726.6 1020.3,726.8 1022.5,726.6 1024.6,727.0 1026.8,727.2 1028.8,727.7 1030.9,727.4 1032.9,726.4 1034.9,726.7 1037.0,725.9 1039.0,727.0 1041.0,725.8 1043.0,726.5 1045.1,726.5 1047.4,726.1 1049.6,725.8 1051.9,725.8 1054.1,725.6 1056.3,726.9 1058.4,725.9 1060.4,726.8 1062.3,726.9 1064.0,725.5 1065.4,725.0 1067.6,724.0 1069.6,723.8 1071.8,722.5 1073.4,723.1 1075.1,722.1 1077.1,722.4 1079.2,721.9 1081.4,722.5 1083.7,721.6 1086.1,722.1 1088.4,721.5 1090.7,721.6 1093.0,722.4 1095.0,722.3 1097.1,722.5 1099.1,721.2 1101.2,721.1 1103.3,722.2 1105.4,721.1 1107.5,721.2 1109.6,720.5 1111.7,720.4 1113.8,721.0 1115.9,720.9 1118.0,720.5 1120.1,720.4 1122.2,719.9 1124.3,720.4 1126.3,719.8 1128.4,719.4 1130.5,719.9 1132.6,719.3 1134.7,719.2 1136.8,719.5 1138.8,718.5 1140.9,717.9 1143.0,719.1 1145.1,719.0 1147.3,718.5 1149.4,717.3 1151.6,717.5 1153.8,717.8 1155.9,716.2 1158.1,717.1 1160.2,716.5 1162.3,716.4 1164.2,715.8 1166.2,716.6 1168.0,715.8 1170.6,716.3 1173.0,715.7 1175.3,715.6 1177.5,715.7 1179.7,714.2 1181.9,714.9 1184.0,713.5 1186.0,713.6 1188.0,712.9 1190.3,713.4 1193.0,712.6 1194.4,713.1 1195.8,712.0 1197.3,712.4 1199.0,711.3 1200.7,711.0 1202.5,712.2 1204.4,711.3 1206.4,711.8 1208.4,710.8 1210.4,710.5 1212.5,710.2 1214.7,709.7 1216.9,710.7 1219.1,710.7 1221.3,710.0 1223.5,709.6 1225.8,709.6 1228.0,709.3 1230.2,708.8 1232.5,709.3 1234.6,708.6 1236.8,708.3 1238.9,708.1 1240.9,707.0 1243.0,706.8 1245.0,707.6 1247.1,707.7 1249.2,707.0 1251.2,705.6 1253.3,706.1 1255.4,705.6 1257.5,705.3 1259.6,704.2 1261.8,704.8 1263.9,704.3 1265.9,703.0 1268.1,703.7 1270.1,702.3 1272.2,701.5 1274.3,702.3 1276.3,701.9 1278.3,700.8 1280.3,701.2 1282.2,700.3 1284.1,699.3 1286.0,698.8 1287.8,698.8 1289.5,697.7 1291.4,698.4 1293.0,697.3 1295.4,697.5 1297.7,697.3 1299.9,696.2 1301.9,694.9 1303.9,694.3 1305.9,693.8 1308.0,694.7 1309.9,692.8 1311.9,692.8 1313.9,692.1 1315.9,691.6 1317.9,690.6 1320.0,691.0 1322.0,689.5 1324.1,689.1 1326.2,687.6 1328.5,688.2 1330.4,686.1 1332.6,685.5 1334.8,685.4 1336.9,685.2 1338.9,684.1 1340.6,682.0 1342.6,681.9 1344.4,681.8 1346.0,680.6 1348.3,678.8 1350.7,679.3 1352.8,678.5 1354.8,677.4 1356.7,676.5 1358.5,675.1 1360.7,673.3 1362.9,673.0 1364.9,671.3 1367.1,670.2 1368.8,669.4 1370.6,668.8 1372.3,667.0 1374.3,666.8 1376.0,665.2 1377.8,663.8 1379.6,663.1 1380.9,660.9 1382.8,659.4 1384.5,657.8 1386.3,657.0 1388.0,655.7 1389.9,654.4 1391.3,652.2 1393.3,652.2 1395.0,650.6 1396.7,649.2 1398.6,648.1 1400.6,647.8 1402.2,645.9 1404.3,645.7 1406.1,643.6 1408.2,643.2 1410.1,642.5 1411.9,641.1 1413.6,640.5 1415.3,638.1 1416.5,635.5 1418.4,634.6 1419.8,632.7 1421.7,630.8 1424.0,630.8 1425.9,629.5 1427.5,628.9 1428.8,627.1 1429.9,625.3 1431.0,623.8 1432.5,622.4 1433.5,619.9 1434.4,618.5 1435.5,616.9 1436.4,614.9 1437.4,613.0 1438.4,610.9 1440.3,609.3 1442.6,609.1 1444.6,606.9 1446.4,606.7 1447.8,604.9 1449.0,602.4 1450.6,601.1 1452.2,599.6 1454.0,597.9 1455.9,596.9 1457.8,595.8 1459.9,595.7 1461.4,593.6 1463.0,592.0 1464.5,590.2 1466.1,589.1 1467.4,587.0 1468.5,584.7 1470.0,583.3 1470.8,580.8 1472.4,579.3 1473.7,577.5 1474.8,575.1 1475.7,573.3 1476.4,571.3 1477.1,569.2 1478.0,567.3 1478.6,565.2 1479.4,563.2 1480.1,561.2 1480.9,559.2 1481.6,557.1 1482.2,555.0 1483.2,553.2 1483.5,550.7 1484.4,548.8 1485.2,546.9 1486.0,545.0 1486.8,542.6 1487.8,540.4 1489.0,538.6 1489.7,536.2 1490.7,534.3 1491.0,531.9 1491.8,529.9 1492.2,527.5 1492.7,525.5 1493.2,523.5 1493.3,521.1 1494.2,519.3 1494.2,516.9 1494.7,514.9 1495.1,512.9 1495.8,511.0 1495.8,508.7 1496.5,507.0 1496.4,504.9 1496.8,502.3 1497.2,499.9 1497.8,498.0 1499.8,497.3 1500.8,497.2 1502.8,498.8 1504.6,501.2 1506.6,501.5 1508.5,502.9 1510.1,504.2 1512.1,503.5 1514.3,503.1 1516.7,503.6 1518.9,503.2 1521.0,502.5 1523.1,502.8 1525.2,502.1 1527.2,502.4 1529.1,502.9 1531.0,503.1 1533.0,502.5 1534.7,500.8 1536.6,500.7 1538.5,499.4 1540.4,498.6 1542.4,498.0 1544.5,497.3 1546.4,495.4 1548.5,494.5 1550.5,494.9 1552.7,495.2 1554.7,493.6 1556.7,495.1 1558.5,494.5 1561.1,492.8 1563.5,492.4 1566.0,493.5 1568.5,493.6 1570.6,494.6 1572.6,496.6 1574.7,497.7 1576.3,498.9 1577.5,501.2 1579.0,502.1 1579.9,503.6 1580.1,506.2 1580.9,507.7 1581.7,510.3 1582.7,512.7 1583.7,515.0 1584.6,517.0 1585.1,519.2 1585.8,521.3 1586.2,523.8 1586.7,525.9 1587.6,527.7 1588.1,530.2 1588.9,532.2 1589.6,534.2 1589.8,536.4 1590.5,538.8 1591.0,541.1 1591.2,543.8 1591.8,546.0 1592.7,548.4 1593.4,551.0 1594.6,552.8 1595.1,554.9 1595.2,557.5 1595.4,560.1 1595.7,561.8 1596.4,563.7 1596.9,565.8 1597.5,568.0 1597.9,570.4 1598.3,572.8 1598.6,575.1 1599.3,577.1 1599.7,579.4 1600.1,581.7 1600.8,583.7 1601.3,585.9 1601.7,588.1 1602.4,590.1 1602.9,592.4 1603.6,594.4 1604.2,596.5 1604.8,598.6 1605.5,600.7 1606.0,602.8 1606.9,604.7 1607.7,606.6 1608.5,608.6 1609.2,610.6 1610.2,612.2 1610.8,614.9 1611.8,617.0 1612.6,619.3 1613.6,621.5 1614.3,623.5 1615.1,625.5 1616.2,627.3 1616.8,629.3 1617.4,631.4 1618.4,633.3 1619.2,635.4 1620.1,637.4 1620.7,639.2 1620.8,641.4 1621.4,643.4 1622.0,645.4 1622.3,647.7 1623.2,649.5 1623.4,652.0 1623.9,654.3 1623.9,656.9 1624.5,659.1 1624.9,661.3 1625.4,663.9 1626.0,666.3 1626.8,668.4 1627.6,670.6 1628.2,672.8 1629.2,674.6 1629.8,676.9 1630.4,679.3 1631.1,681.4 1631.5,683.5 1632.0,685.5 1632.7,687.4 1632.7,689.8 1633.4,691.7 1633.6,693.9 1634.5,696.2 1635.5,698.3 1636.3,700.6 1637.4,702.7 1638.1,704.7 1639.0,706.4 1639.8,708.5 1640.4,710.6 1641.1,712.7 1642.0,715.0 1643.1,717.0 1644.0,719.2 1645.1,721.1 1646.1,723.2 1646.9,725.7 1647.8,728.0 1648.7,730.0 1649.4,732.4 1650.2,734.4 1651.1,736.4 1652.4,738.4 1653.5,740.7 1655.1,742.4 1656.1,743.9 1656.9,745.9 1658.0,747.7 1659.0,749.4 1659.8,751.6 1661.2,753.2 1662.5,755.1 1663.8,756.8 1665.1,758.4 1666.0,760.9 1667.6,761.5 1668.8,763.0 1669.9,765.3 1671.5,767.0 1673.1,768.7 1674.6,770.8 1676.2,772.7 1677.7,774.4 1679.4,775.5 1680.8,777.6 1682.5,778.7 1684.1,779.7 1685.5,781.4 1687.1,782.4 1688.9,783.0 1691.2,784.4 1693.7,784.9 1696.2,786.3 1698.4,786.5 1700.5,787.9 1702.8,787.9 1705.0,789.3 1707.0,789.5 1709.1,789.8 1711.1,791.4 1713.3,791.8 1715.5,791.8 1717.5,793.5 1719.6,793.9 1721.7,794.1 1723.8,794.6 1725.8,795.9 1727.9,796.3 1730.0,796.9 1732.1,797.6 1734.1,798.3 1736.3,798.3 1738.3,798.8 1740.4,799.5 1742.5,800.3 1744.5,800.9 1746.7,800.9 1748.7,801.2 1750.8,801.7 1753.0,801.4 1755.0,801.9 1757.0,803.5 1759.2,803.2 1761.2,804.3 1763.3,804.3 1765.4,803.7 1767.5,803.6 1769.6,805.2 1771.7,804.6 1773.7,805.5 1775.8,804.8 1777.9,805.1 1780.0,806.1 1782.1,806.5 1784.1,806.4 1786.2,805.8 1788.3,805.9 1790.4,806.1 1792.5,807.5 1794.8,806.4 1797.6,807.3 1800.4,806.6 1803.1,808.2 1805.3,808.4 1806.9,808.3 1807.5,807.9"/>
</g>
<g fill="none" stroke="#00ff00" stroke-width="1" stroke-linejoin="round" shape-rendering="crispEdges" filter="url(#pen)" transform="translate(-0.5 -0.5)">
<path d="M293.8,483.8 293.8,484.3 294.2,483.6 294.7,484.0 295.3,484.8 296.2,485.3 297.2,485.8 298.4,486.9 299.7,487.6 301.3,487.9 302.7,489.5 304.7,489.2 306.3,491.4 308.2,492.3 310.3,493.3 312.5,493.7 314.6,494.8 316.8,496.4 319.2,497.1 321.4,498.8 323.6,500.7 326.0,501.9 328.4,503.4 330.9,503.8 333.2,505.6 335.5,506.9 337.9,508.0 340.2,508.9 342.4,510.2 344.5,512.1 346.7,512.8 348.6,514.7 350.7,514.9 352.4,517.0 354.1,517.6 355.9,518.3 357.8,518.4 359.4,520.2 361.2,520.5 362.7,522.6 364.6,523.1 366.2,524.4 368.0,525.1 369.8,526.0 371.5,527.1 373.1,528.5 375.0,529.0 376.5,530.9 378.4,531.0 380.1,532.2 381.9,532.9 383.6,534.6 385.2,536.0 387.0,536.6 388.7,538.3 390.5,539.1 392.4,539.0 394.1,540.1 395.7,542.0 397.5,542.5 399.3,543.6 400.9,545.4 402.7,546.1 404.4,547.3 406.3,547.1 407.9,549.0 409.8,549.6 411.5,550.3 413.3,551.5 415.0,552.4 416.8,553.3 418.5,554.9 420.3,556.0 422.3,556.0 424.0,557.5 425.9,558.4 427.7,559.6 429.6,559.5 431.3,561.2 433.3,561.1 435.1,562.1 436.9,563.7 438.7,564.8 440.6,565.1 442.3,566.9 444.2,567.2 446.0,568.3 447.9,568.6 449.8,568.8 451.5,570.8 453.5,570.6 455.3,572.1 457.1,573.0 459.0,573.4 460.9,573.7 462.7,574.8 464.5,576.2 466.3,577.1 468.2,578.0 470.1,578.1 471.8,579.7 473.7,580.2 475.6,581.3 477.5,581.1 479.5,581.3 481.4,581.9 483.4,582.6 485.3,583.7 487.1,585.6 489.1,585.4 491.1,585.5 493.0,587.2 495.0,587.3 496.8,588.8 498.8,589.3 500.7,589.9 502.7,590.4 504.6,591.5 506.6,591.5 508.6,591.8 510.5,593.0 512.5,593.4 514.5,593.2 516.4,594.4 518.4,594.8 520.4,594.7 522.3,595.6 524.3,595.6 526.3,596.2 528.2,597.0 530.1,598.9 532.1,599.3 534.1,598.8 536.1,598.8 538.0,599.9 540.0,600.3 542.0,601.4 544.0,600.8 546.1,601.2 548.0,602.3 550.1,601.9 552.1,602.3 554.1,603.1 556.0,604.2 558.0,604.7 560.1,604.4 562.1,604.3 564.1,605.9 566.1,606.0 568.2,605.4 570.1,607.2 572.2,606.5 574.2,606.9 576.2,607.5 578.2,607.7 580.3,607.4 582.3,608.3 584.3,608.5 586.3,608.5 588.3,609.6 590.4,609.1 592.4,610.0 594.4,609.5 596.5,609.2 598.4,611.0 600.5,610.5 602.5,610.7 604.5,610.1 606.5,611.0 608.6,610.7 610.5,611.6 612.5,612.7 614.6,611.4 616.6,612.0 618.6,612.8 620.6,612.7 622.6,612.9 624.7,612.6 626.7,612.3 628.7,613.5 630.7,613.5 632.7,612.9 634.7,613.1 636.8,613.4 638.8,613.1 640.8,614.6 642.8,613.3 644.8,614.0 646.8,614.6 648.9,613.8 650.9,613.9 652.9,614.2 654.9,615.4 656.9,614.7 658.9,614.6 661.0,614.7 663.0,614.6 665.0,614.3 667.0,614.9 669.0,615.8 671.1,614.5 673.1,616.0 675.1,615.8 677.1,615.8 679.1,615.7 681.1,615.0 683.1,616.3 685.2,616.0 687.2,616.1 689.2,616.4 691.2,614.9 693.2,615.1 695.2,614.8 697.3,615.7 699.3,615.4 701.3,616.6 703.3,616.0 705.3,615.6 707.3,616.0 709.4,616.1 711.4,616.2 713.4,616.3 715.4,615.2 717.4,615.3 719.4,615.7 721.5,615.4 723.5,616.1 725.5,615.2 727.5,615.1 729.5,615.9 731.6,616.5 733.7,615.2 735.7,615.2 737.9,616.1 740.0,615.4 742.1,615.9 744.2,615.4 746.4,615.1 748.5,616.5 750.7,614.9 752.8,615.6 755.0,614.9 757.1,615.7 759.2,615.1 761.4,615.3 763.5,615.9 765.5,615.1 767.6,614.7 769.7,615.4 771.7,615.8 773.7,614.6 775.6,615.7 777.6,615.6 779.5,615.3 781.3,615.5 783.1,614.5 784.9,615.1 786.7,614.4 788.4,615.8 790.0,614.7 792.3,614.9 794.5,615.4 796.7,614.1 798.7,615.5 800.6,614.2 802.6,614.8 804.4,613.9 806.3,614.9 808.2,615.4 810.0,614.2 811.9,615.5 813.9,615.0 815.9,615.2 818.0,615.3 820.0,614.2 822.1,613.6 824.4,613.8 826.7,615.1 829.1,614.1 831.5,613.9 834.0,614.5 836.4,614.3 838.9,615.2 841.2,615.1 843.5,614.3 845.7,615.2 847.8,613.4 849.7,614.9 851.5,614.1 853.0,613.2 854.4,614.2 855.5,613.6 859.3,612.7 860.8,611.8 861.9,609.2 863.2,607.4 864.4,605.2 864.7,603.4 864.7,601.4 864.9,599.4 865.3,597.2 865.0,594.9 865.3,592.6 865.5,590.3 865.3,588.0 865.4,585.9 865.7,584.0 866.4,582.7 867.5,580.7 868.8,578.9 870.0,576.9 871.3,575.1 871.7,573.4 871.9,571.5 872.0,569.5 872.5,567.4 872.7,565.1 872.4,562.7 872.6,560.5 872.8,558.3 872.9,556.1 873.4,554.3 873.3,552.4 874.3,549.4 875.4,546.3 876.1,543.9 876.7,543.0 877.2,543.9 878.4,545.0 880.0,546.9 881.8,548.6 882.8,551.7 883.8,553.4 884.9,554.9 886.0,556.7 886.8,558.9 887.6,561.3 888.6,563.3 889.3,565.8 890.6,567.4 891.6,569.2 892.1,571.7 893.3,573.2 894.0,575.4 895.1,577.0 896.0,578.8 896.7,581.1 898.0,582.4 899.2,584.1 900.5,585.9 901.7,587.7 903.5,588.0 904.8,590.1 906.3,591.6 907.9,593.1 909.6,594.1 911.4,594.3 913.1,596.1 915.1,596.6 917.0,597.0 919.0,598.1 920.9,599.5 922.9,600.7 924.9,599.8 926.7,602.1 928.6,602.8 930.7,602.0 932.6,603.3 934.6,603.8 936.7,604.5 938.8,603.6 940.9,603.8 943.0,604.2 945.0,605.1 947.0,606.2 949.0,605.0 951.1,605.9 953.2,605.1 955.3,605.7 957.4,605.1 959.6,605.1 961.7,605.6 963.8,605.1 965.9,605.6 968.0,604.1 970.1,605.0 972.2,604.1 974.3,604.9 976.3,605.0 978.4,604.0 980.5,603.8 982.6,603.1 984.7,603.2 986.7,603.1 988.8,603.2 990.9,603.1 993.0,603.9 995.1,603.9 997.2,602.7 999.2,603.3 1001.3,603.7 1003.4,603.1 1005.5,603.2 1007.6,602.3 1009.7,603.1 1011.8,602.4 1013.8,603.7 1015.9,602.9 1018.0,602.5 1020.1,603.1 1022.2,603.6 1024.2,603.9 1026.3,604.4 1028.4,604.0 1030.5,604.5 1032.6,603.4 1034.7,604.7 1036.7,604.6 1038.8,604.3 1040.9,605.3 1043.0,604.5 1045.1,605.1 1047.2,604.7 1049.3,605.5 1051.3,605.9 1053.4,606.6 1055.5,606.3 1057.6,606.3 1059.7,606.1 1061.8,607.2 1063.8,607.2 1066.0,606.3 1068.0,607.7 1070.1,608.1 1072.2,607.9 1074.2,608.4 1076.2,609.6 1078.2,610.3 1080.3,610.0 1082.3,610.6 1084.2,612.5 1086.4,612.7 1088.5,614.2 1090.7,614.1 1093.0,614.1 1094.8,614.7 1096.6,615.8 1098.4,616.3 1100.4,615.4 1102.3,616.1 1104.3,616.6 1106.2,618.1 1108.2,618.1 1110.2,618.3 1112.3,617.6 1114.3,618.1 1116.3,619.6 1118.4,619.3 1120.4,619.6 1122.5,619.7 1124.5,620.8 1126.5,621.4 1128.5,621.4 1130.5,621.9 1132.6,621.3 1134.6,622.2 1136.7,622.6 1138.8,623.2 1140.9,622.2 1143.0,622.6 1145.1,623.0 1147.2,623.1 1149.2,623.6 1151.3,624.9 1153.4,624.5 1155.5,624.5 1157.6,623.9 1159.6,625.4 1161.7,625.3 1163.8,624.6 1165.9,624.9 1168.0,626.4 1170.1,626.0 1172.3,626.6 1174.5,626.8 1176.7,626.8 1179.0,626.2 1181.2,627.4 1183.5,627.2 1185.7,627.7 1188.0,627.8 1190.2,627.3 1192.4,627.7 1194.5,626.7 1196.5,627.2 1198.5,628.2 1200.4,628.2 1202.2,627.4 1203.9,627.4 1205.5,627.5 1207.9,626.8 1210.0,627.3 1211.9,626.9 1213.8,626.9 1215.8,627.5 1218.0,626.4 1219.8,627.5 1221.7,627.1 1223.6,625.4 1225.8,626.7 1227.8,625.3 1230.0,624.6 1232.2,624.4 1234.3,623.8 1236.6,624.7 1238.8,623.9 1240.9,623.0 1243.0,622.5 1245.0,622.5 1246.8,620.7 1248.8,620.7 1250.7,619.8 1252.6,619.7 1254.6,619.9 1256.5,619.0 1258.4,617.5 1260.4,618.3 1262.3,617.0 1264.1,615.9 1266.1,615.5 1268.1,615.7 1269.9,613.6 1272.0,614.4 1273.9,613.6 1275.7,612.1 1277.6,611.3 1279.5,610.0 1281.5,609.8 1283.4,609.2 1285.3,608.1 1287.2,607.0 1289.2,607.1 1291.1,606.4 1293.0,605.0 1294.9,603.7 1296.8,603.4 1298.8,603.4 1300.7,602.5 1302.5,600.9 1304.4,599.8 1306.5,600.5 1308.4,599.7 1310.1,597.5 1312.2,597.5 1314.0,596.3 1316.1,596.1 1317.9,594.5 1319.8,594.1 1321.8,593.8 1323.7,592.0 1325.8,592.1 1327.8,591.0 1329.9,590.5 1331.9,589.9 1333.9,588.9 1335.9,588.3 1337.6,586.0 1339.6,586.4 1341.3,584.7 1342.9,583.9 1344.5,583.1 1346.1,583.1 1348.3,581.1 1350.5,580.9 1352.1,578.9 1354.0,577.7 1355.9,575.6 1357.6,575.3 1359.1,573.8 1360.9,573.3 1362.6,572.3 1364.3,571.0 1366.1,570.0 1367.7,568.5 1369.5,567.9 1371.0,566.4 1372.5,564.6 1374.1,563.1 1375.8,562.5 1377.1,560.4 1378.7,559.6 1380.2,558.2 1381.9,557.4 1383.4,555.0 1385.5,555.3 1387.6,554.5 1389.7,552.8 1392.0,553.4 1394.1,552.7 1396.1,551.3 1398.0,550.5 1399.9,551.4 1402.0,548.5 1404.0,547.0 1405.9,545.9 1408.4,544.1 1410.9,542.9 1413.1,543.4 1415.2,542.2 1417.2,541.6 1419.8,542.5 1422.2,543.2 1424.2,544.7 1426.3,546.1 1428.7,546.8 1430.3,549.4 1432.4,550.4 1434.5,551.4 1436.0,553.8 1437.3,555.0 1438.1,557.2 1438.9,559.0 1439.9,560.8 1441.1,562.3 1442.0,564.2 1442.9,566.2 1444.1,567.8 1445.0,569.9 1446.4,571.3 1447.4,573.3 1448.5,574.9 1449.8,576.8 1451.2,578.5 1452.5,580.5 1453.6,582.6 1455.0,584.0 1456.0,586.3 1456.9,588.6 1458.3,590.1 1458.8,592.7 1460.2,594.0 1460.8,596.6 1462.3,597.9 1463.3,600.3 1464.5,602.4 1465.9,604.0 1467.6,605.4 1469.1,607.5 1470.6,609.7 1472.3,611.2 1473.7,612.9 1475.4,613.3 1476.7,615.7 1478.6,616.0 1480.3,617.7 1482.2,618.7 1484.0,620.7 1485.9,622.0 1488.5,622.2 1491.0,623.0 1493.5,622.8 1495.9,622.7 1498.4,623.1 1501.0,622.7 1503.2,622.9 1505.4,622.1 1507.7,620.5 1510.1,621.2 1512.2,619.9 1514.5,620.5 1516.7,620.8 1518.8,621.5 1521.0,620.7 1522.9,621.5 1524.8,622.7 1526.8,622.4 1528.8,623.7 1531.1,623.0 1533.0,623.7 1534.9,625.7 1537.1,626.5 1539.3,626.6 1541.5,627.4 1543.7,628.8 1546.0,628.3 1548.0,628.9 1550.0,630.5 1552.0,631.2 1554.2,630.7 1556.3,631.1 1558.4,632.0 1560.6,631.7 1562.6,632.7 1564.7,634.0 1566.9,632.7 1568.9,633.6 1570.9,634.1 1573.0,633.9 1575.0,634.1 1577.0,635.8 1579.1,636.0 1581.3,635.4 1583.5,635.2 1585.4,636.3 1587.3,636.3 1589.3,636.6 1591.3,636.0 1593.2,637.4 1595.3,638.0 1597.3,637.3 1599.4,637.4 1601.4,638.0 1603.5,637.0 1605.5,637.4 1607.5,637.8 1609.6,638.1 1611.6,639.1 1613.7,638.1 1615.8,638.5 1617.9,639.2 1620.0,639.2 1622.1,639.2 1624.1,639.2 1626.2,639.1 1628.3,638.4 1630.4,639.4 1632.5,638.6 1634.6,640.1 1636.7,640.0 1638.7,640.4 1640.8,639.2 1642.9,639.2 1645.0,639.1 1647.1,639.9 1649.2,639.7 1651.2,640.8 1653.3,640.3 1655.4,640.8 1657.5,640.3 1659.6,641.3 1661.7,640.2 1663.7,641.9 1665.8,641.8 1667.9,641.8 1670.0,640.7 1672.1,641.0 1674.2,642.2 1676.3,641.1 1678.3,641.4 1680.4,642.3 1682.5,642.4 1684.6,641.5 1686.7,641.8 1688.8,641.7 1690.8,642.3 1692.9,643.2 1695.0,643.2 1697.1,643.0 1699.2,641.8 1701.2,643.3 1703.3,642.0 1705.4,643.0 1707.5,642.8 1709.6,642.1 1711.7,642.3 1713.9,643.7 1716.0,643.5 1718.2,642.9 1720.3,643.2 1722.4,642.6 1724.5,643.6 1726.6,643.5 1728.6,643.8 1730.6,644.1 1732.5,643.9 1735.0,643.4 1737.7,643.1 1740.5,644.2 1743.3,644.1 1745.7,644.0 1747.6,644.6 1748.9,643.9 1749.4,644.0"/>
<path d="M293.8,537.5 293.8,538.0 294.1,538.1 294.6,538.1 295.5,537.8 296.3,538.7 297.2,540.0 298.5,540.0 299.7,541.3 301.3,541.1 302.9,542.4 304.6,543.5 306.4,544.6 308.2,546.0 310.2,547.3 312.4,547.8 314.6,548.8 316.9,549.8 319.2,550.9 321.5,552.3 323.9,553.2 326.0,556.0 328.4,556.9 330.9,557.5 333.2,559.2 335.5,560.6 338.0,561.1 340.2,562.9 342.4,564.3 344.5,566.0 346.8,566.0 348.6,568.4 350.7,568.4 352.6,569.3 354.2,571.1 356.0,571.4 357.7,572.5 359.3,574.4 361.2,574.2 362.7,576.7 364.7,576.2 366.2,578.3 368.1,578.3 369.7,580.2 371.4,581.4 373.1,582.8 374.9,583.1 376.7,583.9 378.4,585.0 380.1,586.0 381.9,586.8 383.6,588.2 385.3,589.6 387.0,590.4 388.7,591.8 390.6,592.0 392.2,593.9 394.0,594.6 395.6,596.1 397.4,596.9 399.2,597.6 401.0,598.2 402.8,599.4 404.6,599.9 406.3,600.9 408.0,602.6 409.8,602.8 411.6,603.7 413.2,605.9 415.1,605.9 416.7,608.0 418.6,608.4 420.3,609.9 422.2,610.8 424.0,611.6 426.0,611.9 427.7,613.4 429.6,613.6 431.5,614.2 433.4,615.0 435.2,615.8 436.8,618.2 438.9,617.7 440.6,618.9 442.4,620.6 444.4,620.3 446.1,622.1 448.0,622.7 449.8,623.8 451.5,625.4 453.6,624.8 455.3,626.5 457.1,627.7 459.1,627.5 460.8,629.2 462.7,630.0 464.6,629.9 466.4,631.4 468.2,632.4 470.1,632.9 471.9,634.1 473.9,634.1 475.6,635.8 477.5,636.1 479.3,637.7 481.3,637.2 483.2,638.2 485.0,639.6 486.9,640.2 488.7,641.6 490.6,642.5 492.5,642.8 494.5,642.8 496.4,643.8 498.2,645.3 500.0,646.4 502.1,645.6 503.8,647.7 505.8,647.6 507.7,648.4 509.6,649.3 511.5,649.7 513.3,651.4 515.3,650.7 517.1,652.6 519.0,653.1 521.0,652.7 522.9,654.0 524.8,654.6 526.6,656.4 528.6,655.7 530.4,657.6 532.4,657.2 534.3,658.1 536.2,658.9 538.1,659.3 539.9,660.8 542.0,660.0 543.8,661.6 545.8,661.7 547.7,662.4 549.7,662.7 551.7,662.8 553.6,664.5 555.5,665.2 557.5,664.6 559.4,666.5 561.4,666.1 563.4,666.1 565.3,666.6 567.2,668.2 569.2,667.8 571.2,668.6 573.1,668.6 575.1,669.2 577.0,670.0 579.0,670.6 581.0,670.7 582.9,671.5 584.8,672.7 586.8,672.5 588.8,673.1 590.8,672.9 592.7,673.5 594.6,674.4 596.6,675.2 598.6,675.3 600.6,674.6 602.5,676.4 604.6,675.3 606.5,676.6 608.6,676.2 610.5,677.4 612.6,677.4 614.6,677.4 616.5,678.8 618.6,678.8 620.6,679.5 622.6,680.0 624.6,680.3 626.6,680.0 628.7,680.4 630.6,681.3 632.7,681.3 634.7,681.0 636.7,681.6 638.7,682.6 640.8,681.4 642.8,682.1 644.8,682.9 646.8,682.8 648.9,682.4 650.9,683.2 652.8,684.4 654.9,684.0 656.9,685.0 658.9,684.5 660.9,685.4 663.0,684.1 665.0,684.7 667.0,685.0 669.0,684.6 671.1,685.0 673.0,686.5 675.1,685.1 677.1,686.6 679.1,686.0 681.1,686.9 683.1,686.4 685.1,687.7 687.2,687.1 689.2,686.4 691.2,686.8 693.2,687.7 695.2,687.9 697.3,686.9 699.3,687.5 701.3,688.6 703.3,687.7 705.3,688.6 707.3,688.8 709.3,688.4 711.4,687.9 713.4,688.8 715.4,688.5 717.4,689.6 719.4,688.5 721.4,689.0 723.5,689.1 725.5,689.9 727.5,690.1 729.5,690.2 731.6,689.6 733.7,688.9 735.7,689.5 737.9,689.4 740.0,689.8 742.1,689.6 744.2,690.1 746.4,689.7 748.5,689.9 750.7,689.3 752.8,691.0 755.0,691.2 757.1,689.7 759.2,691.2 761.4,690.2 763.5,690.0 765.5,690.9 767.6,691.2 769.6,691.4 771.7,690.3 773.7,690.9 775.6,691.6 777.6,691.0 779.5,691.2 781.3,691.8 783.1,691.1 784.9,691.4 786.7,691.8 788.4,690.3 790.0,691.5 792.3,691.5 794.5,690.7 796.5,691.8 798.5,690.9 800.4,691.2 802.2,691.1 804.0,692.0 805.8,690.9 807.6,691.9 809.5,690.8 811.5,691.7 813.5,692.3 815.7,691.0 818.0,692.2 819.7,691.8 821.4,691.4 823.1,692.6 825.0,691.8 826.8,692.3 828.8,692.6 830.8,691.0 832.8,691.5 834.8,692.3 836.9,692.6 839.0,692.7 841.1,692.5 843.3,691.8 845.4,691.5 847.6,692.3 849.8,692.8 852.0,691.5 854.1,692.3 856.3,692.8 858.5,691.3 860.6,691.4 862.8,692.0 864.9,692.7 867.0,692.0 869.0,692.4 871.1,692.4 873.0,692.0 875.0,692.1 876.9,692.5 878.7,691.6 880.5,691.9 882.8,693.1 885.1,692.9 887.4,692.2 889.6,693.3 891.8,692.3 894.0,692.8 896.1,692.4 898.2,692.2 900.3,692.8 902.4,693.2 904.4,692.6 906.4,692.8 908.4,693.5 910.4,694.3 912.3,693.6 914.2,693.1 916.1,694.6 918.0,693.7 920.3,693.8 922.7,693.9 925.0,694.5 927.3,694.7 929.6,693.3 931.9,694.6 934.0,695.0 936.1,693.8 938.0,694.5 939.9,694.1 941.5,693.8 943.0,694.7 945.3,694.9 947.0,693.2 949.2,693.2 950.9,693.7 952.7,693.8 954.7,693.9 956.7,692.8 958.9,693.0 961.2,694.2 963.5,694.0 965.7,693.0 968.0,693.4 970.0,694.1 972.0,692.7 974.0,694.4 976.1,694.2 978.2,694.3 980.3,694.1 982.4,694.3 984.5,693.6 986.7,694.4 988.8,693.7 990.9,693.7 993.0,692.7 995.1,693.6 997.2,694.2 999.2,693.3 1001.3,693.7 1003.4,693.9 1005.5,692.9 1007.6,693.6 1009.7,692.4 1011.7,692.9 1013.8,693.9 1015.9,692.5 1018.0,693.6 1020.1,693.6 1022.3,692.9 1024.5,693.8 1026.7,693.8 1028.9,693.9 1031.0,692.2 1033.2,692.3 1035.3,692.7 1037.4,692.8 1039.3,692.5 1041.2,692.6 1043.0,692.8 1045.3,694.0 1047.3,692.6 1049.2,693.9 1051.2,693.4 1053.2,694.0 1055.5,694.1 1057.3,694.6 1059.2,694.3 1061.1,693.7 1063.2,693.8 1065.3,694.3 1067.5,693.3 1069.6,693.6 1071.8,694.0 1074.0,693.7 1076.2,693.8 1078.4,693.7 1080.5,694.0 1082.6,693.4 1084.7,694.3 1086.8,694.5 1088.8,694.1 1090.9,694.1 1093.0,693.1 1095.1,692.7 1097.2,692.6 1099.3,693.3 1101.3,693.0 1103.4,692.7 1105.5,692.4 1107.6,692.5 1109.7,691.9 1111.8,691.6 1113.9,692.1 1115.9,691.3 1118.0,691.0 1120.1,689.6 1122.2,690.0 1124.2,689.1 1126.4,690.2 1128.4,689.2 1130.5,687.9 1132.6,689.3 1134.6,687.4 1136.8,688.7 1138.8,687.6 1140.8,686.3 1143.0,687.2 1145.0,686.9 1147.1,687.0 1149.2,685.3 1151.3,685.3 1153.4,684.5 1155.5,684.5 1157.6,685.3 1159.6,683.9 1161.8,684.4 1163.9,683.1 1166.1,683.9 1168.3,683.9 1170.4,682.9 1172.5,681.7 1174.5,681.5 1176.5,681.6 1178.4,681.7 1180.2,681.8 1181.9,681.2 1184.3,681.1 1186.2,680.3 1188.1,679.7 1190.3,680.7 1193.0,680.6 1194.2,679.5 1195.6,680.5 1197.0,678.9 1198.6,679.9 1200.2,678.7 1201.9,679.0 1203.7,679.5 1205.6,679.4 1207.5,678.5 1209.4,678.0 1211.4,677.3 1213.5,677.9 1215.6,676.8 1217.8,676.6 1220.0,676.6 1222.2,676.3 1224.5,677.1 1226.8,677.1 1229.0,675.5 1231.3,675.4 1233.6,674.8 1235.9,675.1 1238.1,674.2 1240.4,674.4 1242.7,674.8 1244.9,673.1 1247.1,674.0 1249.3,674.0 1251.4,673.1 1253.5,672.8 1255.5,672.8 1257.5,671.8 1259.5,670.9 1261.4,669.9 1263.6,670.7 1265.6,670.5 1267.6,668.5 1269.7,669.0 1271.8,668.5 1273.9,667.7 1276.0,668.0 1278.0,666.9 1280.1,665.5 1282.1,665.1 1284.2,664.5 1286.3,664.1 1288.3,663.4 1290.4,663.5 1292.5,663.3 1294.5,662.6 1296.4,660.8 1298.4,661.2 1300.4,660.5 1302.3,660.2 1304.2,659.3 1306.0,658.7 1307.9,658.5 1309.7,658.4 1311.4,656.9 1313.1,656.3 1314.8,655.6 1316.4,655.1 1318.0,655.3 1320.3,653.4 1322.7,653.3 1325.0,652.8 1327.1,651.5 1329.3,651.8 1331.4,650.7 1333.5,650.7 1335.4,649.1 1337.3,648.9 1339.2,648.5 1340.9,647.4 1342.8,647.6 1344.3,645.9 1346.0,645.6 1348.4,645.4 1350.6,644.9 1352.5,643.1 1354.5,642.5 1356.5,642.0 1358.5,641.6 1360.6,640.4 1362.6,638.7 1364.7,637.9 1366.9,637.3 1369.0,636.6 1371.0,635.2 1372.9,634.4 1374.6,632.9 1376.3,631.6 1378.0,630.5 1379.7,628.8 1381.6,628.6 1383.4,626.7 1385.6,626.8 1387.8,626.4 1390.0,625.1 1392.2,624.6 1394.4,624.0 1396.5,622.9 1398.6,623.0 1400.7,621.3 1402.6,619.5 1404.7,619.0 1406.6,617.6 1408.5,616.1 1410.1,615.2 1411.4,613.0 1413.1,612.0 1414.5,610.5 1415.8,608.5 1417.3,607.6 1419.3,605.2 1421.6,605.1 1423.4,602.6 1424.7,601.2 1426.0,599.7 1427.5,598.6 1428.5,596.3 1429.5,594.3 1430.3,591.9 1431.0,589.5 1432.2,587.7 1433.6,586.6 1435.7,584.6 1438.4,584.5 1441.0,584.2 1443.0,583.3 1444.9,582.1 1446.7,580.6 1448.5,580.0 1449.6,578.3 1450.8,577.0 1451.9,575.3 1452.8,573.4 1453.3,570.9 1454.3,569.3 1454.9,567.0 1455.7,565.1 1456.4,563.1 1457.0,560.9 1458.5,559.8 1459.3,557.4 1460.9,556.8 1462.3,555.3 1464.2,554.1 1466.4,553.6 1468.7,553.0 1471.0,552.4 1473.0,551.8 1475.2,552.8 1477.4,552.3 1479.4,552.3 1481.0,551.7 1482.6,550.6 1483.7,548.6 1485.0,546.7 1486.2,544.8 1487.5,543.0 1488.9,541.1 1490.0,539.1 1490.7,536.8 1490.9,534.4 1491.7,532.4 1492.0,529.8 1492.7,527.6 1493.6,525.5 1494.4,523.3 1495.3,521.1 1496.0,518.8 1496.6,517.0 1496.8,514.8 1497.3,512.8 1498.1,511.1 1498.3,508.9 1498.9,507.1 1499.4,505.2 1499.7,503.0 1499.6,500.7 1499.9,498.6 1500.6,496.7 1500.8,494.6 1500.9,492.5 1501.3,490.5 1501.7,488.5 1501.9,486.4 1502.4,484.5 1502.6,482.3 1502.8,480.0 1503.2,478.1 1503.3,476.2 1503.5,474.1 1503.6,472.0 1503.7,469.8 1503.8,467.6 1503.9,465.3 1504.4,463.3 1504.8,461.2 1505.1,459.1 1505.4,456.9 1506.0,454.9 1506.6,452.8 1507.5,451.1 1507.9,448.6 1509.0,447.1 1509.6,445.0 1510.4,443.1 1510.9,440.8 1511.5,438.7 1512.3,436.9 1513.0,435.0 1513.9,433.3 1514.2,431.0 1515.0,429.1 1515.7,427.2 1516.2,425.1 1517.0,423.3 1517.6,421.1 1518.0,418.8 1518.9,417.1 1519.6,415.3 1520.0,413.2 1520.2,410.8 1520.8,408.8 1521.4,406.7 1521.7,404.5 1522.6,402.6 1522.9,400.4 1523.7,398.6 1524.1,396.4 1524.6,394.5 1525.1,392.6 1525.8,390.6 1525.9,388.2 1526.8,386.4 1526.9,384.1 1527.7,382.3 1527.8,380.0 1528.5,378.3 1529.1,376.4 1529.4,374.3 1530.1,372.6 1530.4,370.2 1531.2,368.3 1531.4,365.9 1532.3,364.1 1532.5,361.6 1533.4,359.9 1534.1,357.9 1535.2,356.3 1536.1,354.3 1536.9,351.9 1538.5,350.9 1539.7,349.0 1540.8,346.7 1542.4,345.7 1543.8,344.5 1544.9,342.3 1546.5,340.8 1548.4,340.3 1549.9,338.0 1551.7,337.2 1553.5,336.4 1555.5,336.0 1557.5,334.6 1559.5,333.6 1561.6,333.6 1563.5,332.7 1565.4,333.1 1567.1,334.4 1568.7,336.6 1570.5,337.9 1571.9,340.5 1573.6,342.2 1574.6,343.9 1575.8,345.3 1576.7,347.2 1577.7,348.9 1578.7,350.6 1579.3,353.1 1580.5,354.5 1581.4,356.4 1582.3,358.5 1583.7,359.6 1584.7,362.1 1586.3,363.0 1587.5,365.3 1589.0,366.7 1590.5,368.2 1592.0,369.8 1593.6,370.9 1594.7,373.3 1596.1,374.8 1596.8,377.1 1597.9,378.7 1598.8,380.5 1599.9,382.0 1601.0,383.3 1601.5,385.8 1602.7,387.2 1603.6,389.1 1604.2,391.3 1605.3,392.9 1605.8,395.3 1606.8,396.9 1607.5,399.0 1608.5,400.6 1609.1,402.7 1610.1,404.5 1610.8,406.5 1611.9,408.1 1612.5,410.3 1613.3,412.2 1614.4,413.7 1615.3,415.4 1616.0,417.5 1616.7,419.7 1617.6,421.5 1618.8,422.9 1619.9,424.4 1620.4,426.9 1621.4,428.5 1622.5,430.0 1623.1,432.3 1624.4,433.5 1625.0,435.8 1626.1,437.4 1627.1,439.0 1627.9,441.0 1628.5,443.4 1629.6,444.9 1630.5,446.8 1631.6,448.4 1632.5,450.4 1633.4,452.2 1634.2,454.1 1634.9,456.1 1635.2,458.4 1636.2,459.8 1636.4,462.1 1636.9,464.1 1637.4,466.1 1637.6,468.2 1637.8,470.3 1638.2,472.2 1638.4,474.2 1638.5,476.3 1638.8,478.2 1639.2,480.1 1640.1,481.9 1640.7,484.0 1641.8,485.5 1642.4,487.7 1643.2,489.6 1643.9,491.4 1644.5,493.3 1645.2,494.9 1645.4,497.3 1645.2,499.5 1645.4,501.7 1645.4,503.9 1645.9,506.1 1645.9,508.2 1646.4,510.2 1646.9,512.2 1647.6,514.1 1647.9,516.5 1648.6,518.6 1649.6,520.3 1649.8,522.7 1650.7,524.7 1651.5,526.9 1652.3,529.1 1653.2,531.2 1654.1,533.2 1654.7,535.3 1654.9,537.6 1655.2,539.6 1655.5,541.5 1655.8,543.3 1655.8,545.3 1656.4,547.4 1656.5,549.3 1657.1,551.2 1657.6,553.2 1658.3,555.2 1659.1,557.2 1659.9,559.3 1660.4,561.7 1661.1,563.7 1661.8,565.7 1662.4,567.6 1663.4,569.6 1664.0,571.9 1664.8,574.0 1665.1,576.5 1665.9,578.5 1666.9,580.2 1667.3,582.7 1668.4,584.5 1668.7,587.2 1669.6,589.1 1670.3,591.3 1670.8,593.7 1671.7,595.5 1672.4,597.7 1673.3,599.7 1674.6,600.8 1675.7,602.4 1676.6,604.4 1677.6,606.1 1678.2,608.3 1679.3,609.7 1680.0,611.8 1680.6,614.0 1681.6,615.7 1682.6,617.3 1683.6,619.3 1684.6,621.3 1685.4,623.6 1686.8,625.1 1687.3,627.8 1688.5,629.3 1689.3,631.4 1690.0,633.7 1690.7,636.1 1691.7,637.9 1692.5,640.1 1693.3,642.2 1694.6,643.2 1695.5,645.2 1696.7,646.5 1697.4,648.9 1698.7,650.4 1699.3,653.1 1700.4,655.2 1701.8,656.8 1702.6,659.3 1703.9,661.0 1705.1,663.2 1706.3,665.7 1707.8,667.6 1709.2,669.0 1709.8,671.1 1711.4,673.4 1712.2,675.6 1713.4,677.6 1715.0,679.2 1716.3,681.1 1717.8,683.1 1719.5,684.4 1721.3,685.1 1723.2,686.5 1725.2,687.6 1727.5,687.1 1729.4,687.3 1731.4,688.4 1733.5,688.9 1735.5,690.6 1737.5,690.3 1739.8,691.9 1742.2,691.2 1744.3,692.7 1746.2,691.7 1748.3,691.4 1750.1,690.5 1753.1,688.0 1753.6,690.2 1754.4,693.6 1756.2,695.2 1758.7,697.1 1761.3,697.0 1763.4,698.1 1765.3,699.5 1767.6,699.3 1769.9,700.2 1772.3,702.1 1775.0,702.1 1776.9,702.5 1779.0,702.0 1781.1,702.7 1783.1,703.8 1785.1,703.2 1786.9,705.3 1788.8,706.1 1790.7,706.8 1792.6,707.5 1794.3,709.9 1796.2,711.1 1798.2,711.6 1800.0,712.3 1803.1,714.0 1805.0,714.4"/>
<path d="M293.8,582.0 293.9,581.9 294.2,582.0 294.7,582.4 295.3,583.0 296.1,583.9 297.4,583.2 298.5,584.2 299.7,585.5 301.3,585.8 302.8,586.8 304.6,587.7 306.3,589.3 308.3,589.3 310.4,590.0 312.3,592.4 314.5,593.3 316.7,594.4 319.1,595.0 321.5,595.8 323.7,597.5 326.2,598.0 328.4,600.2 330.9,600.8 333.2,602.2 335.5,603.6 337.8,604.9 340.2,605.4 342.3,607.9 344.5,608.3 346.6,610.0 348.7,610.6 350.6,611.6 352.4,613.1 354.2,613.6 356.1,613.8 357.9,614.6 359.7,615.6 361.4,616.9 363.2,617.8 364.8,619.9 366.6,620.7 368.3,621.8 370.1,622.9 371.9,623.4 373.7,624.6 375.4,625.9 377.2,627.1 379.1,627.0 380.9,627.8 382.7,629.1 384.4,630.7 386.3,630.6 387.9,632.8 389.7,633.9 391.6,634.2 393.4,635.3 395.2,636.0 396.9,637.7 398.7,638.5 400.5,639.2 402.3,640.4 404.2,640.6 405.9,642.0 407.7,643.5 409.5,644.3 411.4,644.4 413.3,644.6 415.0,646.1 416.8,647.6 418.8,647.2 420.6,648.5 422.6,648.8 424.4,650.1 426.2,651.2 428.2,651.3 429.9,653.2 431.9,653.5 433.8,654.1 435.7,654.7 437.5,656.2 439.5,656.3 441.3,658.0 443.2,658.6 445.0,659.4 447.0,659.3 449.0,659.5 450.7,661.5 452.7,661.3 454.7,661.4 456.6,662.3 458.4,663.4 460.4,663.6 462.3,664.1 464.1,666.1 466.1,665.5 467.9,667.4 469.9,667.6 471.7,668.8 473.7,669.1 475.7,668.7 477.5,669.7 479.4,671.1 481.4,670.6 483.3,672.3 485.2,673.3 487.2,673.1 489.2,673.0 491.0,674.9 493.0,675.4 495.0,675.1 496.9,676.6 498.9,676.3 500.8,677.4 502.8,677.8 504.7,679.1 506.6,679.5 508.7,679.4 510.7,679.2 512.6,680.7 514.6,680.4 516.5,681.8 518.4,682.9 520.4,682.9 522.3,683.7 524.2,684.5 526.3,684.2 528.2,684.9 530.2,685.5 532.1,686.0 534.1,685.9 536.1,686.7 538.1,686.5 540.0,688.2 542.0,688.2 544.0,688.9 546.0,688.8 548.0,689.8 550.1,689.2 552.0,690.7 554.1,689.8 556.0,691.6 558.1,690.7 560.1,690.8 562.2,691.1 564.1,692.2 566.2,692.4 568.1,693.4 570.1,694.1 572.2,693.9 574.2,693.6 576.2,695.1 578.3,694.0 580.3,695.2 582.3,695.5 584.3,696.4 586.4,695.2 588.3,696.2 590.3,697.1 592.4,697.2 594.4,697.1 596.4,697.4 598.5,696.7 600.5,698.4 602.5,697.7 604.5,698.9 606.5,698.4 608.5,699.1 610.6,697.9 612.6,698.6 614.6,699.7 616.6,699.8 618.6,699.4 620.6,700.0 622.6,700.1 624.6,700.2 626.7,700.8 628.7,700.8 630.7,700.4 632.7,699.9 634.7,700.7 636.7,700.9 638.8,700.6 640.8,700.9 642.8,701.0 644.8,701.0 646.8,700.2 648.8,701.9 650.9,701.5 652.9,701.2 654.9,701.6 656.9,702.3 658.9,702.3 661.0,701.3 663.0,701.9 665.0,701.0 667.0,702.3 669.0,701.1 671.0,702.9 673.1,702.7 675.1,702.3 677.1,702.6 679.1,702.9 681.1,702.8 683.1,702.4 685.2,702.0 687.2,702.3 689.2,703.3 691.2,701.8 693.2,701.7 695.2,702.3 697.3,702.2 699.3,702.6 701.3,703.0 703.3,702.8 705.3,702.8 707.3,703.0 709.4,703.4 711.4,702.5 713.4,702.2 715.4,703.0 717.4,702.2 719.4,703.4 721.5,703.0 723.5,703.3 725.5,703.5 727.5,703.2 729.5,703.0 731.6,702.8 733.7,702.9 735.7,703.9 737.9,702.8 740.0,702.8 742.1,702.7 744.2,703.5 746.4,702.6 748.5,703.4 750.7,703.2 752.8,703.2 755.0,703.5 757.1,702.3 759.2,702.7 761.4,702.6 763.5,703.3 765.5,702.8 767.6,703.6 769.7,703.6 771.7,702.2 773.7,702.6 775.6,702.9 777.6,703.2 779.5,703.4 781.3,701.8 783.1,703.1 784.9,703.3 786.7,703.0 788.4,702.7 790.0,702.5 792.3,702.5 794.4,702.9 796.4,701.6 798.4,702.2 800.2,702.3 802.0,701.8 803.7,702.3 805.5,701.9 807.3,702.5 809.2,701.5 811.2,701.7 813.3,702.7 815.6,702.9 818.0,701.8 819.5,702.7 821.1,702.2 822.8,701.7 824.6,702.6 826.4,701.1 828.4,701.7 830.4,702.3 832.4,702.2 834.5,701.7 836.7,701.9 838.9,701.0 841.1,700.9 843.4,702.2 845.7,702.3 848.1,701.3 850.4,702.3 852.8,701.2 855.2,701.4 857.6,702.5 860.0,701.4 862.4,701.7 864.9,702.1 867.2,701.4 869.6,700.9 872.0,701.1 874.3,701.3 876.6,701.5 878.9,701.1 881.1,701.6 883.3,700.9 885.4,701.1 887.5,700.8 889.6,701.7 891.5,701.1 893.4,701.2 895.2,701.4 897.0,702.0 898.6,701.4 900.2,700.5 901.7,701.7 903.0,700.7 904.3,701.3 905.5,701.2 908.2,701.5 910.4,700.3 912.3,700.9 914.1,701.5 915.9,700.8 918.0,701.0 920.0,701.6 922.1,700.8 924.3,701.5 926.6,700.8 928.9,701.7 931.1,701.7 933.2,701.5 935.1,700.3 936.8,701.1 939.2,700.4 941.2,699.3 943.0,698.6 945.1,697.9 946.9,696.6 947.6,694.2 948.3,691.9 949.4,690.5 951.0,689.0 953.1,688.2 954.9,686.6 957.1,687.2 959.4,685.7 961.8,686.8 963.9,686.2 966.1,685.8 968.3,685.5 970.5,684.1 972.4,684.6 974.4,684.4 976.4,685.1 978.4,685.8 980.5,684.5 982.5,686.0 984.5,686.5 986.7,686.5 988.8,686.8 990.9,686.1 993.0,686.4 995.1,687.6 997.2,687.4 999.3,687.7 1001.3,688.6 1003.4,689.4 1005.5,688.5 1007.6,689.8 1009.7,689.3 1011.7,690.3 1013.9,689.4 1015.9,690.3 1018.0,690.9 1020.1,691.0 1022.2,692.4 1024.3,692.5 1026.4,692.7 1028.5,693.4 1030.5,692.8 1032.6,693.1 1034.8,693.5 1036.8,693.0 1038.7,692.2 1040.5,692.4 1043.1,691.6 1045.6,690.1 1047.2,689.1 1049.2,689.1 1051.2,688.3 1053.4,689.0 1055.5,689.5 1057.5,689.0 1059.4,688.7 1061.4,688.0 1063.5,688.3 1065.6,687.2 1068.0,687.3 1069.8,688.2 1071.7,686.9 1073.6,687.6 1075.7,687.0 1077.8,687.2 1080.0,687.8 1082.1,686.9 1084.3,686.9 1086.5,687.2 1088.7,687.5 1090.9,687.8 1093.0,686.7 1095.1,687.8 1097.2,687.5 1099.3,687.7 1101.3,686.8 1103.4,687.1 1105.5,687.0 1107.6,686.2 1109.7,686.8 1111.7,685.5 1113.8,685.0 1115.9,686.6 1118.0,685.4 1120.1,685.9 1122.2,685.0 1124.2,685.0 1126.4,685.7 1128.4,684.7 1130.5,683.9 1132.6,684.7 1134.7,684.8 1136.7,683.8 1138.8,684.1 1140.9,684.5 1143.0,684.0 1145.1,684.2 1147.3,683.3 1149.4,683.8 1151.6,683.3 1153.8,683.0 1156.0,682.8 1158.1,682.1 1160.2,681.6 1162.3,683.0 1164.3,682.5 1166.2,682.5 1168.0,681.5 1170.5,682.4 1172.7,681.7 1174.8,681.4 1176.9,681.0 1179.3,681.6 1181.9,681.0 1183.4,679.6 1185.1,680.0 1186.9,679.8 1188.8,679.6 1190.7,679.5 1192.6,678.9 1194.6,678.0 1196.7,677.9 1198.8,677.9 1201.0,677.3 1203.2,677.6 1205.3,677.5 1207.5,676.9 1209.7,677.2 1211.7,675.4 1213.9,675.5 1216.0,675.5 1218.0,674.4 1220.1,674.3 1222.5,675.1 1225.0,673.2 1227.6,673.5 1230.3,672.1 1233.0,672.2 1235.8,671.6 1238.4,670.9 1241.1,671.3 1243.6,671.0 1245.9,669.7 1248.1,669.4 1250.0,668.8 1251.7,669.4 1253.1,669.2 1254.1,668.4 1254.8,669.2 1254.8,668.7 1255.0,666.9 1255.3,663.5 1256.4,663.7 1257.4,663.2 1258.6,662.2 1260.1,661.6 1261.9,661.3 1263.7,659.7 1265.8,659.7 1267.9,658.5 1270.3,658.4 1272.7,658.2 1275.1,658.0 1277.5,657.1 1280.0,656.4 1282.3,655.1 1284.7,654.6 1287.0,654.5 1289.1,653.8 1291.1,652.7 1293.0,652.5 1295.0,651.2 1297.1,650.4 1299.2,650.8 1301.1,650.1 1303.1,649.5 1304.8,647.4 1306.8,648.0 1308.6,646.5 1310.5,646.5 1312.2,644.6 1314.1,643.5 1316.1,643.5 1318.0,642.8 1320.0,642.4 1321.7,640.2 1323.7,639.6 1325.7,638.6 1327.6,637.3 1329.6,636.3 1331.6,635.4 1333.6,634.5 1335.5,633.4 1337.5,633.1 1339.4,632.0 1341.2,631.1 1342.7,629.3 1344.4,628.5 1346.0,627.9 1348.2,627.4 1350.0,625.5 1351.8,624.0 1353.6,623.4 1355.0,620.9 1356.9,620.6 1358.4,618.1 1360.2,617.1 1362.1,616.2 1363.9,615.0 1365.5,613.1 1367.3,611.9 1369.4,611.9 1371.1,610.7 1372.5,608.4 1374.1,607.4 1375.6,605.7 1377.3,604.9 1378.9,603.5 1380.4,602.2 1381.9,600.8 1383.5,600.2 1385.3,599.2 1387.0,597.8 1388.7,596.8 1390.3,595.3 1391.9,593.7 1393.5,592.6 1394.9,590.8 1396.5,589.6 1397.9,588.1 1399.4,586.9 1400.9,585.4 1402.1,583.2 1403.8,582.4 1405.3,581.0 1406.9,579.7 1408.3,578.0 1409.9,577.1 1411.1,575.3 1412.4,573.1 1413.6,571.0 1415.0,569.3 1416.2,567.3 1417.1,564.6 1418.5,563.2 1419.7,561.3 1421.0,559.6 1422.5,558.3 1423.4,556.0 1424.8,554.3 1425.9,551.8 1427.1,549.8 1428.3,547.8 1429.6,546.5 1430.3,544.0 1431.5,542.4 1432.4,540.5 1433.5,538.7 1434.6,536.5 1435.9,534.9 1437.0,532.7 1438.5,531.2 1439.8,530.0 1440.4,527.4 1441.5,525.8 1442.5,524.2 1443.4,522.4 1444.3,520.2 1445.4,518.6 1446.1,516.5 1447.1,514.7 1448.5,513.0 1449.3,510.2 1451.2,509.4 1452.6,507.5 1454.5,507.1 1456.5,506.2 1458.5,505.7 1460.7,506.1 1463.0,505.7 1465.3,505.6 1467.2,503.8 1469.3,503.8 1470.6,501.2 1472.5,500.5 1473.2,498.0 1474.1,496.2 1475.2,494.5 1476.1,492.7 1477.3,490.4 1478.5,488.3 1479.7,486.1 1481.0,484.3 1482.3,482.4 1483.7,480.3 1484.4,478.2 1485.4,476.2 1486.2,473.9 1487.3,472.0 1488.3,469.7 1489.1,467.9 1490.4,466.7 1490.9,464.3 1492.0,462.6 1493.1,460.9 1494.2,459.3 1495.2,457.2 1495.9,454.9 1496.7,452.9 1497.8,451.4 1498.8,449.6 1499.8,447.8 1501.0,446.4 1502.1,444.6 1503.0,442.6 1504.3,441.4 1505.0,439.2 1506.2,437.9 1507.0,435.7 1507.8,433.7 1508.5,431.5 1509.6,430.0 1510.1,427.6 1511.1,426.0 1512.0,424.1 1512.5,421.8 1513.6,420.1 1514.0,417.7 1515.2,416.3 1515.7,413.9 1516.8,412.3 1517.2,409.8 1518.3,408.2 1519.2,406.3 1519.6,404.0 1520.1,401.7 1521.0,400.0 1521.5,397.9 1522.1,396.0 1522.5,393.9 1523.2,392.1 1523.6,390.0 1524.3,388.2 1524.6,386.0 1525.2,384.2 1525.3,381.8 1525.8,379.8 1526.4,377.9 1526.8,375.8 1527.3,373.9 1528.0,372.0 1528.7,370.2 1528.8,367.9 1529.3,365.8 1530.1,364.1 1530.7,362.2 1530.9,359.9 1531.3,357.8 1532.2,356.1 1532.2,353.8 1533.0,351.9 1533.4,349.8 1534.0,347.9 1534.4,345.8 1534.9,343.9 1535.6,342.1 1536.1,340.1 1536.4,337.9 1537.0,335.9 1537.8,334.3 1538.2,332.2 1538.6,330.1 1539.2,328.3 1539.7,326.3 1540.5,324.6 1541.2,322.7 1541.2,320.4 1542.0,318.7 1542.5,316.6 1542.7,314.5 1543.0,312.3 1543.7,310.4 1544.3,308.5 1544.3,306.1 1545.1,304.2 1545.4,302.0 1545.8,299.8 1546.8,298.1 1547.3,295.9 1548.0,293.9 1548.1,291.3 1549.2,289.6 1549.6,287.2 1550.2,285.0 1550.8,282.9 1551.8,281.2 1552.6,279.2 1553.7,277.8 1554.5,275.4 1555.9,274.0 1556.7,271.6 1557.8,269.7 1559.4,268.7 1560.4,266.3 1562.1,265.7 1563.3,263.1 1565.3,262.5 1567.0,260.8 1569.1,259.5 1571.1,258.2 1573.1,256.4 1575.2,256.6 1577.2,255.5 1579.0,255.5 1581.0,255.2 1582.6,257.2 1584.4,258.5 1586.2,259.6 1587.7,261.8 1589.3,263.6 1591.1,264.7 1592.3,266.0 1593.1,268.3 1594.3,269.7 1595.4,271.4 1596.1,273.6 1597.0,275.6 1598.2,277.1 1598.9,279.3 1600.1,280.5 1601.0,282.5 1602.1,284.4 1603.4,286.0 1604.8,287.0 1605.9,289.0 1607.5,289.7 1608.5,291.9 1610.0,292.9 1610.9,295.2 1612.2,296.3 1613.2,298.1 1614.3,299.5 1615.0,302.0 1616.1,303.5 1617.1,305.1 1618.2,306.8 1619.1,308.7 1620.1,310.5 1620.8,312.8 1621.9,314.2 1622.6,316.3 1623.5,318.0 1624.3,320.0 1624.9,322.2 1625.8,324.1 1626.7,325.9 1627.8,327.4 1628.3,329.9 1629.4,331.3 1630.0,333.5 1631.1,334.8 1632.3,336.4 1633.3,338.3 1634.1,340.6 1635.6,341.3 1636.4,343.7 1637.8,344.7 1638.7,346.7 1640.2,347.7 1641.0,350.0 1641.7,352.1 1642.8,353.4 1643.5,355.6 1644.5,357.1 1645.5,358.9 1646.3,360.9 1646.9,363.2 1647.9,364.9 1648.7,366.9 1649.5,368.8 1650.0,371.0 1651.1,372.3 1652.0,374.3 1652.5,376.6 1653.6,378.3 1653.9,380.8 1654.9,382.4 1655.5,384.6 1656.5,386.2 1657.0,388.5 1657.7,390.5 1658.7,392.2 1659.4,394.3 1660.1,396.3 1660.8,398.3 1661.5,400.3 1662.0,402.5 1662.6,404.6 1663.3,406.7 1663.8,409.0 1664.6,410.9 1665.1,413.1 1666.0,415.0 1666.8,416.7 1667.4,418.6 1667.9,420.5 1668.2,422.7 1668.8,424.7 1669.4,426.5 1670.1,428.4 1670.4,430.6 1671.2,432.2 1671.6,434.4 1672.3,436.2 1673.0,438.0 1673.5,440.0 1674.2,441.9 1674.6,444.0 1675.4,445.8 1676.1,447.7 1676.6,449.8 1677.4,451.7 1678.1,453.6 1678.6,455.7 1679.0,457.8 1679.4,459.8 1680.2,461.4 1680.5,463.4 1681.3,464.8 1681.4,467.4 1681.8,469.6 1682.0,471.8 1682.8,473.7 1682.8,475.9 1683.4,477.8 1684.0,479.8 1684.4,482.1 1685.1,484.2 1685.9,486.2 1686.5,488.6 1687.2,490.7 1688.0,492.9 1688.9,494.8 1689.6,497.0 1690.3,499.2 1691.0,501.3 1691.5,503.7 1692.5,505.5 1693.2,507.7 1694.0,509.7 1694.3,512.2 1695.2,514.0 1695.8,516.0 1696.5,517.9 1697.3,519.8 1697.7,522.1 1698.7,523.8 1699.7,526.0 1700.8,527.9 1701.6,530.4 1702.9,532.0 1703.7,534.6 1705.0,536.3 1705.8,538.7 1707.3,540.1 1708.3,542.3 1709.3,544.5 1710.3,546.5 1711.1,549.1 1712.3,551.1 1713.5,553.3 1714.8,555.0 1716.1,557.0 1717.6,558.6 1718.9,560.2 1720.1,562.1 1721.2,564.4 1722.6,566.1 1723.9,567.9 1725.1,569.8 1726.1,571.9 1727.3,573.4 1727.8,576.1 1729.2,577.5 1730.0,579.7 1731.2,581.3 1732.7,583.0 1734.2,584.9 1735.8,586.4 1737.4,588.0 1738.7,590.1 1740.0,591.9 1741.2,594.1 1742.4,595.8 1744.0,596.7 1744.8,599.2 1746.9,600.5 1748.6,602.4 1749.4,603.1"/>
<path d="M293.8,630.0 293.7,630.7 294.1,630.8 294.6,630.8 295.3,631.0 296.3,630.8 297.3,631.9 298.3,633.2 299.9,632.5 301.3,633.9 302.7,635.6 304.6,635.2 306.3,637.3 308.3,637.8 310.2,639.4 312.4,640.2 314.6,641.0 316.8,642.1 318.9,644.1 321.2,645.5 323.8,645.5 326.1,646.9 328.4,648.6 330.7,650.0 333.1,651.3 335.4,652.9 337.7,654.1 340.0,655.2 342.4,655.6 344.5,657.5 346.6,658.6 348.6,659.5 350.7,660.0 352.4,661.8 354.3,661.7 356.0,663.0 357.9,663.5 359.6,664.5 361.3,665.9 363.0,667.1 364.9,667.3 366.7,668.1 368.2,670.6 370.3,670.1 371.9,671.6 373.7,672.8 375.5,673.7 377.3,674.4 379.0,675.6 380.9,676.0 382.6,677.9 384.4,678.3 386.3,678.7 388.1,679.7 389.8,681.1 391.5,682.8 393.3,683.6 395.1,684.2 396.9,685.2 398.7,686.2 400.6,686.9 402.3,688.0 404.0,689.5 405.9,689.9 407.9,689.7 409.6,690.7 411.3,692.4 413.2,692.8 415.0,693.7 416.9,694.6 418.8,694.5 420.7,695.4 422.6,696.2 424.4,697.3 426.2,698.5 428.1,699.4 430.1,699.5 431.9,700.6 433.8,701.0 435.6,702.7 437.6,702.3 439.5,703.2 441.3,704.9 443.3,704.6 445.1,705.8 447.0,707.0 449.0,706.6 450.9,707.4 452.8,707.7 454.6,709.3 456.5,709.4 458.4,710.5 460.3,711.2 462.3,711.0 464.2,711.9 466.1,712.6 467.9,714.0 469.9,714.0 471.8,713.9 473.7,714.8 475.5,716.5 477.5,716.5 479.5,716.4 481.4,716.8 483.4,717.7 485.2,718.8 487.2,719.5 489.2,719.2 491.1,720.6 493.1,720.5 495.0,721.7 496.9,722.3 498.9,722.0 500.8,723.0 502.8,723.0 504.8,723.2 506.7,724.1 508.6,725.8 510.6,725.7 512.6,725.6 514.6,726.0 516.5,727.1 518.4,727.9 520.4,728.3 522.4,727.6 524.4,728.4 526.2,730.0 528.3,729.3 530.1,731.1 532.2,729.9 534.1,731.4 536.0,732.3 538.0,732.9 540.0,732.5 542.0,733.8 544.1,732.7 546.0,733.7 548.0,734.9 550.1,734.7 552.0,735.4 554.0,736.3 556.1,735.2 558.1,736.4 560.1,737.4 562.1,737.2 564.1,738.0 566.1,738.5 568.1,739.0 570.2,739.4 572.2,739.6 574.3,739.0 576.3,739.7 578.2,741.0 580.3,741.1 582.3,740.7 584.3,741.0 586.4,741.1 588.3,742.6 590.4,742.8 592.4,742.1 594.4,742.4 596.5,742.9 598.4,743.8 600.5,743.7 602.5,744.4 604.5,745.3 606.5,744.8 608.5,744.9 610.6,744.5 612.5,745.5 614.6,745.0 616.6,745.7 618.6,745.1 620.6,746.7 622.6,747.0 624.6,747.0 626.6,747.0 628.7,746.9 630.7,747.0 632.7,747.0 634.7,747.4 636.8,746.4 638.8,746.6 640.8,746.8 642.8,747.1 644.8,747.0 646.8,748.3 648.9,747.7 650.9,748.4 652.9,746.8 654.9,748.1 656.9,747.6 659.0,747.7 661.0,747.4 663.0,748.2 665.0,747.8 667.0,748.4 669.0,748.1 671.0,749.2 673.1,747.8 675.1,749.1 677.1,748.1 679.1,749.2 681.1,749.0 683.2,748.4 685.1,749.8 687.2,748.6 689.2,749.0 691.2,749.1 693.2,750.1 695.2,749.8 697.3,749.5 699.3,750.5 701.3,750.4 703.3,750.8 705.3,749.3 707.3,749.8 709.3,750.9 711.4,750.5 713.4,749.5 715.4,750.3 717.4,750.2 719.4,749.9 721.4,750.5 723.5,750.6 725.5,751.1 727.5,749.7 729.5,750.8 731.6,750.4 733.7,751.4 735.7,750.5 737.8,751.1 740.0,751.3 742.1,750.1 744.2,750.0 746.4,750.3 748.5,749.7 750.7,750.5 752.8,750.2 755.0,751.2 757.1,751.1 759.2,749.8 761.4,749.8 763.5,750.0 765.5,749.6 767.6,750.6 769.7,750.3 771.7,749.7 773.7,750.6 775.6,750.8 777.6,751.1 779.5,749.5 781.3,749.6 783.2,750.8 784.9,751.0 786.7,749.3 788.4,749.4 790.0,750.5 792.3,749.8 794.4,750.5 796.5,750.4 798.4,750.1 800.2,749.2 802.0,750.5 803.7,748.9 805.5,750.0 807.3,749.8 809.2,750.3 811.2,750.3 813.3,749.2 815.6,750.2 818.0,750.3 819.5,749.8 821.1,749.2 822.8,748.8 824.6,748.9 826.4,748.6 828.4,750.1 830.3,748.6 832.4,748.8 834.5,749.1 836.7,749.8 838.9,749.1 841.1,749.5 843.4,749.9 845.7,750.1 848.1,750.1 850.4,748.4 852.8,749.2 855.2,749.2 857.6,749.2 860.0,748.9 862.4,749.3 864.9,750.2 867.3,750.0 869.6,749.8 872.0,748.7 874.3,749.7 876.6,749.7 878.9,749.9 881.1,749.1 883.3,748.4 885.4,749.2 887.5,749.4 889.6,749.5 891.5,748.8 893.4,750.0 895.2,749.9 897.0,750.0 898.6,749.9 900.2,749.6 901.7,749.2 903.0,750.0 904.3,748.5 905.5,750.1 908.2,749.9 910.4,749.6 912.3,749.6 914.1,748.7 915.9,748.8 918.0,750.3 920.1,748.8 922.3,750.2 924.7,749.3 927.0,748.6 929.4,748.7 931.6,748.4 933.6,748.5 935.5,748.7 938.5,748.9 940.9,747.0 942.9,745.9 944.9,745.0 946.2,742.7 947.4,739.6 949.3,737.9 951.6,737.1 954.3,736.0 956.6,734.8 959.1,733.9 961.8,734.1 963.9,732.9 966.1,733.4 968.4,733.1 970.5,731.9 973.0,733.2 975.5,732.4 978.0,732.8 980.2,732.9 982.3,734.0 984.6,733.6 986.8,733.6 989.0,734.3 991.0,736.1 993.3,735.8 995.5,736.6 997.5,735.7 999.4,736.4 1001.4,736.6 1003.4,737.4 1005.5,737.1 1007.5,737.4 1009.6,738.2 1011.8,738.1 1014.0,737.6 1016.0,737.7 1018.0,738.9 1020.3,738.7 1022.5,739.0 1024.6,739.8 1026.7,741.1 1028.7,740.6 1030.6,740.1 1032.6,740.5 1034.7,740.9 1036.8,740.1 1038.7,740.9 1040.7,741.7 1042.7,741.8 1044.8,741.7 1047.0,742.6 1049.3,741.3 1051.2,742.0 1053.2,741.1 1055.4,742.4 1057.5,741.4 1059.7,742.2 1061.9,741.7 1064.0,742.5 1066.1,741.6 1068.0,741.4 1070.2,742.3 1072.4,742.8 1074.4,742.3 1076.4,742.6 1078.4,741.3 1080.5,741.8 1082.6,742.1 1084.6,741.8 1086.6,740.8 1088.7,741.4 1090.8,740.7 1093.0,740.0 1094.9,740.4 1096.9,739.7 1099.0,740.0 1101.1,739.2 1103.2,739.0 1105.4,739.3 1107.5,739.1 1109.6,738.6 1111.8,738.8 1113.8,738.7 1115.9,737.6 1118.0,738.0 1120.1,737.9 1122.2,737.9 1124.3,738.2 1126.4,737.9 1128.4,737.9 1130.5,736.2 1132.6,735.7 1134.6,735.7 1136.7,735.7 1138.8,734.9 1141.0,736.1 1143.0,735.9 1145.1,734.8 1147.2,734.6 1149.3,734.7 1151.3,733.1 1153.4,732.9 1155.6,733.2 1157.8,733.2 1159.9,732.9 1161.9,731.5 1164.0,732.4 1166.0,730.8 1168.0,731.0 1170.4,730.6 1172.7,731.6 1174.8,730.8 1177.1,730.9 1179.4,730.8 1181.9,730.2 1183.6,730.2 1185.4,729.9 1187.2,728.2 1189.0,727.9 1191.0,728.1 1193.0,728.2 1194.9,726.8 1197.0,727.4 1199.1,726.3 1201.2,726.1 1203.3,725.2 1205.5,725.1 1207.3,724.4 1209.1,725.1 1210.9,723.1 1212.8,723.5 1214.7,723.0 1216.8,723.6 1218.7,722.2 1220.7,722.4 1222.7,721.9 1224.8,721.6 1226.8,721.0 1228.8,719.9 1230.8,719.4 1232.9,719.9 1235.0,718.9 1237.0,718.4 1239.0,718.0 1241.0,717.7 1243.0,717.7 1245.0,716.7 1247.0,717.0 1249.0,716.3 1251.0,714.9 1253.1,714.7 1255.1,713.8 1257.2,714.2 1259.3,714.3 1261.2,712.5 1263.3,713.2 1265.3,712.0 1267.3,711.4 1269.3,711.1 1271.2,709.6 1273.1,709.5 1275.1,709.5 1276.9,708.7 1278.8,708.7 1280.5,707.7 1282.7,707.3 1284.6,705.3 1286.7,705.6 1288.5,703.7 1290.5,703.4 1292.4,702.8 1294.3,702.5 1296.1,701.1 1298.0,701.0 1299.9,700.4 1301.8,699.8 1303.5,697.6 1305.6,698.1 1307.4,696.2 1309.4,695.6 1311.4,694.9 1313.4,694.2 1315.4,693.9 1317.4,692.8 1319.4,692.2 1321.3,691.0 1323.3,690.8 1325.1,689.1 1327.0,689.0 1328.7,687.5 1330.6,688.3 1332.6,687.1 1334.4,685.1 1336.4,685.0 1338.3,684.8 1340.1,683.7 1342.0,683.5 1343.7,681.6 1345.7,681.0 1347.6,680.8 1349.4,680.0 1351.2,678.5 1353.0,677.0 1355.0,676.2 1356.9,675.0 1358.9,674.4 1360.7,672.7 1362.6,672.2 1364.2,670.4 1365.9,669.4 1367.7,668.1 1369.7,667.6 1371.3,666.1 1373.0,665.1 1374.6,663.4 1376.2,662.3 1378.1,661.6 1379.8,660.0 1381.6,659.1 1383.5,657.9 1385.4,657.0 1387.3,655.4 1389.1,654.0 1390.9,652.3 1392.8,651.4 1394.5,650.4 1395.9,648.4 1397.7,647.3 1399.3,645.7 1401.0,645.0 1402.2,643.0 1403.6,641.8 1404.7,640.0 1406.0,638.2 1407.2,636.5 1408.0,634.3 1408.6,631.8 1409.6,629.8 1410.8,628.1 1411.9,626.1 1412.7,623.8 1413.6,621.4 1415.1,619.9 1415.9,617.3 1416.8,615.2 1418.3,614.2 1419.1,611.6 1420.6,610.4 1421.3,607.7 1422.7,606.8 1423.7,605.4 1424.6,602.7 1425.9,601.6 1427.4,600.3 1428.6,597.9 1430.3,596.3 1431.7,593.8 1433.5,592.4 1435.0,590.9 1436.5,589.6 1438.3,589.3 1439.9,588.1 1441.4,586.2 1443.0,585.1 1444.4,583.0 1446.0,581.2 1447.5,579.6 1449.2,577.8 1450.9,576.1 1452.3,574.1 1453.5,572.4 1455.9,569.7 1457.9,568.9 1460.1,567.4 1462.2,567.8 1466.0,568.1 1467.7,567.9 1469.4,566.1 1470.9,563.4 1472.4,562.0 1473.9,560.1 1475.8,559.4 1477.2,557.5 1478.9,555.8 1480.6,554.1 1482.2,552.3 1483.4,549.7 1485.0,548.5 1486.3,546.8 1487.2,544.3 1488.7,542.8 1489.4,540.8 1490.0,538.8 1490.4,536.6 1491.0,534.4 1491.4,532.0 1492.1,529.7 1493.0,527.9 1494.1,526.1 1495.0,523.7 1496.1,521.7 1497.4,520.0 1498.4,517.7 1499.8,516.3 1501.1,514.5 1502.3,512.5 1503.3,510.1 1504.5,508.3 1506.0,506.9 1507.3,505.0 1508.2,503.0 1509.6,501.8 1510.6,499.9 1511.6,497.9 1512.8,496.3 1513.8,494.5 1514.6,492.2 1515.7,490.2 1517.0,488.7 1517.8,486.4 1519.1,484.8 1519.8,482.1 1521.1,480.2 1521.8,478.4 1522.7,476.8 1523.4,474.9 1524.2,473.0 1525.0,471.2 1525.8,469.2 1526.9,467.6 1527.5,465.2 1528.6,463.6 1529.6,461.8 1530.0,459.2 1530.8,457.2 1531.7,455.6 1532.3,453.5 1533.1,451.7 1533.8,449.6 1534.4,447.4 1535.3,445.6 1535.9,443.4 1536.6,441.4 1537.6,439.7 1537.9,437.3 1538.8,435.4 1539.1,433.1 1539.9,431.3 1540.4,429.3 1541.2,427.7 1541.8,425.5 1542.1,423.2 1542.8,421.3 1542.9,418.9 1543.3,416.9 1544.1,415.1 1544.3,412.9 1544.8,411.0 1544.9,408.8 1545.5,407.0 1545.7,404.8 1546.7,403.1 1546.8,400.8 1547.3,398.8 1548.1,397.0 1548.6,395.0 1549.1,393.0 1549.7,391.1 1550.0,389.0 1550.6,387.1 1550.8,384.9 1551.5,383.0 1551.9,381.0 1552.4,379.0 1553.2,377.3 1553.5,375.2 1553.9,373.1 1554.4,371.1 1554.7,369.0 1555.4,367.0 1556.0,365.0 1556.6,363.2 1557.1,361.3 1557.6,359.4 1558.4,357.6 1558.8,355.6 1559.1,353.3 1559.8,351.4 1560.5,349.6 1561.2,347.7 1561.7,345.6 1562.4,343.9 1562.9,341.9 1563.6,340.1 1564.4,338.1 1564.8,335.7 1565.5,333.5 1566.3,331.6 1566.9,329.4 1567.7,327.4 1568.4,325.4 1569.2,323.4 1570.0,321.5 1570.9,319.8 1572.1,317.9 1573.5,316.4 1575.1,315.6 1576.3,313.5 1577.8,312.1 1579.5,311.6 1580.9,309.4 1583.1,309.2 1585.1,307.6 1587.2,306.0 1589.2,304.1 1591.4,303.9 1593.5,304.1 1595.4,304.1 1597.4,304.3 1599.2,306.1 1600.9,308.2 1602.9,308.9 1604.5,310.8 1606.2,312.0 1607.3,314.0 1608.3,315.8 1609.1,318.0 1610.2,319.7 1610.8,322.0 1611.6,323.9 1612.7,325.5 1613.3,327.9 1614.6,329.4 1616.0,330.6 1617.2,332.3 1618.3,334.1 1619.6,335.7 1620.9,337.8 1622.0,339.1 1623.1,340.8 1624.3,342.3 1625.4,344.1 1626.6,345.9 1627.8,347.6 1628.9,349.8 1629.9,352.0 1631.1,353.8 1632.3,355.8 1633.5,357.5 1634.5,359.3 1635.7,360.9 1636.4,363.3 1637.3,365.3 1638.3,367.3 1639.7,368.5 1640.3,371.1 1641.6,372.5 1642.1,375.1 1643.2,376.9 1644.1,378.9 1645.1,380.6 1645.8,382.8 1646.8,384.6 1647.8,386.3 1648.9,387.8 1649.7,389.8 1650.2,392.2 1651.0,394.1 1652.1,395.5 1653.2,397.1 1653.6,399.5 1654.4,401.3 1655.5,402.8 1656.0,405.0 1656.6,407.0 1657.2,408.8 1658.1,410.5 1658.3,412.7 1659.1,414.5 1659.8,416.3 1660.3,418.3 1660.8,420.2 1661.4,422.2 1662.1,424.0 1662.4,426.1 1662.8,428.2 1663.4,430.1 1664.1,431.9 1664.4,434.1 1665.1,435.9 1666.0,437.5 1666.2,439.8 1667.0,441.5 1667.3,443.7 1668.0,445.5 1668.7,447.3 1669.3,449.2 1669.9,451.1 1670.3,453.2 1671.1,454.9 1671.6,457.0 1672.4,459.2 1672.9,461.7 1673.5,464.3 1674.5,466.5 1675.1,469.0 1675.4,471.7 1676.3,473.7 1677.0,475.5 1677.3,477.4 1677.8,478.7 1678.3,479.4 1678.5,480.2 1678.6,480.5 1679.2,480.3 1679.6,481.4 1680.0,483.0 1680.6,485.0 1680.8,487.5 1681.3,490.1 1682.1,492.7 1682.5,495.5 1683.4,498.0 1683.8,500.7 1684.5,502.9 1685.2,504.9 1685.4,507.4 1686.1,509.5 1686.9,511.4 1687.7,513.3 1688.3,515.3 1688.9,517.2 1689.3,519.4 1689.8,521.5 1691.0,523.0 1691.8,524.8 1692.3,527.3 1693.4,528.6 1694.0,530.8 1695.2,532.2 1695.6,534.8 1696.6,536.4 1697.3,538.7 1698.3,540.3 1699.2,542.0 1700.2,543.4 1701.3,546.0 1702.6,548.1 1704.0,549.7 1704.0,552.2 1704.4,554.1 1705.0,556.3 1706.0,558.1 1707.0,560.5 1708.5,562.4 1709.8,564.7 1711.3,566.1 1712.2,568.5 1713.4,570.1 1714.3,572.1 1715.1,574.4 1716.1,576.6 1716.9,578.4 1718.0,579.9 1718.6,582.1 1719.4,584.2 1720.3,585.9 1721.4,587.2 1722.5,589.4 1723.5,591.8 1724.9,593.4 1726.3,594.9 1727.6,596.8 1728.6,599.4 1729.6,601.8 1731.1,603.6 1733.0,605.5 1735.3,606.3 1737.5,607.2 1739.3,608.2 1741.1,609.5 1743.0,609.6 1745.0,610.1 1746.9,611.7 1749.0,611.3 1751.1,610.6 1753.1,611.6 1755.0,611.4 1758.1,612.8 1761.1,614.6 1762.4,613.8 1768.8,611.2 1768.9,612.8 1769.9,616.4 1771.3,618.0 1773.2,619.2 1775.5,620.0 1777.8,620.2 1780.1,620.5 1781.9,622.3 1784.0,621.7 1786.0,622.0 1788.0,623.1 1790.0,623.7 1792.1,622.7 1794.2,623.6 1796.3,624.1 1798.3,624.6 1799.9,626.4 1803.2,628.0 1805.0,628.8"/>
<path d="M293.8,671.2 293.7,671.9 294.2,671.3 294.6,671.7 295.2,672.6 295.9,673.5 297.1,673.1 298.1,674.5 299.5,674.7 300.7,676.1 302.2,677.3 304.0,677.4 305.6,679.2 307.3,680.9 309.5,681.0 311.4,682.5 313.3,684.7 315.5,685.3 317.7,686.8 319.9,688.0 322.1,689.7 324.4,690.9 326.8,691.8 329.1,693.5 331.3,695.3 333.6,697.0 335.9,698.2 338.2,698.9 340.4,700.8 342.5,702.5 344.7,703.3 346.6,705.0 348.8,705.4 350.7,706.1 352.5,707.4 354.3,708.5 356.0,709.8 357.8,711.0 359.7,711.0 361.4,712.4 363.2,713.2 365.0,714.4 366.8,715.2 368.8,714.9 370.5,716.6 372.4,717.4 374.2,718.0 376.0,719.3 377.9,719.6 379.7,721.0 381.6,721.4 383.4,722.2 385.2,723.7 387.1,724.0 389.0,724.7 390.9,725.1 392.6,726.5 394.5,727.1 396.4,727.8 398.2,728.8 400.0,730.0 401.9,730.5 403.9,729.9 405.8,730.8 407.5,732.5 409.5,732.6 411.3,733.8 413.1,734.8 414.9,735.8 417.0,735.2 418.9,735.9 420.8,737.4 422.7,738.6 424.8,738.0 426.7,738.9 428.6,739.6 430.5,741.1 432.4,741.6 434.4,741.9 436.4,742.1 438.3,743.4 440.2,744.8 442.2,744.3 444.1,746.1 446.1,746.5 448.1,746.2 450.0,747.1 452.1,746.9 453.9,749.1 455.9,748.7 457.9,749.2 459.9,749.4 461.8,750.8 463.8,750.9 465.7,751.5 467.7,752.0 469.7,752.6 471.5,754.2 473.6,753.9 475.6,754.1 477.5,755.2 479.6,754.8 481.5,755.8 483.5,756.1 485.5,757.4 487.6,757.1 489.5,758.2 491.6,758.2 493.6,758.2 495.6,759.5 497.6,759.7 499.6,760.5 501.6,761.1 503.6,761.3 505.6,762.2 507.7,761.0 509.7,761.5 511.7,762.0 513.7,762.7 515.8,762.7 517.8,762.9 519.8,764.5 521.8,764.4 523.8,764.9 525.9,764.9 527.8,765.9 529.9,765.4 531.9,766.5 534.0,766.2 535.9,767.0 538.0,767.6 540.0,768.1 542.0,767.8 544.1,767.7 546.0,768.6 548.0,768.9 550.1,768.4 552.1,769.6 554.1,769.5 556.1,770.9 558.1,770.2 560.2,770.6 562.2,770.6 564.2,771.0 566.2,772.4 568.2,771.8 570.2,772.2 572.2,773.8 574.2,773.5 576.2,774.4 578.2,774.5 580.3,774.5 582.3,774.2 584.3,775.2 586.4,774.5 588.3,776.3 590.4,774.8 592.4,775.8 594.4,776.6 596.4,776.8 598.5,776.2 600.5,777.5 602.5,776.1 604.5,776.9 606.5,777.4 608.5,776.9 610.6,777.2 612.6,777.4 614.6,778.4 616.6,778.2 618.6,777.5 620.6,777.6 622.6,778.1 624.6,779.2 626.7,778.4 628.7,777.7 630.7,779.1 632.7,778.8 634.7,779.4 636.7,779.5 638.8,779.1 640.8,779.2 642.8,778.3 644.8,778.1 646.8,778.1 648.9,779.3 650.9,778.7 652.9,779.7 654.9,779.7 656.9,779.6 659.0,778.3 661.0,778.6 663.0,778.7 665.0,779.6 667.0,778.8 669.0,778.6 671.0,779.4 673.1,780.0 675.1,779.3 677.1,779.8 679.1,778.7 681.1,779.9 683.1,779.4 685.2,778.8 687.2,779.9 689.2,780.2 691.2,779.8 693.2,779.0 695.2,779.5 697.3,780.6 699.3,780.1 701.3,780.5 703.3,780.5 705.3,779.4 707.3,780.4 709.4,780.1 711.4,779.1 713.4,780.2 715.4,780.7 717.4,780.6 719.4,780.4 721.5,779.7 723.5,779.5 725.5,780.6 727.5,780.1 729.5,780.1 731.6,780.1 733.7,779.8 735.7,779.8 737.9,780.2 740.0,779.8 742.1,780.2 744.2,780.8 746.4,779.8 748.5,780.4 750.7,780.4 752.8,779.8 755.0,780.4 757.1,780.7 759.2,780.8 761.4,780.7 763.5,779.6 765.5,779.8 767.6,779.7 769.7,779.4 771.7,780.4 773.7,780.2 775.6,779.5 777.6,779.3 779.5,780.3 781.3,779.4 783.1,779.2 784.9,780.2 786.7,780.0 788.4,779.4 790.0,779.8 792.3,779.6 794.4,780.5 796.4,779.0 798.3,780.5 800.1,779.4 801.9,780.1 803.6,779.2 805.4,778.8 807.2,780.1 809.1,779.1 811.1,779.6 813.2,778.5 815.5,778.9 818.0,778.6 819.4,778.9 820.9,780.0 822.5,778.3 824.2,779.7 825.9,779.6 827.7,778.3 829.5,779.1 831.4,779.9 833.4,779.8 835.4,779.4 837.5,778.9 839.6,779.7 841.7,780.0 843.9,779.0 846.2,779.1 848.4,778.7 850.7,778.3 853.0,778.8 855.3,779.4 857.6,779.2 860.0,779.3 862.4,778.8 864.7,779.7 867.1,779.1 869.5,778.2 871.8,779.0 874.2,779.4 876.5,779.2 878.9,778.1 881.2,779.4 883.5,779.2 885.7,778.6 888.0,778.8 890.2,778.5 892.3,778.9 894.4,778.4 896.5,778.5 898.5,779.0 900.5,778.7 902.5,778.3 904.3,779.5 906.1,778.4 907.9,779.5 909.6,778.3 911.2,779.6 912.7,778.8 914.1,778.0 915.5,777.9 916.8,778.6 918.0,778.4 920.7,777.9 923.3,778.4 925.5,778.7 927.6,778.3 929.5,778.5 931.2,777.5 932.8,778.1 934.2,778.3 937.0,778.3 939.3,779.5 941.1,779.7 943.1,778.4 945.5,778.8 947.0,779.8 948.8,778.6 950.7,778.8 952.8,779.1 954.9,778.6 957.2,778.2 959.4,779.0 961.7,778.7 963.9,778.3 966.0,779.4 968.0,777.9 970.3,779.1 972.7,778.6 975.1,778.2 977.4,778.9 979.6,779.8 981.7,778.2 983.7,778.2 985.5,779.4 988.3,778.7 990.7,777.9 992.9,776.1 995.1,775.6 997.3,775.4 999.4,775.1 1001.8,772.3 1004.2,771.0 1005.9,770.1 1007.4,768.3 1010.4,771.4 1012.7,771.3 1015.2,769.8 1018.0,770.9 1019.9,770.9 1021.9,771.0 1024.1,770.5 1026.2,771.6 1028.4,771.6 1030.5,771.2 1032.6,770.7 1034.6,771.0 1036.6,771.2 1038.7,771.8 1040.8,771.5 1043.0,771.5 1044.9,770.7 1046.9,772.3 1049.0,771.1 1051.0,772.5 1053.1,771.7 1055.2,771.9 1057.2,771.8 1059.3,772.5 1061.4,771.5 1063.5,772.3 1065.7,772.3 1067.7,771.3 1069.9,771.4 1072.0,771.4 1074.3,771.0 1076.2,770.5 1078.3,770.2 1080.3,769.7 1082.5,770.0 1084.6,769.8 1086.7,769.9 1088.8,769.3 1090.9,768.6 1093.0,767.7 1095.1,767.9 1097.2,768.0 1099.3,768.3 1101.3,767.0 1103.4,767.8 1105.5,767.2 1107.6,767.3 1109.7,766.7 1111.8,767.0 1113.8,765.9 1115.9,766.2 1118.0,765.4 1120.1,765.7 1122.2,766.0 1124.2,764.5 1126.4,764.9 1128.4,764.5 1130.5,764.0 1132.6,762.9 1134.7,763.0 1136.8,763.5 1138.8,762.4 1140.9,762.8 1143.0,762.3 1145.1,762.4 1147.2,761.8 1149.2,760.7 1151.3,760.7 1153.5,761.4 1155.6,759.7 1157.8,760.8 1159.9,759.6 1162.0,759.8 1164.0,758.7 1166.1,759.5 1168.0,758.0 1170.1,759.3 1172.0,758.2 1173.9,758.3 1175.8,757.1 1177.7,758.0 1179.7,757.3 1181.9,757.3 1183.6,755.9 1185.4,756.4 1187.3,756.7 1189.2,755.9 1191.1,755.4 1193.1,755.4 1195.2,755.3 1197.2,754.5 1199.2,752.9 1201.3,752.7 1203.3,752.1 1205.5,752.1 1207.5,751.3 1209.9,751.6 1212.5,751.2 1215.1,749.8 1217.9,749.5 1220.7,749.4 1223.4,748.3 1226.1,749.0 1228.6,748.5 1230.8,748.0 1232.8,747.1 1234.4,746.2 1235.7,747.2 1236.5,746.3 1236.9,746.3 1236.8,744.3 1238.0,741.3 1239.0,741.0 1240.2,740.4 1241.7,739.8 1243.3,738.5 1245.3,738.8 1247.5,738.3 1249.6,736.6 1252.0,737.0 1254.4,735.7 1256.8,734.8 1259.2,734.7 1261.7,735.1 1263.8,733.2 1266.0,733.2 1268.0,732.8 1270.0,731.8 1272.0,731.4 1273.9,730.1 1276.0,730.0 1277.8,728.7 1279.7,727.8 1281.5,726.5 1283.5,726.7 1285.4,725.4 1287.2,724.4 1289.2,724.1 1291.0,722.6 1293.0,722.3 1295.0,722.2 1296.8,720.4 1298.8,720.1 1300.7,719.0 1302.6,718.6 1304.4,716.8 1306.5,717.2 1308.3,715.5 1310.3,714.9 1312.2,714.4 1314.2,713.9 1316.0,711.9 1317.9,710.7 1319.8,710.8 1321.5,709.3 1323.2,707.7 1325.1,707.2 1327.1,707.1 1328.9,705.4 1330.7,704.1 1332.7,703.8 1334.3,701.9 1336.2,701.1 1337.9,700.3 1339.5,698.7 1341.4,698.6 1342.9,697.3 1344.3,695.6 1345.7,694.8 1347.5,693.4 1349.3,692.3 1351.0,691.5 1352.6,690.8 1353.8,688.3 1355.3,687.0 1357.0,686.6 1358.4,684.6 1360.1,684.2 1361.5,682.5 1362.8,680.4 1364.4,679.0 1365.7,677.0 1367.4,676.1 1368.6,673.6 1370.2,672.0 1371.9,671.5 1373.5,670.1 1375.4,669.4 1376.9,667.0 1379.0,667.0 1380.7,665.1 1382.8,665.0 1384.7,665.0 1386.5,663.9 1388.0,661.6 1389.7,661.0 1391.5,660.2 1392.8,658.0 1394.4,657.2 1395.6,655.3 1396.9,653.7 1398.5,653.0 1399.8,651.5 1401.4,649.9 1402.9,648.4 1404.2,646.1 1405.6,644.4 1407.2,643.1 1408.5,641.2 1410.1,639.6 1411.7,638.1 1413.2,636.1 1414.6,634.3 1416.2,633.0 1417.5,631.3 1418.8,629.5 1419.9,627.6 1421.1,625.7 1422.4,624.2 1423.4,621.8 1424.8,620.3 1426.1,618.7 1427.3,616.6 1428.4,614.8 1430.0,613.5 1431.0,611.2 1432.1,609.0 1433.6,607.6 1434.5,605.7 1435.5,604.0 1436.5,602.3 1437.7,600.8 1438.5,598.7 1439.3,596.7 1440.6,595.5 1441.4,593.4 1442.6,592.0 1443.4,589.7 1444.6,588.3 1445.3,585.9 1446.6,584.4 1447.5,582.1 1448.6,580.3 1449.6,578.3 1451.1,576.5 1452.7,575.1 1454.3,573.8 1456.1,572.8 1457.9,571.2 1459.5,568.6 1461.6,568.0 1463.7,567.0 1465.5,565.6 1467.1,563.1 1469.2,562.7 1471.0,561.4 1472.5,559.7 1474.0,558.2 1475.6,556.9 1477.1,555.5 1478.5,553.9 1480.5,551.7 1482.9,551.5 1484.8,550.0 1486.2,548.6 1487.5,547.0 1488.7,545.3 1489.3,542.9 1490.1,540.8 1491.2,539.2 1492.4,537.0 1494.2,535.9 1496.1,534.2 1497.8,533.1 1499.8,531.6 1501.9,530.0 1504.2,530.6 1506.0,529.0 1507.8,527.7 1509.5,526.6 1510.9,525.1 1512.3,523.9 1513.6,521.5 1515.0,519.8 1515.8,517.2 1516.6,515.1 1517.6,513.3 1518.4,510.7 1520.7,510.9 1523.3,509.9 1526.0,509.7 1527.9,508.2 1529.9,507.4 1531.8,506.3 1533.6,505.3 1535.5,504.0 1537.2,502.1 1538.4,499.8 1539.0,497.8 1539.5,495.7 1540.2,493.5 1541.6,491.5 1543.1,489.3 1544.7,487.4 1545.5,485.3 1546.7,484.1 1547.6,482.1 1548.5,480.0 1549.9,478.6 1551.5,477.5 1553.1,475.8 1554.8,474.5 1555.9,472.2 1556.7,470.3 1557.6,468.6 1558.3,466.5 1559.1,464.5 1559.5,462.3 1559.6,459.9 1560.0,457.9 1560.3,455.7 1560.1,453.5 1560.4,451.4 1560.5,449.3 1560.8,447.2 1561.9,445.3 1563.4,444.0 1564.8,442.3 1565.9,439.7 1567.1,438.7 1568.1,436.7 1569.0,434.6 1570.0,432.6 1571.1,430.7 1572.4,429.2 1573.4,427.4 1574.6,425.8 1575.9,424.4 1576.8,422.4 1577.7,420.1 1578.8,418.5 1579.8,416.5 1581.0,415.0 1582.0,413.2 1583.0,411.5 1583.7,409.3 1584.7,407.5 1585.8,405.9 1586.9,404.3 1587.6,402.1 1588.7,400.4 1589.1,397.8 1589.9,395.9 1590.7,393.9 1591.6,392.1 1592.7,390.3 1593.2,388.0 1594.1,386.2 1594.6,383.8 1595.3,381.8 1595.8,379.8 1596.7,377.7 1597.7,375.7 1598.4,373.6 1599.0,371.3 1599.7,369.3 1600.2,366.9 1601.0,365.0 1602.0,363.1 1602.4,360.5 1603.4,358.7 1604.1,356.5 1604.9,354.4 1605.9,352.3 1607.0,350.7 1608.1,349.0 1608.8,346.5 1610.1,345.1 1611.0,342.9 1612.4,341.6 1613.6,340.2 1615.2,337.8 1617.2,336.6 1619.1,335.3 1621.0,333.7 1622.9,334.3 1624.7,335.4 1626.7,335.8 1628.4,338.1 1629.8,338.4 1631.1,339.8 1632.5,341.0 1633.8,342.4 1634.9,344.5 1636.3,345.9 1637.5,347.8 1638.5,350.0 1639.3,351.9 1640.3,353.7 1641.3,355.2 1642.5,356.7 1643.2,358.8 1644.3,360.4 1645.0,362.6 1645.9,364.6 1647.1,365.9 1647.5,368.5 1648.4,370.2 1649.4,371.8 1650.3,373.8 1651.0,375.8 1651.5,378.0 1652.5,379.7 1653.1,381.9 1654.0,383.6 1654.6,385.8 1655.3,387.8 1655.8,390.2 1656.7,391.7 1657.0,393.9 1657.8,395.5 1658.3,397.6 1659.1,399.2 1659.6,401.3 1660.1,403.2 1660.5,405.4 1661.2,407.3 1661.7,409.2 1662.3,411.2 1663.1,412.9 1663.7,414.8 1664.2,416.8 1664.7,418.8 1665.4,420.5 1665.8,422.6 1666.6,424.3 1666.9,426.5 1667.4,428.5 1668.3,430.0 1668.8,432.1 1669.1,434.2 1670.0,435.9 1670.3,438.1 1671.0,440.0 1671.6,441.8 1672.2,443.7 1672.4,446.0 1673.0,447.9 1673.6,449.9 1674.4,451.6 1674.8,453.8 1675.0,456.0 1675.8,457.9 1676.5,459.8 1677.0,461.7 1677.5,463.8 1677.9,465.8 1678.1,468.0 1678.3,470.2 1679.1,471.9 1679.1,474.2 1679.4,476.3 1680.0,478.3 1679.7,480.7 1680.2,482.7 1680.3,484.9 1680.8,486.9 1681.0,489.0 1681.1,491.1 1681.7,492.9 1682.0,494.9 1682.3,496.8 1682.6,498.7 1683.1,501.0 1683.5,503.5 1684.3,505.4 1685.0,507.5 1686.1,509.1 1686.9,511.1 1687.4,513.4 1688.0,515.6 1688.9,517.4 1689.5,519.4 1690.1,521.5 1690.4,523.9 1691.2,525.8 1691.8,527.8 1692.1,530.1 1692.5,532.3 1693.2,534.2 1693.8,536.2 1694.6,538.2 1694.9,540.5 1695.8,542.2 1696.2,544.5 1696.6,546.8 1697.7,548.3 1697.9,550.7 1698.9,552.3 1699.4,554.7 1700.1,556.8 1700.8,559.0 1701.2,561.3 1702.1,563.2 1703.0,565.2 1703.9,567.3 1704.6,569.5 1705.5,571.6 1706.5,573.5 1707.3,575.8 1708.2,578.1 1709.3,579.8 1710.1,582.2 1711.3,583.7 1712.1,585.9 1713.2,587.6 1714.0,589.8 1715.0,591.7 1715.8,593.8 1716.7,595.6 1717.7,597.2 1718.6,599.1 1719.4,601.1 1720.1,603.1 1720.9,605.0 1721.7,606.9 1722.7,608.5 1723.6,610.5 1724.5,612.8 1725.4,615.0 1726.3,617.1 1727.7,618.5 1728.4,620.6 1729.2,622.4 1730.1,624.1 1730.8,626.3 1731.4,628.5 1732.7,629.7 1733.6,632.1 1734.9,634.0 1736.2,636.0 1737.3,638.4 1738.7,640.2 1739.7,642.5 1740.9,644.6 1742.3,646.3 1743.8,647.7 1745.0,650.0 1746.6,652.1 1748.4,654.0 1750.4,655.0 1752.4,656.9 1754.3,657.4 1756.4,657.5 1758.5,658.7 1760.6,658.7 1762.5,659.1 1765.1,659.4 1767.4,661.3 1769.9,662.5 1771.9,662.9 1773.9,663.1 1775.9,664.4 1778.0,664.6 1780.0,665.6 1782.0,666.7 1784.1,667.5 1786.0,668.7 1788.0,669.7 1790.0,670.1 1792.0,670.8 1793.7,672.3 1795.6,672.4 1797.6,672.7 1799.7,674.6 1802.3,674.3 1804.1,676.5 1805.0,676.2"/>
</g>
<g fill="none" stroke="#ff0000" stroke-width="1" stroke-linejoin="round" shape-rendering="crispEdges" filter="url(#pen)" transform="translate(-0.5 -0.5)">
<path d="M293.1,863.1 294.1,863.4 296.6,863.7 299.6,864.7 302.5,864.8 304.4,866.5 306.6,866.2 308.6,868.1 310.7,868.7 312.8,869.9 315.1,869.5 317.0,871.4 319.1,872.4 321.3,871.9 323.3,873.3 325.3,874.9 327.4,875.5 329.6,875.5 331.6,877.1 333.8,876.9 335.9,877.8 338.0,878.4 340.0,878.8 342.1,878.5 344.1,879.3 346.0,879.9 348.0,880.5 350.0,880.5 352.0,879.3 354.0,879.9 355.9,878.5 358.0,878.3 360.0,878.3 362.3,878.3 364.4,877.0 366.7,875.9 369.0,875.6 371.2,874.3 373.3,873.8 375.5,873.8 377.5,872.0 379.7,871.4 381.6,869.5 383.8,869.2 385.4,866.9 387.4,866.8 389.2,865.2 390.9,863.9 392.8,862.9 394.5,861.4 396.2,859.9 398.1,859.2 399.9,857.9 401.6,856.3 403.5,855.6 405.1,853.5 407.0,852.7 408.8,851.6 410.5,850.7 412.0,849.4 413.4,847.2 414.9,845.7 416.7,845.6 418.2,844.2 419.8,843.0 421.1,840.8 422.8,839.8 424.5,839.3 426.0,837.8 427.7,837.0 429.0,834.8 430.7,834.1 432.1,832.1 433.7,830.9 435.4,829.8 436.7,827.7 438.6,827.0 440.2,825.6 441.6,823.4 443.1,821.6 444.5,819.8 446.4,819.2 447.7,816.9 449.5,816.3 450.8,813.9 452.5,812.8 454.2,811.7 455.5,809.6 457.3,808.8 458.9,807.3 460.2,805.1 461.8,803.7 463.4,802.4 464.9,800.6 466.7,799.8 468.0,797.6 469.6,796.2 471.3,795.0 473.0,794.0 474.4,792.1 475.7,789.7 477.3,788.2 478.8,786.5 480.6,785.7 482.3,784.5 483.8,782.6 485.6,781.5 487.2,779.5 489.1,778.6 490.8,777.0 492.6,775.7 494.4,774.8 496.3,774.2 498.1,772.9 499.8,771.3 501.6,769.9 503.4,768.8 505.3,767.8 507.0,766.7 508.9,766.2 510.7,764.2 512.6,763.2 514.6,762.6 516.6,761.5 518.8,760.6 520.4,759.8 522.1,758.7 523.7,757.2 525.6,756.8 527.5,755.8 529.3,754.3 531.3,753.3 533.5,753.4 535.5,751.6 537.8,751.5 540.0,751.0 541.7,750.1 543.5,749.1 545.3,748.1 547.3,748.1 549.3,748.5 551.3,747.2 553.3,746.3 555.4,746.9 557.4,745.4 559.5,744.7 561.6,743.9 563.7,744.1 565.8,743.7 567.9,743.6 569.8,742.0 571.8,741.6 573.9,742.8 575.6,741.0 577.5,741.4 579.7,740.0 581.9,740.0 584.0,740.1 586.0,740.4 588.0,740.4 590.0,739.4 592.0,740.0 594.0,739.1 596.0,738.1 598.1,739.1 600.2,738.1 602.5,739.0 604.4,737.5 606.4,737.8 608.4,737.8 610.5,737.8 612.6,737.3 614.7,737.5 616.9,737.0 619.1,737.2 621.2,737.7 623.4,738.1 625.6,737.5 627.8,738.0 629.9,736.7 632.0,736.2 634.1,736.5 636.1,736.4 638.1,737.5 640.0,737.2 642.2,737.7 644.3,737.3 646.3,736.7 648.3,736.9 650.2,736.9 652.1,736.3 654.0,737.4 656.0,738.0 658.1,737.5 660.2,737.5 662.5,737.4 665.0,737.8 666.6,738.3 668.2,737.8 669.9,736.9 671.7,737.5 673.5,738.3 675.3,737.2 677.2,738.5 679.1,737.7 681.1,739.0 683.1,737.4 685.1,738.9 687.2,738.4 689.2,738.6 691.3,738.8 693.4,739.5 695.6,738.0 697.7,738.0 699.9,739.5 702.0,740.0 704.2,739.2 706.4,739.1 708.5,739.0 710.7,739.3 712.8,739.1 715.0,739.7 717.1,740.5 719.2,740.8 721.3,739.5 723.4,739.9 725.5,740.7 727.5,740.9 729.5,740.9 731.6,739.9 733.6,741.4 735.8,740.4 737.8,741.3 740.0,740.9 742.1,741.5 744.3,740.8 746.4,742.4 748.5,742.6 750.7,743.0 752.8,742.2 755.0,742.7 757.1,742.6 759.3,742.2 761.4,742.2 763.5,742.8 765.5,743.8 767.6,744.2 769.6,743.8 771.7,743.1 773.7,744.1 775.6,744.6 777.6,743.8 779.5,744.6 781.3,744.1 783.1,744.8 784.9,745.5 786.7,744.7 788.4,744.8 790.0,745.6 792.3,744.9 794.5,744.5 796.6,746.2 798.6,745.6 800.5,745.7 802.3,746.3 804.2,745.6 806.0,745.4 807.9,745.6 809.7,745.4 811.7,745.1 813.7,746.6 815.8,745.8 818.0,746.3 819.7,746.6 821.5,746.4 823.3,746.6 825.2,747.1 827.1,747.4 829.0,747.5 831.0,747.0 832.9,746.3 834.9,747.5 837.0,747.2 839.0,746.8 841.1,747.0 843.1,747.8 845.2,747.7 847.3,747.5 849.4,748.0 851.5,748.2 853.6,748.3 855.7,747.6 857.8,747.6 859.8,748.7 861.9,748.5 864.0,747.9 866.0,747.9 868.0,749.6 870.0,749.0 872.0,748.9 874.1,749.4 876.1,749.9 878.2,750.0 880.3,748.5 882.3,748.6 884.4,750.5 886.5,750.0 888.6,748.9 890.6,749.5 892.7,750.4 894.8,750.1 896.8,750.8 898.8,751.2 900.9,751.2 902.9,750.8 904.8,751.4 906.8,751.6 908.7,751.4 910.7,750.7 912.5,750.7 914.4,751.0 916.2,750.9 918.0,751.3 920.3,750.6 922.5,752.0 924.7,752.3 926.9,751.3 929.0,751.4 931.0,752.2 933.1,752.1 935.1,752.5 937.1,752.4 939.1,752.2 941.1,751.5 943.1,752.0 945.1,751.9 947.2,752.4 949.3,752.3 951.3,751.9 953.4,753.4 955.5,752.9 957.5,753.0 959.6,752.1 961.6,752.6 963.7,753.5 965.7,753.1 967.8,753.1 969.9,753.2 972.0,752.9 974.1,753.8 976.2,752.5 978.3,753.2 980.5,754.0 982.5,753.4 984.5,752.5 986.6,752.3 988.6,752.5 990.7,754.0 992.7,752.6 994.8,753.2 996.9,753.1 999.0,753.0 1001.1,753.3 1003.3,753.5 1005.4,753.0 1007.5,753.2 1009.6,754.0 1011.7,752.6 1013.8,752.8 1015.9,753.6 1018.0,752.4 1020.1,753.5 1022.2,753.9 1024.3,753.0 1026.5,753.3 1028.6,752.8 1030.8,752.3 1032.9,753.7 1035.1,752.8 1037.2,753.4 1039.4,752.7 1041.5,752.8 1043.6,752.3 1045.6,752.5 1047.7,752.5 1049.7,753.2 1051.7,753.0 1053.6,753.3 1055.5,752.4 1057.8,751.7 1060.0,752.0 1062.1,751.7 1064.2,753.1 1066.3,752.0 1068.3,753.0 1070.3,752.0 1072.4,752.7 1074.4,753.1 1076.4,751.5 1078.4,751.6 1080.5,752.1 1082.6,751.4 1084.7,751.9 1086.7,751.5 1088.8,751.7 1090.9,751.4 1093.0,751.5 1095.1,752.0 1097.2,751.2 1099.3,751.8 1101.3,751.2 1103.4,751.6 1105.5,751.7 1107.6,751.6 1109.7,751.5 1111.9,751.2 1114.0,750.7 1116.1,750.8 1118.2,750.6 1120.4,750.0 1122.4,749.7 1124.5,749.9 1126.6,750.0 1128.6,749.1 1130.5,749.2 1132.7,748.0 1134.9,748.4 1136.9,747.2 1139.0,747.1 1141.1,747.2 1143.1,746.4 1145.2,746.5 1147.2,745.0 1149.3,745.1 1151.3,744.1 1153.5,744.1 1155.6,743.6 1157.8,743.9 1159.8,743.0 1162.0,742.9 1164.1,743.1 1166.0,741.7 1168.0,741.3 1170.1,742.2 1172.0,742.0 1173.9,741.6 1175.8,740.1 1177.7,740.6 1179.7,739.7 1181.9,740.4 1183.8,739.3 1185.7,740.1 1187.7,738.3 1189.8,738.3 1191.9,739.1 1194.0,737.7 1196.2,737.6 1198.5,737.5 1200.8,736.8 1203.1,737.2 1205.5,736.7 1207.4,737.1 1209.3,736.3 1211.2,736.1 1213.3,736.0 1215.3,735.2 1217.4,735.5 1219.4,734.6 1221.6,735.7 1223.8,735.5 1225.9,734.2 1228.0,734.4 1230.2,733.1 1232.3,732.9 1234.5,732.8 1236.7,732.8 1238.8,733.3 1240.9,732.1 1243.0,731.5 1245.0,732.2 1247.0,731.9 1248.9,730.7 1250.9,729.9 1252.9,730.2 1254.9,730.8 1256.8,729.4 1258.8,728.6 1260.8,728.6 1262.8,729.0 1264.7,727.5 1266.8,728.5 1268.7,727.6 1270.7,727.5 1272.6,726.0 1274.6,725.7 1276.6,725.8 1278.5,725.3 1280.5,725.2 1282.5,724.8 1284.4,723.3 1286.6,724.4 1288.5,722.9 1290.5,722.3 1292.5,721.6 1294.6,721.2 1296.7,721.6 1298.6,720.1 1300.7,720.8 1302.6,718.9 1304.6,718.4 1306.6,718.5 1308.6,718.2 1310.5,717.2 1312.5,717.2 1314.3,715.9 1316.2,716.0 1318.0,715.2 1320.1,715.0 1322.2,714.1 1324.3,712.7 1326.4,711.6 1328.4,710.3 1330.6,710.0 1332.6,708.7 1334.6,707.6 1336.5,706.9 1338.3,705.5 1340.2,705.5 1341.7,703.6 1343.2,702.7 1344.7,702.3 1346.0,701.8 1348.3,699.6 1350.3,698.5 1352.2,697.2 1354.3,697.6 1356.2,695.9 1358.4,695.6 1360.4,695.9 1362.5,695.2 1364.5,693.3 1366.8,692.6 1368.9,691.5 1371.0,690.2 1372.7,688.4 1374.7,688.5 1376.3,686.6 1378.0,685.2 1379.9,684.8 1381.6,683.1 1383.6,683.2 1385.5,680.9 1387.7,679.6 1389.9,679.2 1392.2,678.7 1394.1,676.9 1396.0,676.1 1398.0,674.3 1399.9,673.1 1401.7,671.5 1403.5,670.1 1404.6,667.8 1405.9,665.9 1407.3,664.1 1408.7,662.4 1409.6,659.9 1411.0,658.6 1412.5,656.7 1414.3,656.4 1416.1,655.7 1418.1,654.1 1420.4,653.0 1422.4,651.7 1423.9,650.2 1425.2,648.6 1425.9,646.1 1426.4,644.2 1426.7,642.1 1426.5,639.7 1427.3,637.6 1428.0,635.5 1429.3,633.8 1430.4,631.5 1431.6,629.8 1432.3,627.5 1432.5,625.2 1432.9,623.0 1432.8,620.7 1433.4,618.6 1434.6,617.0 1436.0,615.2 1437.3,613.4 1438.4,612.9 1441.0,614.9 1442.7,613.3 1444.8,611.4 1446.1,609.9 1447.4,608.0 1448.5,605.7 1449.7,603.7 1451.2,602.1 1452.7,600.3 1454.4,599.1 1455.8,596.9 1457.5,595.8 1459.1,595.0 1460.7,593.9 1462.3,592.6 1463.5,590.8 1464.6,588.7 1466.0,587.3 1467.4,585.9 1468.4,583.4 1469.6,581.8 1470.9,580.4 1471.9,578.1 1473.3,576.8 1474.8,575.9 1476.7,574.6 1478.9,573.9 1481.1,572.4 1483.5,572.3 1485.4,570.9 1487.5,570.2 1489.6,569.9 1491.6,568.3 1493.4,566.9 1495.5,566.2 1497.4,565.3 1499.0,562.9 1500.9,562.1 1503.2,562.0 1505.3,560.8 1507.3,560.1 1508.5,558.3 1509.9,557.2 1511.0,554.9 1512.7,553.6 1514.8,552.7 1516.6,550.5 1518.6,549.1 1520.2,547.7 1521.6,545.6 1523.0,543.5 1524.5,541.9 1526.2,540.5 1527.4,538.1 1528.9,536.5 1530.5,535.4 1532.0,533.8 1533.4,532.0 1535.2,531.1 1536.6,529.1 1538.3,528.1 1539.7,526.2 1541.3,524.6 1542.7,522.5 1544.5,521.7 1545.9,519.5 1547.7,519.0 1549.1,516.7 1550.8,515.8 1552.3,513.8 1553.8,512.0 1555.1,509.4 1556.9,508.2 1558.6,506.5 1560.2,505.0 1562.1,504.5 1564.1,504.0 1566.0,503.0 1568.1,501.8 1570.3,501.0 1572.6,501.3 1574.7,501.0 1577.1,500.1 1579.4,501.1 1581.6,501.4 1583.4,503.5 1585.5,504.0 1587.1,505.5 1588.5,507.6 1589.7,509.9 1591.3,511.6 1592.3,513.7 1593.9,515.9 1594.4,518.4 1595.7,520.0 1596.0,522.7 1596.8,524.5 1597.1,526.6 1597.6,528.7 1598.3,531.2 1599.1,533.8 1600.0,536.2 1600.6,538.2 1600.8,540.4 1600.8,542.7 1601.2,545.1 1601.8,546.9 1602.5,548.9 1603.0,551.2 1603.5,553.6 1604.5,555.3 1605.0,557.5 1605.4,559.7 1606.4,561.3 1606.5,563.6 1606.9,565.6 1607.7,567.4 1608.1,569.4 1607.9,571.5 1608.0,573.5 1608.4,575.5 1608.8,577.5 1609.4,579.6 1610.0,582.1 1610.8,584.5 1611.5,586.8 1612.5,588.8 1613.3,590.9 1613.7,593.3 1613.9,595.8 1614.6,597.9 1614.8,600.3 1616.1,602.7 1617.7,604.7 1617.9,606.9 1618.7,608.6 1619.0,610.8 1619.6,612.8 1620.1,614.8 1620.6,617.1 1621.5,619.0 1622.0,621.3 1623.2,622.9 1623.7,625.0 1624.4,627.3 1625.1,629.4 1625.7,631.6 1626.3,633.7 1626.9,636.0 1627.4,638.2 1628.0,640.5 1628.5,642.9 1630.1,644.2 1631.2,646.6 1632.3,649.1 1633.5,650.2 1634.0,652.6 1634.9,654.3 1635.7,656.4 1636.4,658.5 1636.9,660.9 1637.8,663.1 1638.7,665.3 1639.6,667.4 1640.3,669.5 1641.1,671.2 1643.8,673.5 1645.0,675.1 1646.0,677.7 1647.3,679.7 1648.6,681.7 1649.9,683.4 1651.2,685.0 1652.6,686.5 1653.9,688.3 1655.0,691.2 1656.8,692.5 1658.2,694.8 1659.8,696.8 1661.6,697.4 1663.0,699.6 1664.2,702.1 1665.8,703.9 1667.4,705.2 1669.5,706.2 1671.1,708.7 1673.0,710.0 1674.9,711.9 1676.9,712.1 1678.8,713.5 1680.6,715.4 1682.5,716.3 1684.3,717.8 1686.1,719.0 1688.1,719.3 1690.1,720.0 1692.1,722.1 1694.4,722.4 1696.5,724.1 1698.7,725.6 1700.9,726.0 1703.0,727.2 1705.3,727.7 1707.5,728.9 1709.3,730.3 1711.5,729.8 1713.3,731.8 1715.4,732.3 1717.5,733.0 1719.5,733.5 1721.5,735.0 1723.6,735.6 1725.8,735.4 1727.9,736.0 1730.0,736.8 1732.1,737.7 1734.1,738.6 1736.3,737.9 1738.3,739.3 1740.4,739.5 1742.6,739.2 1744.6,740.5 1746.7,740.8 1748.7,742.3 1750.9,741.8 1753.0,741.9 1755.0,743.5 1757.1,743.6 1759.1,744.3 1761.2,744.9 1763.3,745.4 1765.5,744.4 1767.5,745.1 1769.6,745.7 1771.6,746.9 1773.7,746.7 1775.8,746.5 1777.9,747.9 1780.0,747.4 1782.0,748.5 1784.1,747.7 1786.2,748.8 1788.2,749.2 1790.3,748.8 1792.5,748.6 1794.8,749.4 1797.6,749.7 1800.4,749.7 1803.1,750.3 1805.4,749.5 1806.9,749.7 1807.5,750.0"/>
<path d="M293.8,728.0 293.9,728.2 294.2,728.7 294.9,727.8 295.6,728.4 296.5,729.3 297.6,730.5 299.1,729.9 300.5,730.5 302.0,732.3 303.9,732.5 305.7,733.9 307.8,733.9 309.9,734.6 311.9,736.8 314.2,737.6 316.5,738.7 318.9,739.4 321.3,740.5 323.7,742.0 326.1,743.4 328.6,744.3 331.0,745.2 333.6,745.0 335.8,747.7 338.2,748.6 340.5,749.6 342.8,750.0 344.8,751.5 347.1,751.0 348.9,753.1 350.7,753.8 352.4,754.3 354.6,754.9 356.7,756.2 358.8,756.8 361.0,757.1 363.1,757.2 365.2,758.1 367.2,759.3 369.1,760.6 371.1,760.9 373.1,761.2 375.0,762.5 377.0,763.1 379.0,762.4 380.8,764.0 382.7,763.8 384.6,764.3 386.4,764.7 388.2,765.8 390.0,766.4 392.2,766.5 394.3,766.5 396.3,767.2 398.2,768.1 400.2,768.0 402.1,769.1 404.0,769.4 406.0,768.8 408.0,770.1 410.2,770.5 412.5,770.1 415.0,770.0 416.6,770.1 418.3,770.4 420.0,770.6 421.7,771.0 423.5,771.0 425.3,771.3 427.2,772.5 429.1,771.6 431.1,773.0 433.1,772.4 435.1,772.5 437.1,772.4 439.2,773.4 441.3,773.8 443.4,773.6 445.5,773.8 447.7,773.9 449.8,774.6 452.0,773.8 454.2,774.9 456.3,774.9 458.5,775.2 460.7,775.0 462.8,775.3 465.0,774.9 467.1,775.2 469.2,775.8 471.3,775.2 473.4,774.9 475.5,775.2 477.5,775.9 479.5,776.0 481.5,775.8 483.6,775.2 485.6,776.0 487.6,776.3 489.6,776.4 491.6,776.6 493.6,775.7 495.6,777.4 497.7,776.3 499.7,776.1 501.7,776.8 503.7,776.7 505.7,776.5 507.7,777.4 509.8,776.2 511.8,776.6 513.8,776.6 515.8,776.7 517.8,777.9 519.8,778.0 521.9,776.6 523.9,777.4 525.9,776.8 527.9,776.8 529.9,776.8 531.9,777.4 533.9,778.0 536.0,776.6 538.0,777.7 540.0,776.8 542.0,776.8 544.0,777.0 546.0,777.4 548.1,777.9 550.1,777.5 552.1,778.4 554.1,778.5 556.1,777.7 558.1,776.8 560.2,778.3 562.2,778.2 564.2,776.8 566.2,777.8 568.2,777.2 570.2,777.4 572.3,776.9 574.3,777.6 576.3,778.3 578.3,777.5 580.3,778.1 582.3,778.2 584.4,776.9 586.4,777.7 588.4,778.3 590.4,777.7 592.4,776.7 594.4,778.4 596.5,778.4 598.5,777.7 600.5,777.6 602.5,776.9 604.5,777.5 606.5,778.0 608.5,777.5 610.6,777.7 612.6,777.0 614.6,778.0 616.6,777.1 618.6,776.6 620.6,777.2 622.7,777.5 624.7,776.9 626.7,777.3 628.7,776.5 630.7,778.0 632.7,776.8 634.8,777.5 636.8,777.9 638.8,776.3 640.8,777.6 642.8,776.5 644.8,776.3 646.9,777.3 648.9,777.4 650.9,777.3 652.9,777.2 654.9,777.2 656.9,776.7 659.0,777.5 661.0,777.3 663.0,777.4 665.0,776.9 667.0,777.5 669.0,776.7 671.0,777.4 673.1,776.6 675.1,776.9 677.1,776.5 679.1,777.0 681.1,777.9 683.1,776.5 685.2,777.8 687.2,777.7 689.2,777.7 691.2,777.3 693.2,776.6 695.2,777.2 697.3,777.5 699.3,777.6 701.3,777.6 703.3,776.7 705.3,778.0 707.3,777.5 709.4,777.6 711.4,777.8 713.4,777.6 715.4,778.6 717.4,777.5 719.4,777.8 721.5,777.5 723.5,777.6 725.5,778.7 727.5,777.3 729.5,778.4 731.6,778.7 733.6,778.8 735.7,778.6 737.9,777.6 740.0,777.6 742.1,778.9 744.2,779.0 746.4,777.8 748.5,778.7 750.7,778.6 752.8,779.2 755.0,779.2 757.1,779.5 759.2,779.1 761.3,779.9 763.5,778.7 765.5,780.2 767.6,779.0 769.6,779.9 771.7,779.3 773.7,779.2 775.6,780.3 777.6,779.7 779.5,780.9 781.3,779.6 783.2,779.9 784.9,780.1 786.7,780.0 788.4,779.7 790.0,779.9 792.3,779.9 794.5,780.2 796.5,780.2 798.4,781.1 800.3,780.7 802.1,781.4 803.9,780.7 805.6,780.6 807.5,781.3 809.3,781.1 811.3,781.4 813.4,781.7 815.6,781.7 818.0,782.2 819.6,781.9 821.2,782.2 823.0,781.8 824.8,781.7 826.6,781.5 828.6,781.6 830.5,782.8 832.5,782.7 834.6,783.1 836.7,783.0 838.9,783.6 841.1,783.4 843.3,782.7 845.5,782.5 847.8,783.8 850.0,783.6 852.3,784.3 854.6,782.9 856.9,783.3 859.2,784.2 861.4,784.3 863.7,784.2 865.9,784.9 868.2,785.0 870.4,783.7 872.5,784.9 874.7,784.1 876.7,785.1 878.8,785.2 880.8,784.8 882.7,784.6 884.6,784.4 886.4,785.6 888.2,784.5 889.9,785.0 891.5,785.2 893.0,785.9 895.5,785.2 897.9,785.4 900.1,785.1 902.1,785.4 904.1,786.3 906.0,786.4 907.9,785.5 909.8,785.6 911.7,786.1 913.7,785.6 915.8,786.0 918.0,786.1 919.9,785.9 921.8,785.2 923.8,786.7 925.8,785.0 927.9,785.5 929.9,786.4 932.0,786.7 934.2,785.8 936.3,786.9 938.4,786.8 940.6,785.8 942.7,786.7 944.9,786.1 947.0,786.3 949.2,786.1 951.3,787.5 953.4,786.2 955.5,787.6 957.6,786.0 959.7,787.4 961.8,787.3 964.0,787.8 966.1,786.6 968.3,787.4 970.4,786.8 972.6,787.1 974.7,787.6 976.9,786.5 979.0,788.2 981.1,788.1 983.1,787.3 985.2,787.0 987.2,787.5 989.2,786.7 991.1,788.0 993.0,787.7 995.3,787.0 997.5,786.8 999.6,788.0 1001.7,787.0 1003.8,788.3 1005.8,787.5 1007.8,787.5 1009.9,787.7 1011.9,787.8 1013.9,787.9 1015.9,787.1 1018.0,787.1 1020.1,788.0 1022.2,786.6 1024.3,787.7 1026.3,786.7 1028.4,785.9 1030.5,785.8 1032.6,786.5 1034.7,786.3 1036.8,786.4 1038.8,785.7 1040.9,785.5 1043.0,786.7 1045.1,786.2 1047.2,785.6 1049.3,786.2 1051.3,785.8 1053.4,785.8 1055.5,786.1 1057.6,785.2 1059.7,785.0 1061.7,785.2 1063.8,785.6 1065.9,784.2 1068.0,785.3 1070.1,785.0 1072.2,784.4 1074.3,784.5 1076.5,784.7 1078.6,785.3 1080.7,784.3 1082.8,784.2 1084.9,784.7 1087.0,784.9 1089.0,784.5 1091.0,784.8 1093.0,784.2 1095.2,784.9 1097.3,783.5 1099.5,784.3 1101.5,784.2 1103.5,782.8 1105.6,783.2 1107.6,782.4 1109.7,782.9 1111.7,782.1 1113.8,782.7 1115.9,782.5 1118.0,781.6 1120.1,780.9 1122.2,781.2 1124.3,781.9 1126.3,780.6 1128.4,780.1 1130.5,780.0 1132.6,781.2 1134.7,780.7 1136.7,779.1 1138.8,779.4 1141.0,779.7 1143.0,778.0 1145.1,778.6 1147.2,778.0 1149.2,777.4 1151.4,777.9 1153.5,777.7 1155.6,776.6 1157.7,776.4 1159.9,775.9 1162.0,776.3 1164.0,774.7 1166.0,774.4 1168.0,774.4 1170.1,775.4 1171.9,774.6 1173.7,774.1 1175.6,774.4 1177.5,774.4 1179.6,773.6 1181.9,773.3 1183.5,773.6 1185.2,773.0 1186.9,772.8 1188.8,772.9 1190.7,771.8 1192.6,771.2 1194.7,771.7 1196.8,771.8 1198.9,771.3 1201.0,771.7 1203.1,770.3 1205.3,770.4 1207.4,769.7 1209.6,769.3 1211.8,770.0 1213.8,768.5 1216.0,768.9 1218.0,767.9 1219.9,767.8 1222.0,768.6 1224.0,767.5 1226.0,767.9 1228.0,766.7 1230.1,766.8 1232.1,765.8 1234.2,766.3 1236.2,765.7 1238.3,765.4 1240.3,765.0 1242.2,764.3 1244.2,763.8 1246.2,763.9 1248.1,762.7 1250.0,762.8 1251.9,761.7 1253.7,761.1 1255.5,761.2 1257.6,760.6 1259.7,760.3 1261.7,760.3 1263.5,758.3 1265.5,758.8 1267.4,758.2 1269.3,757.4 1271.2,757.4 1272.9,755.6 1274.8,755.4 1276.7,754.4 1278.6,754.0 1280.6,754.3 1282.4,752.7 1284.4,753.1 1286.3,752.1 1288.3,751.7 1290.0,749.7 1292.1,749.9 1294.0,749.5 1296.0,749.0 1297.9,748.2 1299.8,747.6 1301.6,745.8 1303.6,745.6 1305.4,744.3 1307.5,744.7 1309.5,744.2 1311.5,743.6 1313.5,743.0 1315.3,740.9 1317.5,741.4 1319.4,740.9 1321.3,739.2 1323.3,739.3 1325.2,738.3 1326.9,736.9 1328.8,736.9 1330.6,736.7 1332.7,735.8 1334.7,734.5 1336.7,733.8 1338.7,732.8 1340.5,731.7 1342.2,729.9 1344.1,729.2 1345.9,728.3 1348.3,728.4 1350.4,727.0 1352.4,725.4 1354.6,725.1 1356.6,723.8 1358.5,722.8 1360.7,721.6 1362.9,721.4 1365.1,720.9 1367.0,719.9 1368.4,718.5 1369.7,716.6 1370.1,713.7 1370.8,710.7 1372.4,709.6 1374.5,709.8 1376.8,709.2 1379.0,708.7 1380.9,707.0 1382.8,706.5 1384.6,705.3 1386.4,704.1 1388.1,702.7 1389.8,701.3 1390.9,699.3 1392.5,698.3 1393.9,697.1 1395.2,695.4 1396.2,693.0 1397.6,692.0 1398.3,689.5 1400.1,688.6 1401.1,686.2 1402.3,684.4 1403.3,682.1 1404.4,680.7 1405.6,679.4 1406.5,677.6 1407.4,675.7 1408.5,673.7 1409.6,672.0 1411.0,670.5 1412.1,668.2 1413.5,666.3 1415.0,664.9 1416.2,663.2 1417.3,661.3 1418.4,658.9 1420.0,657.7 1421.0,655.4 1422.1,653.4 1423.5,652.2 1424.7,650.7 1425.9,648.8 1427.3,647.6 1428.7,646.0 1430.3,644.5 1431.9,643.3 1433.5,642.6 1435.3,641.5 1436.9,640.5 1438.5,638.6 1439.9,637.6 1441.0,635.5 1442.3,633.7 1443.5,631.7 1444.6,629.7 1445.8,628.3 1446.7,626.3 1448.0,625.1 1448.7,622.9 1449.7,621.2 1451.0,619.5 1452.3,618.0 1453.5,616.4 1454.9,615.3 1455.9,612.7 1457.1,610.8 1458.3,608.3 1459.9,606.9 1461.5,604.9 1463.3,603.6 1465.0,601.8 1466.0,599.4 1467.3,597.4 1468.9,596.4 1470.0,594.3 1470.9,592.4 1472.2,590.6 1472.9,588.5 1473.7,586.5 1474.2,583.8 1474.8,581.1 1476.0,579.9 1477.9,580.2 1479.9,582.0 1481.3,583.8 1483.0,584.9 1484.8,586.1 1486.6,586.9 1488.7,586.8 1490.8,585.3 1493.0,585.0 1494.6,583.0 1496.5,581.9 1498.3,580.7 1499.6,578.3 1500.8,575.9 1502.0,574.3 1503.1,572.7 1504.4,571.3 1505.1,569.2 1505.9,567.4 1507.0,565.0 1507.8,562.6 1508.7,560.3 1509.7,558.4 1511.0,557.1 1512.1,554.5 1513.9,554.0 1515.4,552.3 1517.0,550.5 1518.6,549.0 1520.0,546.6 1521.7,545.2 1523.7,544.4 1525.2,542.3 1527.2,541.6 1529.0,539.5 1531.0,538.6 1532.8,537.3 1534.6,536.0 1536.6,536.0 1538.6,535.1 1540.3,533.7 1542.4,534.3 1544.3,532.5 1546.4,533.3 1548.5,533.2 1550.5,533.7 1552.7,533.8 1554.9,533.8 1557.0,535.4 1559.2,534.6 1561.0,536.3 1562.8,536.8 1564.4,538.3 1565.8,540.3 1567.1,542.0 1568.7,543.1 1569.5,545.5 1571.0,546.9 1572.2,548.6 1572.7,551.1 1573.9,552.7 1574.9,554.7 1575.6,557.0 1576.4,559.1 1577.1,561.5 1578.2,563.3 1579.0,565.4 1579.5,567.8 1580.7,569.3 1581.1,571.6 1581.8,573.5 1582.4,575.6 1582.9,577.8 1583.6,579.9 1584.0,582.0 1584.4,584.2 1585.3,586.0 1586.1,587.9 1586.8,589.9 1587.2,592.3 1587.8,594.3 1588.4,596.3 1589.0,598.6 1589.9,600.7 1590.7,602.9 1591.7,604.7 1592.3,607.0 1593.0,609.0 1593.5,611.2 1593.8,613.5 1594.3,615.5 1594.7,617.5 1595.0,619.6 1595.6,621.5 1595.8,623.9 1596.4,625.7 1596.6,627.8 1597.1,629.9 1597.8,631.9 1598.0,634.2 1598.3,636.5 1599.0,638.4 1599.2,640.6 1599.6,642.6 1600.1,644.9 1600.8,646.9 1601.7,648.6 1601.9,651.1 1603.0,652.7 1603.4,655.1 1604.2,656.9 1604.7,659.3 1605.3,661.7 1606.3,663.7 1607.1,665.7 1607.5,668.0 1608.2,669.6 1608.8,670.7 1610.0,672.5 1610.5,673.9 1611.1,675.9 1611.9,678.0 1612.4,680.5 1613.3,682.6 1613.7,685.1 1614.7,687.1 1615.3,689.5 1615.9,691.9 1616.8,694.0 1617.7,696.1 1618.4,698.4 1618.8,701.0 1620.0,702.8 1620.2,705.6 1621.3,707.4 1622.0,710.0 1623.3,711.6 1624.2,713.9 1624.8,716.5 1626.0,718.3 1626.6,720.9 1627.6,723.1 1628.9,724.7 1629.6,726.9 1630.5,728.8 1631.7,730.2 1632.6,732.4 1633.6,734.0 1634.7,736.1 1636.1,737.5 1637.3,739.7 1638.7,741.4 1640.2,742.7 1641.7,744.5 1643.2,746.3 1644.7,748.3 1646.3,749.9 1647.6,751.7 1649.0,753.4 1650.5,755.0 1652.0,756.7 1653.6,758.1 1655.2,759.5 1656.5,760.9 1657.9,762.7 1659.0,765.0 1660.6,766.1 1662.0,767.6 1663.5,768.9 1665.0,770.0 1666.6,772.0 1668.4,772.9 1670.2,774.1 1672.0,774.8 1673.8,775.8 1675.5,777.2 1677.2,779.0 1679.1,778.7 1680.8,780.2 1682.5,781.1 1684.4,782.6 1686.4,783.1 1688.1,785.1 1690.0,786.4 1691.8,787.7 1693.5,789.5 1695.5,790.2 1697.6,790.6 1699.5,791.7 1701.3,793.5 1703.2,794.9 1705.3,795.6 1707.5,796.0 1709.5,797.2 1711.6,797.8 1713.6,798.8 1715.8,799.6 1717.9,800.6 1720.0,801.5 1722.1,801.9 1724.3,802.4 1726.3,804.5 1728.5,804.5 1730.5,805.3 1732.6,805.6 1734.6,806.3 1736.6,807.5 1738.5,807.9 1740.5,808.9 1742.6,809.4 1744.5,810.3 1746.6,810.9 1748.7,811.1 1750.8,812.2 1752.9,813.1 1755.0,813.8 1757.0,814.2 1759.2,814.0 1761.3,813.9 1763.4,814.0 1765.4,815.2 1767.5,815.5 1769.6,815.6 1771.6,816.7 1773.7,816.8 1775.8,817.3 1778.0,816.3 1780.0,817.6 1782.1,818.0 1784.1,818.9 1786.3,817.8 1788.4,818.3 1790.4,819.3 1792.5,820.2 1794.6,820.0 1796.7,819.3 1798.8,819.8 1800.8,821.0 1802.9,821.2 1805.0,821.3 1807.0,822.3 1809.1,822.4 1811.2,822.8 1813.3,821.4 1815.3,823.0 1817.5,822.8 1819.8,823.5 1822.6,822.6 1825.4,822.9 1828.1,823.0 1830.4,823.4 1831.9,822.9 1832.5,823.8"/>
<path d="M293.1,833.8 293.1,832.7 293.6,830.3 294.3,827.5 294.8,824.8 295.7,823.0 297.0,821.6 298.0,819.8 299.0,817.9 299.8,815.9 300.3,813.6 301.2,811.7 301.5,809.1 302.6,807.6 303.5,805.6 304.2,803.5 305.2,801.7 306.3,800.0 307.5,798.5 308.8,797.2 310.0,795.4 311.1,793.4 312.9,793.0 314.3,790.6 316.2,789.9 318.1,789.1 320.2,790.4 322.4,789.4 325.0,788.8 326.6,788.8 328.3,789.3 330.2,788.9 332.2,789.3 334.3,789.0 336.4,790.0 338.6,789.5 340.9,789.6 343.2,790.2 345.6,788.8 347.9,790.3 350.2,789.4 352.5,788.9 354.5,790.4 356.5,790.1 358.5,789.4 360.6,789.4 362.7,789.8 364.9,789.1 367.0,788.3 369.2,789.3 371.4,789.2 373.5,787.6 375.7,789.0 377.9,788.7 380.0,788.1 382.1,788.8 384.1,787.4 386.1,787.6 388.1,788.4 390.0,787.7 392.3,787.6 394.4,787.8 396.5,787.8 398.6,786.7 400.6,787.0 402.6,787.4 404.6,787.0 406.6,787.0 408.7,787.3 410.7,785.9 412.8,786.9 415.0,787.2 417.0,785.7 419.0,786.8 421.0,786.2 423.1,787.1 425.2,786.6 427.3,786.9 429.3,785.7 431.5,786.3 433.6,785.1 435.7,786.6 437.8,786.3 439.9,785.6 442.1,785.8 444.2,785.6 446.3,786.3 448.3,785.1 450.4,785.1 452.6,785.1 454.7,784.6 456.8,785.0 458.9,784.7 461.0,784.9 463.1,785.4 465.3,785.5 467.3,785.2 469.4,784.7 471.5,784.8 473.5,784.7 475.5,785.5 477.5,785.3 479.7,784.8 481.8,784.7 483.9,785.3 486.0,784.6 488.1,784.3 490.2,785.6 492.2,785.7 494.3,784.4 496.3,785.8 498.4,786.0 500.4,785.8 502.5,785.9 504.6,786.1 506.7,786.2 508.7,784.7 510.8,785.7 512.9,785.1 514.9,786.5 517.0,785.1 519.1,786.2 521.2,786.7 523.3,785.5 525.4,786.1 527.5,786.6 529.5,786.7 531.4,785.8 533.4,786.3 535.3,786.6 537.2,787.3 539.2,786.2 541.1,786.6 543.1,787.8 545.2,786.7 547.2,787.0 549.4,787.3 551.6,786.8 553.9,787.2 555.6,787.2 557.4,786.8 559.2,787.6 561.1,788.0 563.0,787.6 564.9,787.7 566.8,788.1 568.8,788.8 570.7,789.6 572.8,788.4 574.8,789.7 576.9,789.5 578.9,790.1 581.1,789.3 583.2,789.9 585.3,789.3 587.4,789.9 589.6,790.5 591.7,790.4 593.9,791.5 596.0,791.2 598.2,791.6 600.4,790.6 602.5,791.9 604.4,791.0 606.3,792.4 608.2,792.4 610.2,791.7 612.1,792.1 614.1,792.1 616.1,791.2 618.1,791.6 620.1,791.6 622.1,792.6 624.1,792.5 626.1,793.1 628.2,792.2 630.2,793.2 632.2,792.5 634.3,793.4 636.3,793.9 638.4,794.3 640.5,793.0 642.5,793.7 644.6,794.0 646.6,793.6 648.7,793.9 650.7,793.8 652.8,793.9 654.8,794.9 656.9,794.9 658.9,795.3 660.9,795.7 663.0,794.2 665.0,795.0 667.0,795.7 669.0,794.7 671.0,795.9 673.1,795.8 675.1,795.7 677.1,796.3 679.1,795.7 681.1,795.9 683.1,796.5 685.1,797.0 687.2,795.9 689.2,795.9 691.2,796.0 693.2,797.1 695.2,797.0 697.2,797.8 699.3,797.1 701.3,797.1 703.3,798.2 705.3,798.1 707.3,797.7 709.4,797.4 711.4,797.5 713.4,797.8 715.4,798.1 717.4,798.2 719.5,797.4 721.5,798.2 723.5,798.5 725.5,798.0 727.5,797.9 729.5,798.1 731.6,799.0 733.7,798.8 735.7,799.2 737.9,799.2 740.0,799.8 742.1,799.5 744.3,799.1 746.4,799.9 748.5,800.1 750.7,800.9 752.8,800.6 755.0,801.0 757.1,801.1 759.2,800.6 761.4,800.7 763.4,801.6 765.6,800.4 767.6,800.9 769.7,800.7 771.7,800.6 773.6,802.4 775.6,801.6 777.6,802.4 779.5,802.3 781.3,801.2 783.2,801.5 784.9,801.6 786.7,802.8 788.4,801.7 790.0,802.1 792.3,803.4 794.5,803.6 796.5,803.0 798.4,803.2 800.3,802.3 802.1,803.3 803.8,804.0 805.6,804.1 807.5,802.4 809.3,803.8 811.3,803.3 813.4,804.3 815.6,803.8 818.0,803.9 819.6,804.6 821.2,803.2 823.0,803.9 824.7,804.9 826.6,803.6 828.5,805.0 830.5,804.4 832.5,804.7 834.6,804.3 836.7,804.3 838.9,804.4 841.1,805.4 843.3,805.1 845.5,804.4 847.8,805.7 850.0,805.4 852.3,804.6 854.6,805.4 856.9,805.1 859.2,806.2 861.4,806.5 863.7,806.6 866.0,805.5 868.2,806.3 870.4,806.7 872.5,806.6 874.7,805.9 876.8,805.7 878.8,805.8 880.8,806.1 882.7,806.0 884.6,806.2 886.4,807.7 888.2,806.3 889.9,807.6 891.5,807.1 893.0,807.4 895.5,806.3 897.9,807.1 900.1,807.2 902.1,807.9 904.1,806.9 906.0,806.9 907.9,807.2 909.8,808.0 911.7,806.7 913.7,807.3 915.8,808.3 918.0,807.3 919.9,807.1 921.8,807.0 923.8,807.1 925.8,808.1 927.9,807.0 929.9,808.0 932.0,807.8 934.1,808.2 936.3,807.6 938.4,807.5 940.6,808.0 942.7,808.1 944.9,807.6 947.0,807.4 949.2,807.2 951.3,808.5 953.4,808.2 955.5,807.8 957.6,808.9 959.7,808.4 961.8,807.6 963.8,807.6 965.9,808.6 968.0,809.1 970.1,808.0 972.2,808.5 974.3,808.7 976.3,809.5 978.4,809.0 980.5,809.8 982.6,808.7 984.7,809.6 986.7,810.0 988.8,808.5 990.9,809.4 993.0,809.3 995.1,809.4 997.2,809.2 999.3,809.2 1001.3,810.2 1003.4,809.3 1005.5,810.3 1007.6,809.9 1009.7,810.3 1011.7,810.3 1013.8,810.3 1015.9,810.0 1018.0,809.9 1020.1,809.4 1022.2,809.9 1024.2,810.3 1026.3,809.9 1028.4,810.3 1030.5,810.3 1032.6,810.4 1034.7,809.5 1036.7,810.2 1038.8,810.0 1040.9,810.0 1043.0,809.6 1045.1,809.5 1047.2,810.8 1049.3,809.8 1051.3,810.6 1053.4,811.1 1055.5,809.6 1057.6,810.0 1059.7,810.3 1061.7,810.7 1063.8,811.0 1065.9,810.5 1068.0,810.5 1070.1,809.4 1072.2,809.8 1074.3,811.0 1076.5,810.6 1078.6,809.7 1080.8,809.9 1082.9,809.6 1085.1,809.4 1087.2,809.6 1089.4,810.4 1091.5,810.6 1093.6,810.0 1095.6,810.0 1097.7,810.7 1099.7,810.4 1101.7,810.4 1103.6,809.8 1105.5,809.7 1107.8,810.3 1110.0,809.6 1112.2,809.1 1114.3,810.3 1116.5,810.1 1118.5,809.0 1120.6,810.1 1122.6,810.3 1124.6,809.6 1126.6,808.4 1128.6,809.7 1130.5,808.4 1132.7,808.4 1134.8,808.0 1136.9,807.6 1139.0,807.5 1141.1,807.6 1143.1,808.3 1145.2,807.7 1147.2,807.8 1149.3,807.4 1151.3,805.8 1153.5,806.8 1155.6,806.0 1157.7,805.0 1159.8,804.8 1161.9,804.2 1164.0,803.7 1166.0,803.8 1168.0,804.0 1170.4,803.2 1172.7,803.3 1175.0,804.3 1177.3,803.0 1179.5,802.6 1181.8,802.2 1183.8,801.5 1185.9,802.1 1188.0,801.7 1190.0,800.4 1192.1,799.5 1194.2,799.2 1196.1,797.9 1198.1,797.9 1199.9,796.3 1201.8,795.8 1203.6,794.9 1205.2,792.9 1206.9,791.8 1208.7,791.1 1210.6,790.5 1212.2,789.5 1213.6,787.2 1215.4,787.1 1216.7,784.7 1218.3,783.7 1220.0,782.8 1221.3,780.7 1222.9,779.6 1224.6,778.9 1226.3,778.1 1227.8,776.5 1229.3,774.9 1230.7,772.8 1232.3,771.8 1234.1,771.7 1235.4,769.7 1237.4,768.3 1239.4,767.3 1241.5,766.7 1243.5,766.1 1245.5,765.0 1247.4,765.7 1249.4,765.9 1251.4,767.0 1253.6,767.6 1255.8,767.9 1258.0,768.3 1260.1,769.0 1262.2,769.4 1264.3,770.3 1266.6,770.3 1268.7,772.1 1271.0,772.5 1273.3,772.1 1275.5,771.7 1277.6,773.2 1279.8,772.7 1281.9,773.2 1284.1,772.8 1286.2,773.2 1288.4,774.7 1290.7,773.7 1293.0,773.9 1294.9,774.3 1296.9,774.1 1298.9,774.3 1301.0,774.5 1303.1,774.7 1305.1,776.5 1307.3,775.9 1309.4,776.4 1311.5,776.9 1313.7,775.9 1315.9,775.9 1318.0,776.5 1320.0,775.5 1322.1,776.3 1324.2,775.2 1326.5,775.2 1328.7,776.2 1331.0,775.4 1333.2,774.5 1335.3,774.1 1337.4,773.1 1339.4,773.9 1341.3,773.5 1343.0,772.9 1344.6,773.3 1346.0,772.3 1348.4,772.6 1350.3,770.9 1352.2,771.1 1354.2,770.5 1356.3,770.1 1358.4,768.7 1360.3,768.0 1362.4,767.8 1364.6,767.3 1366.9,767.3 1369.0,766.3 1370.9,764.5 1373.0,763.3 1375.1,763.5 1376.9,761.8 1378.8,760.3 1381.1,760.6 1383.0,759.3 1385.0,757.6 1387.2,756.8 1389.4,756.5 1391.3,754.2 1393.4,753.3 1395.3,752.9 1397.2,751.9 1399.1,751.3 1400.6,748.7 1402.5,748.2 1404.2,746.8 1405.9,745.9 1408.2,745.1 1410.2,743.3 1412.3,742.4 1414.3,741.5 1416.0,739.9 1417.7,738.2 1419.3,736.7 1420.9,734.5 1422.5,734.1 1424.1,732.3 1425.9,731.4 1427.6,730.1 1429.3,728.6 1430.9,727.4 1433.3,727.4 1435.4,726.3 1437.2,724.8 1438.4,723.7 1439.3,721.7 1439.7,719.1 1440.4,717.0 1441.3,715.2 1442.1,713.5 1443.8,711.6 1446.1,711.0 1447.3,709.2 1449.1,708.4 1451.0,707.6 1452.7,705.2 1454.7,704.1 1456.7,702.7 1458.6,701.6 1460.2,700.6 1461.6,698.3 1463.3,697.1 1464.9,696.0 1466.7,695.6 1468.3,694.3 1469.6,692.3 1471.2,691.8 1472.6,689.5 1474.4,688.4 1475.9,686.9 1477.4,685.8 1478.4,683.6 1480.2,682.2 1481.2,679.7 1482.3,677.5 1482.9,675.5 1483.2,673.3 1483.8,671.2 1484.4,668.9 1484.7,667.1 1485.0,665.1 1485.4,663.0 1485.7,660.9 1486.6,659.1 1486.6,656.8 1487.1,654.9 1487.7,652.9 1488.3,650.9 1488.8,648.9 1489.0,646.7 1489.3,644.5 1489.5,642.4 1490.3,640.5 1490.5,638.1 1491.0,636.1 1491.6,634.1 1491.8,631.9 1492.2,630.0 1492.6,627.6 1492.5,625.0 1493.0,622.9 1493.4,621.0 1496.1,620.1 1497.7,620.2 1499.7,621.4 1501.8,621.6 1503.8,623.9 1506.1,623.7 1508.1,625.0 1510.2,624.3 1512.3,625.0 1514.4,624.7 1516.6,624.3 1518.6,624.2 1520.0,622.5 1521.1,620.8 1522.2,618.4 1524.6,617.3 1527.3,616.7 1529.4,615.4 1531.5,614.0 1533.4,612.0 1535.2,611.3 1536.7,609.5 1538.0,607.2 1539.9,606.7 1541.2,604.4 1542.8,603.3 1544.4,602.2 1545.9,600.9 1547.4,599.8 1548.8,598.7 1549.9,597.0 1551.1,595.3 1552.4,593.8 1553.4,591.7 1554.8,590.5 1556.0,588.8 1557.1,586.8 1558.7,586.2 1559.6,583.6 1561.1,582.7 1562.4,581.2 1563.6,579.6 1564.8,577.9 1566.1,576.6 1567.6,575.1 1569.3,573.7 1570.9,571.9 1573.2,572.1 1575.4,571.0 1577.4,570.7 1578.5,568.0 1579.9,566.7 1581.5,564.4 1583.4,561.8 1585.9,561.2 1588.5,560.3 1591.2,561.4 1593.7,561.0 1596.2,562.4 1598.9,563.1 1600.1,565.1 1601.4,566.9 1602.8,568.0 1604.0,569.6 1604.8,571.9 1605.7,573.9 1606.1,576.5 1607.3,578.4 1607.9,581.2 1608.7,583.8 1609.3,586.0 1610.3,587.9 1610.5,590.5 1611.2,592.5 1611.8,595.2 1612.8,597.5 1613.5,600.3 1614.5,602.0 1615.5,604.1 1616.1,606.5 1616.8,608.9 1617.3,611.4 1618.1,613.2 1618.6,615.2 1618.6,617.6 1619.5,619.4 1619.4,621.8 1620.2,623.6 1620.5,625.8 1620.6,628.1 1621.0,630.2 1621.8,632.1 1622.0,634.3 1622.6,636.1 1623.2,638.2 1623.5,640.3 1623.9,642.3 1624.4,644.3 1624.9,646.3 1625.8,648.6 1626.9,650.6 1627.8,652.8 1628.6,655.2 1629.9,656.6 1630.7,658.6 1631.4,660.9 1632.6,662.3 1633.6,664.3 1634.2,667.1 1635.5,668.6 1636.5,670.4 1637.6,672.6 1638.8,674.9 1639.9,676.3 1641.1,677.9 1642.5,679.5 1643.9,680.9 1645.4,682.7 1646.7,685.0 1648.2,687.2 1650.2,688.2 1651.4,690.4 1653.1,691.3 1654.6,692.7 1655.9,695.2 1657.7,695.7 1659.1,697.5 1660.6,698.9 1662.1,700.5 1663.4,702.7 1664.9,704.3 1666.7,706.0 1668.6,707.5 1670.7,707.9 1672.3,710.7 1674.5,711.1 1676.4,712.9 1678.1,715.2 1679.9,716.6 1681.6,718.5 1683.3,719.6 1685.2,720.7 1686.5,722.6 1687.9,724.3 1689.5,725.5 1691.3,726.2 1693.1,727.3 1694.9,728.7 1696.7,730.3 1698.6,732.0 1700.3,732.9 1702.1,733.9 1704.1,734.0 1705.8,735.2 1707.5,736.1 1709.5,737.1 1711.2,739.2 1713.3,739.4 1714.9,741.7 1717.1,742.4 1719.1,744.0 1721.3,744.5 1723.3,746.0 1725.4,746.8 1727.6,747.5 1730.0,748.0 1731.9,749.0 1733.9,749.5 1736.1,750.1 1738.3,750.4 1740.4,751.2 1742.4,752.4 1744.6,752.7 1746.6,753.7 1748.7,754.3 1750.8,754.8 1752.8,756.4 1755.1,755.5 1757.0,757.2 1759.1,757.9 1761.2,758.5 1763.4,757.7 1765.4,759.7 1767.5,759.8 1769.6,759.4 1771.7,759.7 1773.8,759.6 1775.8,760.6 1777.9,761.2 1780.0,761.2 1782.1,760.7 1784.1,761.3 1786.2,761.3 1788.3,761.6 1790.3,763.0 1792.5,762.5 1794.8,762.4 1797.5,763.6 1800.4,763.1 1803.1,763.5 1805.4,763.7 1806.9,763.0 1807.5,763.5"/>
</g>
<g font-family="'Liberation Sans', Arial, sans-serif" fill="#000" style="font-kerning:none" text-rendering="geometricPrecision">
<text transform="translate(254.30 78.20) scale(1.0 1.03)" font-size="52" text-anchor="end">120</text>
<text transform="translate(254.30 210.04) scale(1.0 1.03)" font-size="52" text-anchor="end">100</text>
<text transform="translate(254.30 341.88) scale(1.0 1.03)" font-size="52" text-anchor="end">80</text>
<text transform="translate(254.30 473.73) scale(1.0 1.03)" font-size="52" text-anchor="end">60</text>
<text transform="translate(254.30 605.57) scale(1.0 1.03)" font-size="52" text-anchor="end">40</text>
<text transform="translate(254.30 737.41) scale(1.0 1.03)" font-size="52" text-anchor="end">20</text>
<text transform="translate(254.30 869.25) scale(1.0 1.03)" font-size="52" text-anchor="end">0</text>
<text transform="translate(254.30 1001.09) scale(1.0 1.03)" font-size="52" text-anchor="end"><tspan stroke="#000" stroke-width="1.3">–</tspan>20</text>
<text transform="translate(254.30 1132.94) scale(1.0 1.03)" font-size="52" text-anchor="end"><tspan stroke="#000" stroke-width="1.3">–</tspan>40</text>
<text transform="translate(254.30 1264.78) scale(1.0 1.03)" font-size="52" text-anchor="end"><tspan stroke="#000" stroke-width="1.3">–</tspan>60</text>
<text transform="translate(293.30 1393.60) scale(1.0 1.03)" font-size="52" text-anchor="middle">100</text>
<text transform="translate(433.21 1393.60) scale(1.0 1.03)" font-size="52" text-anchor="middle">125</text>
<text transform="translate(573.12 1393.60) scale(1.0 1.03)" font-size="52" text-anchor="middle">150</text>
<text transform="translate(713.03 1393.60) scale(1.0 1.03)" font-size="52" text-anchor="middle">175</text>
<text transform="translate(852.94 1393.60) scale(1.0 1.03)" font-size="52" text-anchor="middle">200</text>
<text transform="translate(992.85 1393.60) scale(1.0 1.03)" font-size="52" text-anchor="middle">225</text>
<text transform="translate(1132.75 1393.60) scale(1.0 1.03)" font-size="52" text-anchor="middle">250</text>
<text transform="translate(1272.66 1393.60) scale(1.0 1.03)" font-size="52" text-anchor="middle">275</text>
<text transform="translate(1412.57 1393.60) scale(1.0 1.03)" font-size="52" text-anchor="middle">300</text>
<text transform="translate(1552.48 1393.60) scale(1.0 1.03)" font-size="52" text-anchor="middle">325</text>
<text transform="translate(1692.39 1393.60) scale(1.0 1.03)" font-size="52" text-anchor="middle">350</text>
<text transform="translate(1832.30 1393.60) scale(1.0 1.03)" font-size="52" text-anchor="middle">375</text>
<text transform="translate(1063.50 1491.00) scale(1.0 1.0)" font-size="62.5" text-anchor="middle">Temperature (°C)</text>
<text transform="translate(71.5 723) rotate(-90) scale(1 1.04)" font-size="62.5" text-anchor="middle">ΔT (°C)</text>
<path d="M1673 22h420v335h-420zM1675 24v331h416v-331z" fill="#000" fill-rule="evenodd" shape-rendering="crispEdges"/>
<text transform="translate(1706.30 85.80) scale(1.0 1.045)" font-size="45.7" text-anchor="start">ANMNC-KNO<tspan font-size="27" dy="14.3" dx="1">3</tspan><tspan dy="-14.3" dx="-1.5">_</tspan><tspan dx="1">D</tspan></text>
<rect x="1706" y="138" width="104" height="2" fill="#000000" shape-rendering="crispEdges"/>
<text transform="translate(1822.30 154.90) scale(1.0 1.035)" font-size="45.9" text-anchor="start">5 K/min</text>
<rect x="1706" y="195" width="104" height="2" fill="#0000ff" shape-rendering="crispEdges"/>
<text transform="translate(1822.30 211.40) scale(1.0 1.035)" font-size="45.9" text-anchor="start">10 K/min</text>
<rect x="1706" y="251" width="104" height="2" fill="#ff0000" shape-rendering="crispEdges"/>
<text transform="translate(1822.30 267.90) scale(1.0 1.035)" font-size="45.9" text-anchor="start">15 K/min</text>
<rect x="1706" y="308" width="104" height="2" fill="#00ff00" shape-rendering="crispEdges"/>
<text transform="translate(1822.30 324.70) scale(1.0 1.035)" font-size="45.9" text-anchor="start">20 K/min</text>
</g>
</svg>
</body></html>
